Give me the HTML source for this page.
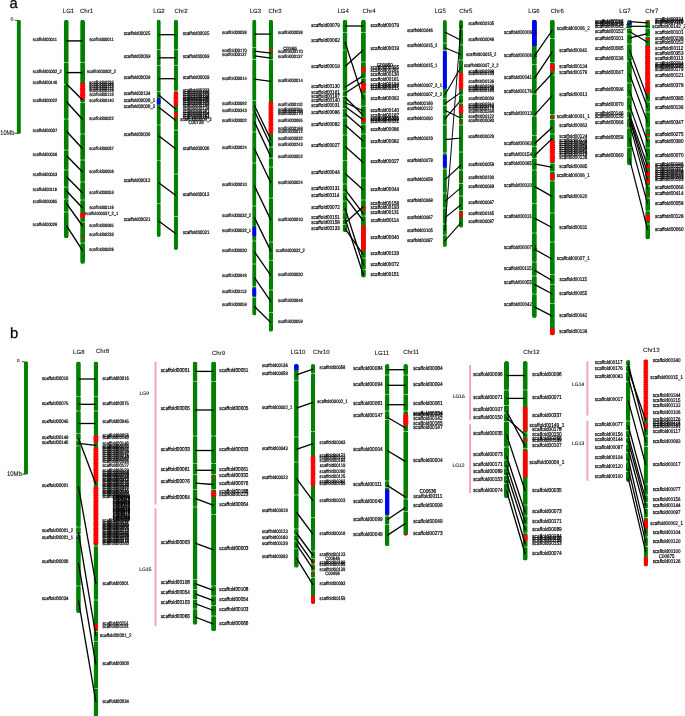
<!DOCTYPE html>
<html lang="en">
<head>
<meta charset="utf-8">
<title>Linkage groups vs chromosomes</title>
<style>
html,body{margin:0;padding:0;background:#fff;}
body{width:685px;height:716px;overflow:hidden;}
svg text{white-space:pre;text-rendering:geometricPrecision;stroke:#000;stroke-width:0.2px;}
svg text.t{stroke-width:0.08px;}
svg line{stroke:#000;stroke-width:1.3px;}
</style>
</head>
<body>
<svg width="685" height="716" viewBox="0 0 685 716" font-family="'Liberation Sans', sans-serif" style="display:block">
<defs><clipPath id="c3"><rect x="63.88" y="19.8" width="4.85" height="218.5" rx="2.42" ry="2.42"/></clipPath><clipPath id="c4"><rect x="80.17" y="19.8" width="4.85" height="244.1" rx="2.42" ry="2.42"/></clipPath><clipPath id="c5"><rect x="156.62" y="19.8" width="4.15" height="217.2" rx="2.08" ry="2.08"/></clipPath><clipPath id="c6"><rect x="173.83" y="19.8" width="4.15" height="230.2" rx="2.08" ry="2.08"/></clipPath><clipPath id="c7"><rect x="252.2" y="19.8" width="4.2" height="295.7" rx="2.1" ry="2.1"/></clipPath><clipPath id="c8"><rect x="268.7" y="19.8" width="4.4" height="312" rx="2.2" ry="2.2"/></clipPath><clipPath id="c9"><rect x="342.57" y="19.8" width="4.85" height="212.4" rx="2.42" ry="2.42"/></clipPath><clipPath id="c10"><rect x="361.02" y="19.8" width="4.85" height="257.9" rx="2.42" ry="2.42"/></clipPath><clipPath id="c11"><rect x="442.73" y="19.9" width="4.15" height="227.1" rx="2.08" ry="2.08"/></clipPath><clipPath id="c12"><rect x="458.93" y="19.9" width="4.15" height="207.9" rx="2.08" ry="2.08"/></clipPath><clipPath id="c13"><rect x="531.98" y="19.8" width="4.85" height="298.3" rx="2.42" ry="2.42"/></clipPath><clipPath id="c14"><rect x="549.98" y="19.8" width="4.85" height="315.7" rx="2.42" ry="2.42"/></clipPath><clipPath id="c15"><rect x="627.03" y="19.7" width="4.85" height="145.8" rx="2.42" ry="2.42"/></clipPath><clipPath id="c16"><rect x="645.27" y="19.7" width="4.75" height="219.7" rx="2.38" ry="2.38"/></clipPath><clipPath id="c17"><rect x="76.08" y="361.4" width="4.75" height="251.8" rx="2.38" ry="2.38"/></clipPath><clipPath id="c18"><rect x="93.6" y="361.4" width="4.6" height="358.6" rx="2.3" ry="2.3"/></clipPath><clipPath id="c19"><rect x="192.75" y="361.6" width="4.7" height="263.2" rx="2.35" ry="2.35"/></clipPath><clipPath id="c20"><rect x="211.1" y="361.6" width="5" height="269.7" rx="2.5" ry="2.5"/></clipPath><clipPath id="c21"><rect x="294.05" y="364" width="4.7" height="203.8" rx="2.35" ry="2.35"/></clipPath><clipPath id="c22"><rect x="310.85" y="364" width="4.3" height="240" rx="2.15" ry="2.15"/></clipPath><clipPath id="c23"><rect x="384.93" y="364" width="4.55" height="182.3" rx="2.27" ry="2.27"/></clipPath><clipPath id="c24"><rect x="403.27" y="364" width="4.85" height="171.7" rx="2.42" ry="2.42"/></clipPath><clipPath id="c25"><rect x="504" y="361" width="5" height="137.2" rx="2.5" ry="2.5"/></clipPath><clipPath id="c26"><rect x="522.7" y="361" width="5" height="199.6" rx="2.5" ry="2.5"/></clipPath><clipPath id="c27"><rect x="626" y="360" width="4.4" height="122" rx="2.2" ry="2.2"/></clipPath><clipPath id="c28"><rect x="643.67" y="359.5" width="4.25" height="206.9" rx="2.12" ry="2.12"/></clipPath></defs>
<g stroke-linecap="butt">
<text x="9.6" y="8.3" font-size="14.8" fill="#000" class="t" style="stroke:#000;stroke-width:0.25px">a</text>
<text x="9.9" y="337.8" font-size="14.8" fill="#000" class="t" style="stroke:#000;stroke-width:0.25px">b</text>
<rect x="16.9" y="20" width="3.9" height="113.8" rx="1" fill="#008000"/>
<line x1="14.65" y1="20.3" x2="17.35" y2="20.3" style="stroke-width:0.7px"/>
<line x1="14.55" y1="133.4" x2="17.85" y2="133.4" style="stroke-width:0.7px"/>
<text x="10.5" y="21.01" font-size="5.3" fill="#111" class="t">0</text>
<text x="0.3" y="134.7" font-size="6.8" fill="#111" class="t" textLength="14" lengthAdjust="spacingAndGlyphs">10Mb</text>
<rect x="24.05" y="361.4" width="3.9" height="113.2" rx="1" fill="#008000"/>
<line x1="21.8" y1="361.7" x2="24.5" y2="361.7" style="stroke-width:0.7px"/>
<line x1="21.7" y1="474.2" x2="25" y2="474.2" style="stroke-width:0.7px"/>
<text x="16.9" y="362.16" font-size="4.6" fill="#111" class="t">0</text>
<text x="7" y="475.5" font-size="6.8" fill="#111" class="t" textLength="14.9" lengthAdjust="spacingAndGlyphs">10Mb</text>
<g clip-path="url(#c3)"><rect x="63.88" y="19.8" width="4.85" height="218.5" fill="#008000"/><rect x="63.88" y="62" width="4.85" height="0.6" fill="#fff" opacity="0.6"/><ellipse cx="63.88" cy="62.3" rx="1" ry="0.55" fill="#fff"/><ellipse cx="68.72" cy="62.3" rx="1" ry="0.55" fill="#fff"/><rect x="63.88" y="84.2" width="4.85" height="0.6" fill="#fff" opacity="0.6"/><ellipse cx="63.88" cy="84.5" rx="1" ry="0.55" fill="#fff"/><ellipse cx="68.72" cy="84.5" rx="1" ry="0.55" fill="#fff"/><rect x="63.88" y="118.7" width="4.85" height="0.6" fill="#fff" opacity="0.6"/><ellipse cx="63.88" cy="119" rx="1" ry="0.55" fill="#fff"/><ellipse cx="68.72" cy="119" rx="1" ry="0.55" fill="#fff"/><rect x="63.88" y="149.7" width="4.85" height="0.6" fill="#fff" opacity="0.6"/><ellipse cx="63.88" cy="150" rx="1" ry="0.55" fill="#fff"/><ellipse cx="68.72" cy="150" rx="1" ry="0.55" fill="#fff"/><rect x="63.88" y="169.7" width="4.85" height="0.6" fill="#fff" opacity="0.6"/><ellipse cx="63.88" cy="170" rx="1" ry="0.55" fill="#fff"/><ellipse cx="68.72" cy="170" rx="1" ry="0.55" fill="#fff"/><rect x="63.88" y="186.7" width="4.85" height="0.6" fill="#fff" opacity="0.6"/><ellipse cx="63.88" cy="187" rx="1" ry="0.55" fill="#fff"/><ellipse cx="68.72" cy="187" rx="1" ry="0.55" fill="#fff"/><rect x="63.88" y="198.7" width="4.85" height="0.6" fill="#fff" opacity="0.6"/><ellipse cx="63.88" cy="199" rx="1" ry="0.55" fill="#fff"/><ellipse cx="68.72" cy="199" rx="1" ry="0.55" fill="#fff"/><rect x="63.88" y="211.7" width="4.85" height="0.6" fill="#fff" opacity="0.6"/><ellipse cx="63.88" cy="212" rx="1" ry="0.55" fill="#fff"/><ellipse cx="68.72" cy="212" rx="1" ry="0.55" fill="#fff"/></g>
<g clip-path="url(#c4)"><rect x="80.17" y="19.8" width="4.85" height="244.1" fill="#008000"/><rect x="80.17" y="82.8" width="4.85" height="17.2" rx="1.2" fill="red"/><rect x="80.17" y="212.8" width="4.85" height="5.1" rx="1.2" fill="red"/><rect x="80.17" y="235.8" width="4.85" height="1.2" rx="0.6" fill="red"/><rect x="80.17" y="62" width="4.85" height="0.6" fill="#fff" opacity="0.6"/><ellipse cx="80.17" cy="62.3" rx="1" ry="0.55" fill="#fff"/><ellipse cx="85.02" cy="62.3" rx="1" ry="0.55" fill="#fff"/><rect x="80.17" y="102.2" width="4.85" height="0.6" fill="#fff" opacity="0.6"/><ellipse cx="80.17" cy="102.5" rx="1" ry="0.55" fill="#fff"/><ellipse cx="85.02" cy="102.5" rx="1" ry="0.55" fill="#fff"/><rect x="80.17" y="133.7" width="4.85" height="0.6" fill="#fff" opacity="0.6"/><ellipse cx="80.17" cy="134" rx="1" ry="0.55" fill="#fff"/><ellipse cx="85.02" cy="134" rx="1" ry="0.55" fill="#fff"/><rect x="80.17" y="159.7" width="4.85" height="0.6" fill="#fff" opacity="0.6"/><ellipse cx="80.17" cy="160" rx="1" ry="0.55" fill="#fff"/><ellipse cx="85.02" cy="160" rx="1" ry="0.55" fill="#fff"/><rect x="80.17" y="181.7" width="4.85" height="0.6" fill="#fff" opacity="0.6"/><ellipse cx="80.17" cy="182" rx="1" ry="0.55" fill="#fff"/><ellipse cx="85.02" cy="182" rx="1" ry="0.55" fill="#fff"/><rect x="80.17" y="199.7" width="4.85" height="0.6" fill="#fff" opacity="0.6"/><ellipse cx="80.17" cy="200" rx="1" ry="0.55" fill="#fff"/><ellipse cx="85.02" cy="200" rx="1" ry="0.55" fill="#fff"/><rect x="80.17" y="221.7" width="4.85" height="0.6" fill="#fff" opacity="0.6"/><ellipse cx="80.17" cy="222" rx="1" ry="0.55" fill="#fff"/><ellipse cx="85.02" cy="222" rx="1" ry="0.55" fill="#fff"/><rect x="80.17" y="242.7" width="4.85" height="0.6" fill="#fff" opacity="0.6"/><ellipse cx="80.17" cy="243" rx="1" ry="0.55" fill="#fff"/><ellipse cx="85.02" cy="243" rx="1" ry="0.55" fill="#fff"/></g>
<rect x="79.97" y="83" width="5.25" height="16.8" rx="1" fill="red"/>
<ellipse cx="79.92" cy="84.1" rx="0.5" ry="0.42" fill="#fff"/><ellipse cx="85.27" cy="84.1" rx="0.5" ry="0.42" fill="#fff"/>
<ellipse cx="79.92" cy="85.85" rx="0.75" ry="0.42" fill="#fff"/><ellipse cx="85.27" cy="85.85" rx="0.75" ry="0.42" fill="#fff"/>
<ellipse cx="79.92" cy="87.6" rx="0.75" ry="0.42" fill="#fff"/><ellipse cx="85.27" cy="87.6" rx="0.75" ry="0.42" fill="#fff"/>
<ellipse cx="79.92" cy="89.35" rx="0.5" ry="0.42" fill="#fff"/><ellipse cx="85.27" cy="89.35" rx="0.5" ry="0.42" fill="#fff"/>
<ellipse cx="79.92" cy="91.1" rx="0.75" ry="0.42" fill="#fff"/><ellipse cx="85.27" cy="91.1" rx="0.75" ry="0.42" fill="#fff"/>
<ellipse cx="79.92" cy="92.85" rx="0.75" ry="0.42" fill="#fff"/><ellipse cx="85.27" cy="92.85" rx="0.75" ry="0.42" fill="#fff"/>
<ellipse cx="79.92" cy="94.6" rx="0.5" ry="0.42" fill="#fff"/><ellipse cx="85.27" cy="94.6" rx="0.5" ry="0.42" fill="#fff"/>
<ellipse cx="79.92" cy="96.35" rx="0.75" ry="0.42" fill="#fff"/><ellipse cx="85.27" cy="96.35" rx="0.75" ry="0.42" fill="#fff"/>
<ellipse cx="79.92" cy="98.1" rx="0.75" ry="0.42" fill="#fff"/><ellipse cx="85.27" cy="98.1" rx="0.75" ry="0.42" fill="#fff"/>
<line x1="66.3" y1="40.9" x2="82.6" y2="40.9" style="stroke-width:1.4px"/>
<line x1="66.3" y1="72.6" x2="82.6" y2="72.6" style="stroke-width:1.4px"/>
<line x1="66.3" y1="83.8" x2="82.6" y2="100.1" style="stroke-width:1.4px"/>
<line x1="66.3" y1="101.5" x2="82.6" y2="119.5" style="stroke-width:1.4px"/>
<line x1="66.3" y1="131" x2="82.6" y2="148.8" style="stroke-width:1.4px"/>
<line x1="66.3" y1="155.5" x2="82.6" y2="171.9" style="stroke-width:1.4px"/>
<line x1="66.3" y1="176.6" x2="82.6" y2="192.9" style="stroke-width:1.4px"/>
<line x1="66.3" y1="190.7" x2="82.6" y2="208" style="stroke-width:1.4px"/>
<line x1="66.3" y1="203.2" x2="82.6" y2="226" style="stroke-width:1.4px"/>
<line x1="66.3" y1="225.4" x2="82.6" y2="250.6" style="stroke-width:1.4px"/>
<text x="32.7" y="41.26" font-size="4.74" textLength="24.23" lengthAdjust="spacingAndGlyphs">scaffold00011</text>
<text x="32.7" y="72.86" font-size="4.74" textLength="28.92" lengthAdjust="spacingAndGlyphs">scaffold00002_2</text>
<text x="32.7" y="84.26" font-size="4.74" textLength="24.53" lengthAdjust="spacingAndGlyphs">scaffold00140</text>
<text x="32.7" y="102.06" font-size="4.74" textLength="24.53" lengthAdjust="spacingAndGlyphs">scaffold00022</text>
<text x="32.7" y="131.86" font-size="4.74" textLength="24.53" lengthAdjust="spacingAndGlyphs">scaffold00037</text>
<text x="32.7" y="155.76" font-size="4.74" textLength="24.53" lengthAdjust="spacingAndGlyphs">scaffold00056</text>
<text x="32.7" y="175.76" font-size="4.74" textLength="24.53" lengthAdjust="spacingAndGlyphs">scaffold00053</text>
<text x="32.7" y="190.76" font-size="4.74" textLength="24.23" lengthAdjust="spacingAndGlyphs">scaffold00116</text>
<text x="32.7" y="203.36" font-size="4.74" textLength="24.53" lengthAdjust="spacingAndGlyphs">scaffold00065</text>
<text x="32.7" y="225.86" font-size="4.74" textLength="24.53" lengthAdjust="spacingAndGlyphs">scaffold00026</text>
<text x="101.5" y="41.26" font-size="4.74" text-anchor="middle" textLength="24.23" lengthAdjust="spacingAndGlyphs">scaffold00011</text>
<text x="101.5" y="72.86" font-size="4.74" text-anchor="middle" textLength="28.92" lengthAdjust="spacingAndGlyphs">scaffold00002_2</text>
<text x="101.5" y="83.66" font-size="4.74" text-anchor="middle" textLength="24.53" lengthAdjust="spacingAndGlyphs">scaffold00232</text>
<text x="101.5" y="85.66" font-size="4.74" text-anchor="middle" textLength="24.53" lengthAdjust="spacingAndGlyphs">scaffold00198</text>
<text x="101.5" y="87.76" font-size="4.74" text-anchor="middle" textLength="24.53" lengthAdjust="spacingAndGlyphs">scaffold00213</text>
<text x="101.5" y="89.76" font-size="4.74" text-anchor="middle" textLength="24.53" lengthAdjust="spacingAndGlyphs">scaffold00175</text>
<text x="101.5" y="91.86" font-size="4.74" text-anchor="middle" textLength="24.53" lengthAdjust="spacingAndGlyphs">scaffold00226</text>
<text x="101.5" y="95.86" font-size="4.74" text-anchor="middle" textLength="24.23" lengthAdjust="spacingAndGlyphs">scaffold00118</text>
<text x="101.5" y="102.06" font-size="4.74" text-anchor="middle" textLength="24.53" lengthAdjust="spacingAndGlyphs">scaffold00140</text>
<text x="101.5" y="120.36" font-size="4.74" text-anchor="middle" textLength="24.53" lengthAdjust="spacingAndGlyphs">scaffold00022</text>
<text x="101.5" y="149.86" font-size="4.74" text-anchor="middle" textLength="24.53" lengthAdjust="spacingAndGlyphs">scaffold00037</text>
<text x="101.5" y="173.16" font-size="4.74" text-anchor="middle" textLength="24.53" lengthAdjust="spacingAndGlyphs">scaffold00056</text>
<text x="101.5" y="193.56" font-size="4.74" text-anchor="middle" textLength="24.53" lengthAdjust="spacingAndGlyphs">scaffold00053</text>
<text x="101.5" y="208.66" font-size="4.74" text-anchor="middle" textLength="24.23" lengthAdjust="spacingAndGlyphs">scaffold00116</text>
<text x="101.5" y="215.26" font-size="4.74" text-anchor="middle" textLength="33.31" lengthAdjust="spacingAndGlyphs">scaffold00037_2_1</text>
<text x="101.5" y="226.86" font-size="4.74" text-anchor="middle" textLength="24.53" lengthAdjust="spacingAndGlyphs">scaffold00065</text>
<text x="101.5" y="236.46" font-size="4.74" text-anchor="middle" textLength="24.53" lengthAdjust="spacingAndGlyphs">scaffold00233</text>
<text x="101.5" y="250.86" font-size="4.74" text-anchor="middle" textLength="24.53" lengthAdjust="spacingAndGlyphs">scaffold00026</text>
<text x="68.5" y="13.38" font-size="6.05" text-anchor="middle" fill="#111" class="t">LG1</text>
<text x="86.5" y="13.38" font-size="6.05" text-anchor="middle" fill="#111" class="t">Chr1</text>
<g clip-path="url(#c5)"><rect x="156.62" y="19.8" width="4.15" height="217.2" fill="#008000"/><rect x="156.62" y="98.5" width="4.15" height="5.7" rx="1.2" fill="blue"/><rect x="156.62" y="49.4" width="4.15" height="0.6" fill="#fff" opacity="0.6"/><ellipse cx="156.62" cy="49.7" rx="1" ry="0.55" fill="#fff"/><ellipse cx="160.77" cy="49.7" rx="1" ry="0.55" fill="#fff"/><rect x="156.62" y="65.1" width="4.15" height="0.6" fill="#fff" opacity="0.6"/><ellipse cx="156.62" cy="65.4" rx="1" ry="0.55" fill="#fff"/><ellipse cx="160.77" cy="65.4" rx="1" ry="0.55" fill="#fff"/><rect x="156.62" y="91.2" width="4.15" height="0.6" fill="#fff" opacity="0.6"/><ellipse cx="156.62" cy="91.5" rx="1" ry="0.55" fill="#fff"/><ellipse cx="160.77" cy="91.5" rx="1" ry="0.55" fill="#fff"/><rect x="156.62" y="159.9" width="4.15" height="0.6" fill="#fff" opacity="0.6"/><ellipse cx="156.62" cy="160.2" rx="1" ry="0.55" fill="#fff"/><ellipse cx="160.77" cy="160.2" rx="1" ry="0.55" fill="#fff"/><rect x="156.62" y="203" width="4.15" height="0.6" fill="#fff" opacity="0.6"/><ellipse cx="156.62" cy="203.3" rx="1" ry="0.55" fill="#fff"/><ellipse cx="160.77" cy="203.3" rx="1" ry="0.55" fill="#fff"/><rect x="156.62" y="124.7" width="4.15" height="0.6" fill="#fff" opacity="0.6"/><ellipse cx="156.62" cy="125" rx="1" ry="0.55" fill="#fff"/><ellipse cx="160.77" cy="125" rx="1" ry="0.55" fill="#fff"/></g>
<g clip-path="url(#c6)"><rect x="173.83" y="19.8" width="4.15" height="230.2" fill="#008000"/><rect x="173.83" y="92" width="4.15" height="14.3" rx="1.2" fill="red"/><rect x="173.83" y="112" width="4.15" height="5" rx="1.2" fill="red"/><rect x="173.83" y="122.7" width="4.15" height="1" rx="0.5" fill="red"/><rect x="173.83" y="49.4" width="4.15" height="0.6" fill="#fff" opacity="0.6"/><ellipse cx="173.83" cy="49.7" rx="1" ry="0.55" fill="#fff"/><ellipse cx="177.97" cy="49.7" rx="1" ry="0.55" fill="#fff"/><rect x="173.83" y="65.1" width="4.15" height="0.6" fill="#fff" opacity="0.6"/><ellipse cx="173.83" cy="65.4" rx="1" ry="0.55" fill="#fff"/><ellipse cx="177.97" cy="65.4" rx="1" ry="0.55" fill="#fff"/><rect x="173.83" y="90.7" width="4.15" height="0.6" fill="#fff" opacity="0.6"/><ellipse cx="173.83" cy="91" rx="1" ry="0.55" fill="#fff"/><ellipse cx="177.97" cy="91" rx="1" ry="0.55" fill="#fff"/><rect x="173.83" y="173.7" width="4.15" height="0.6" fill="#fff" opacity="0.6"/><ellipse cx="173.83" cy="174" rx="1" ry="0.55" fill="#fff"/><ellipse cx="177.97" cy="174" rx="1" ry="0.55" fill="#fff"/><rect x="173.83" y="216.1" width="4.15" height="0.6" fill="#fff" opacity="0.6"/><ellipse cx="173.83" cy="216.4" rx="1" ry="0.55" fill="#fff"/><ellipse cx="177.97" cy="216.4" rx="1" ry="0.55" fill="#fff"/><rect x="173.83" y="129.7" width="4.15" height="0.6" fill="#fff" opacity="0.6"/><ellipse cx="173.83" cy="130" rx="1" ry="0.55" fill="#fff"/><ellipse cx="177.97" cy="130" rx="1" ry="0.55" fill="#fff"/></g>
<rect x="173.63" y="92.2" width="4.55" height="13.9" rx="1" fill="red"/>
<ellipse cx="173.58" cy="93.3" rx="0.5" ry="0.42" fill="#fff"/><ellipse cx="178.22" cy="93.3" rx="0.5" ry="0.42" fill="#fff"/>
<ellipse cx="173.58" cy="95.05" rx="0.75" ry="0.42" fill="#fff"/><ellipse cx="178.22" cy="95.05" rx="0.75" ry="0.42" fill="#fff"/>
<ellipse cx="173.58" cy="96.8" rx="0.75" ry="0.42" fill="#fff"/><ellipse cx="178.22" cy="96.8" rx="0.75" ry="0.42" fill="#fff"/>
<ellipse cx="173.58" cy="98.55" rx="0.5" ry="0.42" fill="#fff"/><ellipse cx="178.22" cy="98.55" rx="0.5" ry="0.42" fill="#fff"/>
<ellipse cx="173.58" cy="100.3" rx="0.75" ry="0.42" fill="#fff"/><ellipse cx="178.22" cy="100.3" rx="0.75" ry="0.42" fill="#fff"/>
<ellipse cx="173.58" cy="102.05" rx="0.75" ry="0.42" fill="#fff"/><ellipse cx="178.22" cy="102.05" rx="0.75" ry="0.42" fill="#fff"/>
<ellipse cx="173.58" cy="103.8" rx="0.5" ry="0.42" fill="#fff"/><ellipse cx="178.22" cy="103.8" rx="0.5" ry="0.42" fill="#fff"/>
<line x1="158.7" y1="34.7" x2="175.9" y2="34.7"/>
<line x1="158.7" y1="57.8" x2="175.9" y2="57.8"/>
<line x1="158.7" y1="78.7" x2="175.9" y2="78.7"/>
<line x1="158.7" y1="95" x2="175.9" y2="109.3"/>
<line x1="158.7" y1="107.3" x2="175.9" y2="120.6"/>
<line x1="158.7" y1="135.8" x2="175.9" y2="149.1"/>
<line x1="158.7" y1="182.8" x2="175.9" y2="195.5"/>
<line x1="158.7" y1="221" x2="175.9" y2="233.7"/>
<text x="123.7" y="34.91" font-size="5.16" textLength="26.7" lengthAdjust="spacingAndGlyphs">scaffold00025</text>
<text x="123.7" y="58.21" font-size="5.16" textLength="26.7" lengthAdjust="spacingAndGlyphs">scaffold00069</text>
<text x="123.7" y="79.01" font-size="5.16" textLength="26.7" lengthAdjust="spacingAndGlyphs">scaffold00009</text>
<text x="123.7" y="95.21" font-size="5.16" textLength="26.7" lengthAdjust="spacingAndGlyphs">scaffold00134</text>
<text x="123.7" y="102.11" font-size="5.16" textLength="31.48" lengthAdjust="spacingAndGlyphs">scaffold00008_1</text>
<text x="123.7" y="108.01" font-size="5.16" textLength="31.48" lengthAdjust="spacingAndGlyphs">scaffold00008_2</text>
<text x="123.7" y="136.31" font-size="5.16" textLength="26.7" lengthAdjust="spacingAndGlyphs">scaffold00006</text>
<text x="123.7" y="182.41" font-size="5.16" textLength="26.7" lengthAdjust="spacingAndGlyphs">scaffold00012</text>
<text x="123.7" y="220.81" font-size="5.16" textLength="26.7" lengthAdjust="spacingAndGlyphs">scaffold00021</text>
<text x="196" y="34.91" font-size="5.16" text-anchor="middle" textLength="26.7" lengthAdjust="spacingAndGlyphs">scaffold00025</text>
<text x="196" y="58.21" font-size="5.16" text-anchor="middle" textLength="26.7" lengthAdjust="spacingAndGlyphs">scaffold00069</text>
<text x="196" y="79.01" font-size="5.16" text-anchor="middle" textLength="26.7" lengthAdjust="spacingAndGlyphs">scaffold00009</text>
<text x="196" y="92.31" font-size="5.16" text-anchor="middle" textLength="26.7" lengthAdjust="spacingAndGlyphs">scaffold00203</text>
<text x="196" y="94.11" font-size="5.16" text-anchor="middle" textLength="26.7" lengthAdjust="spacingAndGlyphs">scaffold00186</text>
<text x="196" y="95.91" font-size="5.16" text-anchor="middle" textLength="26.7" lengthAdjust="spacingAndGlyphs">scaffold00259</text>
<text x="196" y="97.71" font-size="5.16" text-anchor="middle" textLength="26.7" lengthAdjust="spacingAndGlyphs">scaffold00134</text>
<text x="196" y="99.51" font-size="5.16" text-anchor="middle" textLength="26.7" lengthAdjust="spacingAndGlyphs">scaffold00388</text>
<text x="196" y="101.31" font-size="5.16" text-anchor="middle" textLength="26.7" lengthAdjust="spacingAndGlyphs">scaffold00225</text>
<text x="196" y="103.11" font-size="5.16" text-anchor="middle" textLength="26.7" lengthAdjust="spacingAndGlyphs">scaffold00196</text>
<text x="196" y="104.91" font-size="5.16" text-anchor="middle" textLength="26.7" lengthAdjust="spacingAndGlyphs">scaffold00283</text>
<text x="196" y="106.71" font-size="5.16" text-anchor="middle" textLength="26.7" lengthAdjust="spacingAndGlyphs">scaffold00148</text>
<text x="196" y="109.81" font-size="5.16" text-anchor="middle" textLength="26.7" lengthAdjust="spacingAndGlyphs">scaffold00134</text>
<text x="196" y="113.31" font-size="5.16" text-anchor="middle" textLength="26.7" lengthAdjust="spacingAndGlyphs">scaffold00241</text>
<text x="196" y="115.11" font-size="5.16" text-anchor="middle" textLength="26.7" lengthAdjust="spacingAndGlyphs">scaffold00164</text>
<text x="196" y="116.91" font-size="5.16" text-anchor="middle" textLength="26.7" lengthAdjust="spacingAndGlyphs">scaffold00291</text>
<text x="196" y="118.71" font-size="5.16" text-anchor="middle" textLength="26.7" lengthAdjust="spacingAndGlyphs">scaffold00184</text>
<text x="196" y="120.51" font-size="5.16" text-anchor="middle" textLength="31.48" lengthAdjust="spacingAndGlyphs">scaffold00008_2</text>
<text x="196" y="124.21" font-size="5.16" text-anchor="middle" textLength="15.06" lengthAdjust="spacingAndGlyphs">C00728</text>
<text x="196" y="149.51" font-size="5.16" text-anchor="middle" textLength="26.7" lengthAdjust="spacingAndGlyphs">scaffold00006</text>
<text x="196" y="196.11" font-size="5.16" text-anchor="middle" textLength="26.7" lengthAdjust="spacingAndGlyphs">scaffold00012</text>
<text x="196" y="234.31" font-size="5.16" text-anchor="middle" textLength="26.7" lengthAdjust="spacingAndGlyphs">scaffold00021</text>
<text x="159" y="13.38" font-size="6.05" text-anchor="middle" fill="#111" class="t">LG2</text>
<text x="181" y="13.38" font-size="6.05" text-anchor="middle" fill="#111" class="t">Chr2</text>
<g clip-path="url(#c7)"><rect x="252.2" y="19.8" width="4.2" height="295.7" fill="#008000"/><rect x="252.2" y="226.7" width="4.2" height="9.6" rx="1.2" fill="blue"/><rect x="252.2" y="288.3" width="4.2" height="7.7" rx="1.2" fill="blue"/><rect x="252.2" y="47.2" width="4.2" height="0.6" fill="#fff" opacity="0.6"/><ellipse cx="252.2" cy="47.5" rx="1" ry="0.55" fill="#fff"/><ellipse cx="256.4" cy="47.5" rx="1" ry="0.55" fill="#fff"/><rect x="252.2" y="59.2" width="4.2" height="0.6" fill="#fff" opacity="0.6"/><ellipse cx="252.2" cy="59.5" rx="1" ry="0.55" fill="#fff"/><ellipse cx="256.4" cy="59.5" rx="1" ry="0.55" fill="#fff"/><rect x="252.2" y="100.2" width="4.2" height="0.6" fill="#fff" opacity="0.6"/><ellipse cx="252.2" cy="100.5" rx="1" ry="0.55" fill="#fff"/><ellipse cx="256.4" cy="100.5" rx="1" ry="0.55" fill="#fff"/><rect x="252.2" y="111.7" width="4.2" height="0.6" fill="#fff" opacity="0.6"/><ellipse cx="252.2" cy="112" rx="1" ry="0.55" fill="#fff"/><ellipse cx="256.4" cy="112" rx="1" ry="0.55" fill="#fff"/><rect x="252.2" y="131.7" width="4.2" height="0.6" fill="#fff" opacity="0.6"/><ellipse cx="252.2" cy="132" rx="1" ry="0.55" fill="#fff"/><ellipse cx="256.4" cy="132" rx="1" ry="0.55" fill="#fff"/><rect x="252.2" y="162.7" width="4.2" height="0.6" fill="#fff" opacity="0.6"/><ellipse cx="252.2" cy="163" rx="1" ry="0.55" fill="#fff"/><ellipse cx="256.4" cy="163" rx="1" ry="0.55" fill="#fff"/><rect x="252.2" y="205.7" width="4.2" height="0.6" fill="#fff" opacity="0.6"/><ellipse cx="252.2" cy="206" rx="1" ry="0.55" fill="#fff"/><ellipse cx="256.4" cy="206" rx="1" ry="0.55" fill="#fff"/><rect x="252.2" y="263.7" width="4.2" height="0.6" fill="#fff" opacity="0.6"/><ellipse cx="252.2" cy="264" rx="1" ry="0.55" fill="#fff"/><ellipse cx="256.4" cy="264" rx="1" ry="0.55" fill="#fff"/><rect x="252.2" y="286.2" width="4.2" height="0.6" fill="#fff" opacity="0.6"/><ellipse cx="252.2" cy="286.5" rx="1" ry="0.55" fill="#fff"/><ellipse cx="256.4" cy="286.5" rx="1" ry="0.55" fill="#fff"/><rect x="252.2" y="297.2" width="4.2" height="0.6" fill="#fff" opacity="0.6"/><ellipse cx="252.2" cy="297.5" rx="1" ry="0.55" fill="#fff"/><ellipse cx="256.4" cy="297.5" rx="1" ry="0.55" fill="#fff"/><rect x="252.2" y="240.7" width="4.2" height="0.6" fill="#fff" opacity="0.6"/><ellipse cx="252.2" cy="241" rx="1" ry="0.55" fill="#fff"/><ellipse cx="256.4" cy="241" rx="1" ry="0.55" fill="#fff"/></g>
<g clip-path="url(#c8)"><rect x="268.7" y="19.8" width="4.4" height="312" fill="#008000"/><rect x="268.7" y="49" width="4.4" height="2" rx="1" fill="red"/><rect x="268.7" y="101.8" width="4.4" height="32" rx="1.2" fill="red"/><rect x="268.7" y="59.2" width="4.4" height="0.6" fill="#fff" opacity="0.6"/><ellipse cx="268.7" cy="59.5" rx="1" ry="0.55" fill="#fff"/><ellipse cx="273.1" cy="59.5" rx="1" ry="0.55" fill="#fff"/><rect x="268.7" y="146.7" width="4.4" height="0.6" fill="#fff" opacity="0.6"/><ellipse cx="268.7" cy="147" rx="1" ry="0.55" fill="#fff"/><ellipse cx="273.1" cy="147" rx="1" ry="0.55" fill="#fff"/><rect x="268.7" y="157.7" width="4.4" height="0.6" fill="#fff" opacity="0.6"/><ellipse cx="268.7" cy="158" rx="1" ry="0.55" fill="#fff"/><ellipse cx="273.1" cy="158" rx="1" ry="0.55" fill="#fff"/><rect x="268.7" y="166.7" width="4.4" height="0.6" fill="#fff" opacity="0.6"/><ellipse cx="268.7" cy="167" rx="1" ry="0.55" fill="#fff"/><ellipse cx="273.1" cy="167" rx="1" ry="0.55" fill="#fff"/><rect x="268.7" y="197.7" width="4.4" height="0.6" fill="#fff" opacity="0.6"/><ellipse cx="268.7" cy="198" rx="1" ry="0.55" fill="#fff"/><ellipse cx="273.1" cy="198" rx="1" ry="0.55" fill="#fff"/><rect x="268.7" y="241.7" width="4.4" height="0.6" fill="#fff" opacity="0.6"/><ellipse cx="268.7" cy="242" rx="1" ry="0.55" fill="#fff"/><ellipse cx="273.1" cy="242" rx="1" ry="0.55" fill="#fff"/><rect x="268.7" y="260.2" width="4.4" height="0.6" fill="#fff" opacity="0.6"/><ellipse cx="268.7" cy="260.5" rx="1" ry="0.55" fill="#fff"/><ellipse cx="273.1" cy="260.5" rx="1" ry="0.55" fill="#fff"/><rect x="268.7" y="289.7" width="4.4" height="0.6" fill="#fff" opacity="0.6"/><ellipse cx="268.7" cy="290" rx="1" ry="0.55" fill="#fff"/><ellipse cx="273.1" cy="290" rx="1" ry="0.55" fill="#fff"/><rect x="268.7" y="312.2" width="4.4" height="0.6" fill="#fff" opacity="0.6"/><ellipse cx="268.7" cy="312.5" rx="1" ry="0.55" fill="#fff"/><ellipse cx="273.1" cy="312.5" rx="1" ry="0.55" fill="#fff"/></g>
<rect x="268.5" y="102" width="4.8" height="31.6" rx="1" fill="red"/>
<ellipse cx="268.45" cy="103.1" rx="0.5" ry="0.42" fill="#fff"/><ellipse cx="273.35" cy="103.1" rx="0.5" ry="0.42" fill="#fff"/>
<ellipse cx="268.45" cy="104.85" rx="0.75" ry="0.42" fill="#fff"/><ellipse cx="273.35" cy="104.85" rx="0.75" ry="0.42" fill="#fff"/>
<ellipse cx="268.45" cy="106.6" rx="0.75" ry="0.42" fill="#fff"/><ellipse cx="273.35" cy="106.6" rx="0.75" ry="0.42" fill="#fff"/>
<ellipse cx="268.45" cy="108.35" rx="0.5" ry="0.42" fill="#fff"/><ellipse cx="273.35" cy="108.35" rx="0.5" ry="0.42" fill="#fff"/>
<ellipse cx="268.45" cy="110.1" rx="0.75" ry="0.42" fill="#fff"/><ellipse cx="273.35" cy="110.1" rx="0.75" ry="0.42" fill="#fff"/>
<ellipse cx="268.45" cy="111.85" rx="0.75" ry="0.42" fill="#fff"/><ellipse cx="273.35" cy="111.85" rx="0.75" ry="0.42" fill="#fff"/>
<ellipse cx="268.45" cy="113.6" rx="0.5" ry="0.42" fill="#fff"/><ellipse cx="273.35" cy="113.6" rx="0.5" ry="0.42" fill="#fff"/>
<ellipse cx="268.45" cy="115.35" rx="0.75" ry="0.42" fill="#fff"/><ellipse cx="273.35" cy="115.35" rx="0.75" ry="0.42" fill="#fff"/>
<ellipse cx="268.45" cy="117.1" rx="0.75" ry="0.42" fill="#fff"/><ellipse cx="273.35" cy="117.1" rx="0.75" ry="0.42" fill="#fff"/>
<ellipse cx="268.45" cy="118.85" rx="0.5" ry="0.42" fill="#fff"/><ellipse cx="273.35" cy="118.85" rx="0.5" ry="0.42" fill="#fff"/>
<ellipse cx="268.45" cy="120.6" rx="0.75" ry="0.42" fill="#fff"/><ellipse cx="273.35" cy="120.6" rx="0.75" ry="0.42" fill="#fff"/>
<ellipse cx="268.45" cy="122.35" rx="0.75" ry="0.42" fill="#fff"/><ellipse cx="273.35" cy="122.35" rx="0.75" ry="0.42" fill="#fff"/>
<ellipse cx="268.45" cy="124.1" rx="0.5" ry="0.42" fill="#fff"/><ellipse cx="273.35" cy="124.1" rx="0.5" ry="0.42" fill="#fff"/>
<ellipse cx="268.45" cy="125.85" rx="0.75" ry="0.42" fill="#fff"/><ellipse cx="273.35" cy="125.85" rx="0.75" ry="0.42" fill="#fff"/>
<ellipse cx="268.45" cy="127.6" rx="0.75" ry="0.42" fill="#fff"/><ellipse cx="273.35" cy="127.6" rx="0.75" ry="0.42" fill="#fff"/>
<ellipse cx="268.45" cy="129.35" rx="0.5" ry="0.42" fill="#fff"/><ellipse cx="273.35" cy="129.35" rx="0.5" ry="0.42" fill="#fff"/>
<ellipse cx="268.45" cy="131.1" rx="0.75" ry="0.42" fill="#fff"/><ellipse cx="273.35" cy="131.1" rx="0.75" ry="0.42" fill="#fff"/>
<ellipse cx="268.45" cy="132.85" rx="0.75" ry="0.42" fill="#fff"/><ellipse cx="273.35" cy="132.85" rx="0.75" ry="0.42" fill="#fff"/>
<line x1="254.3" y1="34.1" x2="270.9" y2="34.1"/>
<line x1="254.3" y1="51.1" x2="270.9" y2="53.1"/>
<line x1="254.3" y1="55.8" x2="270.9" y2="58.2"/>
<line x1="254.3" y1="79.1" x2="270.9" y2="81.3"/>
<line x1="254.3" y1="105.2" x2="270.9" y2="139.6"/>
<line x1="254.3" y1="110.9" x2="270.9" y2="145.7"/>
<line x1="254.3" y1="121.6" x2="270.9" y2="156.9"/>
<line x1="254.3" y1="148.5" x2="270.9" y2="182.9"/>
<line x1="254.3" y1="185.5" x2="270.9" y2="220.1"/>
<line x1="254.3" y1="217.4" x2="270.9" y2="251.1"/>
<line x1="254.3" y1="251.5" x2="270.9" y2="275.6"/>
<line x1="254.3" y1="277.3" x2="270.9" y2="301.6"/>
<line x1="254.3" y1="306.3" x2="270.9" y2="322.6"/>
<text x="222" y="34.37" font-size="4.76" textLength="24.65" lengthAdjust="spacingAndGlyphs">scaffold00038</text>
<text x="222" y="51.57" font-size="4.76" textLength="24.65" lengthAdjust="spacingAndGlyphs">scaffold00170</text>
<text x="222" y="56.47" font-size="4.76" textLength="24.65" lengthAdjust="spacingAndGlyphs">scaffold00137</text>
<text x="222" y="79.77" font-size="4.76" textLength="24.65" lengthAdjust="spacingAndGlyphs">scaffold00014</text>
<text x="222" y="105.27" font-size="4.76" textLength="24.65" lengthAdjust="spacingAndGlyphs">scaffold00092</text>
<text x="222" y="111.57" font-size="4.76" textLength="24.65" lengthAdjust="spacingAndGlyphs">scaffold00343</text>
<text x="222" y="122.47" font-size="4.76" textLength="24.65" lengthAdjust="spacingAndGlyphs">scaffold00002</text>
<text x="222" y="148.97" font-size="4.76" textLength="24.65" lengthAdjust="spacingAndGlyphs">scaffold00024</text>
<text x="222" y="185.97" font-size="4.76" textLength="24.65" lengthAdjust="spacingAndGlyphs">scaffold00010</text>
<text x="222" y="217.17" font-size="4.76" textLength="29.07" lengthAdjust="spacingAndGlyphs">scaffold00032_2</text>
<text x="222" y="231.87" font-size="4.76" textLength="29.07" lengthAdjust="spacingAndGlyphs">scaffold00032_1</text>
<text x="222" y="251.57" font-size="4.76" textLength="24.65" lengthAdjust="spacingAndGlyphs">scaffold00030</text>
<text x="222" y="276.87" font-size="4.76" textLength="24.65" lengthAdjust="spacingAndGlyphs">scaffold00048</text>
<text x="222" y="292.57" font-size="4.76" textLength="24.36" lengthAdjust="spacingAndGlyphs">scaffold00113</text>
<text x="222" y="306.47" font-size="4.76" textLength="24.65" lengthAdjust="spacingAndGlyphs">scaffold00059</text>
<text x="290.3" y="34.37" font-size="4.76" text-anchor="middle" textLength="24.65" lengthAdjust="spacingAndGlyphs">scaffold00038</text>
<text x="290.3" y="50.27" font-size="4.76" text-anchor="middle" textLength="13.91" lengthAdjust="spacingAndGlyphs">C00465</text>
<text x="290.3" y="53.37" font-size="4.76" text-anchor="middle" textLength="24.65" lengthAdjust="spacingAndGlyphs">scaffold00170</text>
<text x="290.3" y="58.47" font-size="4.76" text-anchor="middle" textLength="24.65" lengthAdjust="spacingAndGlyphs">scaffold00137</text>
<text x="290.3" y="81.87" font-size="4.76" text-anchor="middle" textLength="24.65" lengthAdjust="spacingAndGlyphs">scaffold00014</text>
<text x="290.3" y="106.27" font-size="4.76" text-anchor="middle" textLength="24.36" lengthAdjust="spacingAndGlyphs">scaffold00110</text>
<text x="290.3" y="111.17" font-size="4.76" text-anchor="middle" textLength="24.65" lengthAdjust="spacingAndGlyphs">scaffold00265</text>
<text x="290.3" y="113.27" font-size="4.76" text-anchor="middle" textLength="24.65" lengthAdjust="spacingAndGlyphs">scaffold00199</text>
<text x="290.3" y="115.27" font-size="4.76" text-anchor="middle" textLength="24.65" lengthAdjust="spacingAndGlyphs">scaffold00170</text>
<text x="290.3" y="122.37" font-size="4.76" text-anchor="middle" textLength="24.65" lengthAdjust="spacingAndGlyphs">scaffold00095</text>
<text x="290.3" y="129.57" font-size="4.76" text-anchor="middle" textLength="24.65" lengthAdjust="spacingAndGlyphs">scaffold00168</text>
<text x="290.3" y="133.07" font-size="4.76" text-anchor="middle" textLength="24.65" lengthAdjust="spacingAndGlyphs">scaffold00012</text>
<text x="290.3" y="139.97" font-size="4.76" text-anchor="middle" textLength="24.65" lengthAdjust="spacingAndGlyphs">scaffold00032</text>
<text x="290.3" y="146.17" font-size="4.76" text-anchor="middle" textLength="24.65" lengthAdjust="spacingAndGlyphs">scaffold00243</text>
<text x="290.3" y="157.57" font-size="4.76" text-anchor="middle" textLength="24.65" lengthAdjust="spacingAndGlyphs">scaffold00052</text>
<text x="290.3" y="183.77" font-size="4.76" text-anchor="middle" textLength="24.65" lengthAdjust="spacingAndGlyphs">scaffold00024</text>
<text x="290.3" y="220.77" font-size="4.76" text-anchor="middle" textLength="24.65" lengthAdjust="spacingAndGlyphs">scaffold00010</text>
<text x="290.3" y="252.37" font-size="4.76" text-anchor="middle" textLength="29.07" lengthAdjust="spacingAndGlyphs">scaffold00032_2</text>
<text x="290.3" y="276.47" font-size="4.76" text-anchor="middle" textLength="24.65" lengthAdjust="spacingAndGlyphs">scaffold00030</text>
<text x="290.3" y="301.97" font-size="4.76" text-anchor="middle" textLength="24.65" lengthAdjust="spacingAndGlyphs">scaffold00048</text>
<text x="290.3" y="323.07" font-size="4.76" text-anchor="middle" textLength="24.65" lengthAdjust="spacingAndGlyphs">scaffold00059</text>
<text x="255.4" y="13.38" font-size="6.05" text-anchor="middle" fill="#111" class="t">LG3</text>
<text x="275" y="13.38" font-size="6.05" text-anchor="middle" fill="#111" class="t">Chr3</text>
<g clip-path="url(#c9)"><rect x="342.57" y="19.8" width="4.85" height="212.4" fill="#008000"/><rect x="342.57" y="32.2" width="4.85" height="0.6" fill="#fff" opacity="0.6"/><ellipse cx="342.57" cy="32.5" rx="1" ry="0.55" fill="#fff"/><ellipse cx="347.43" cy="32.5" rx="1" ry="0.55" fill="#fff"/><rect x="342.57" y="49.7" width="4.85" height="0.6" fill="#fff" opacity="0.6"/><ellipse cx="342.57" cy="50" rx="1" ry="0.55" fill="#fff"/><ellipse cx="347.43" cy="50" rx="1" ry="0.55" fill="#fff"/><rect x="342.57" y="90.7" width="4.85" height="0.6" fill="#fff" opacity="0.6"/><ellipse cx="342.57" cy="91" rx="1" ry="0.55" fill="#fff"/><ellipse cx="347.43" cy="91" rx="1" ry="0.55" fill="#fff"/><rect x="342.57" y="96.2" width="4.85" height="0.6" fill="#fff" opacity="0.6"/><ellipse cx="342.57" cy="96.5" rx="1" ry="0.55" fill="#fff"/><ellipse cx="347.43" cy="96.5" rx="1" ry="0.55" fill="#fff"/><rect x="342.57" y="108.2" width="4.85" height="0.6" fill="#fff" opacity="0.6"/><ellipse cx="342.57" cy="108.5" rx="1" ry="0.55" fill="#fff"/><ellipse cx="347.43" cy="108.5" rx="1" ry="0.55" fill="#fff"/><rect x="342.57" y="117.7" width="4.85" height="0.6" fill="#fff" opacity="0.6"/><ellipse cx="342.57" cy="118" rx="1" ry="0.55" fill="#fff"/><ellipse cx="347.43" cy="118" rx="1" ry="0.55" fill="#fff"/><rect x="342.57" y="134.7" width="4.85" height="0.6" fill="#fff" opacity="0.6"/><ellipse cx="342.57" cy="135" rx="1" ry="0.55" fill="#fff"/><ellipse cx="347.43" cy="135" rx="1" ry="0.55" fill="#fff"/><rect x="342.57" y="160.2" width="4.85" height="0.6" fill="#fff" opacity="0.6"/><ellipse cx="342.57" cy="160.5" rx="1" ry="0.55" fill="#fff"/><ellipse cx="347.43" cy="160.5" rx="1" ry="0.55" fill="#fff"/><rect x="342.57" y="183.7" width="4.85" height="0.6" fill="#fff" opacity="0.6"/><ellipse cx="342.57" cy="184" rx="1" ry="0.55" fill="#fff"/><ellipse cx="347.43" cy="184" rx="1" ry="0.55" fill="#fff"/><rect x="342.57" y="191.7" width="4.85" height="0.6" fill="#fff" opacity="0.6"/><ellipse cx="342.57" cy="192" rx="1" ry="0.55" fill="#fff"/><ellipse cx="347.43" cy="192" rx="1" ry="0.55" fill="#fff"/><rect x="342.57" y="200.7" width="4.85" height="0.6" fill="#fff" opacity="0.6"/><ellipse cx="342.57" cy="201" rx="1" ry="0.55" fill="#fff"/><ellipse cx="347.43" cy="201" rx="1" ry="0.55" fill="#fff"/><rect x="342.57" y="211.7" width="4.85" height="0.6" fill="#fff" opacity="0.6"/><ellipse cx="342.57" cy="212" rx="1" ry="0.55" fill="#fff"/><ellipse cx="347.43" cy="212" rx="1" ry="0.55" fill="#fff"/><rect x="342.57" y="219.2" width="4.85" height="0.6" fill="#fff" opacity="0.6"/><ellipse cx="342.57" cy="219.5" rx="1" ry="0.55" fill="#fff"/><ellipse cx="347.43" cy="219.5" rx="1" ry="0.55" fill="#fff"/><rect x="342.57" y="224.2" width="4.85" height="0.6" fill="#fff" opacity="0.6"/><ellipse cx="342.57" cy="224.5" rx="1" ry="0.55" fill="#fff"/><ellipse cx="347.43" cy="224.5" rx="1" ry="0.55" fill="#fff"/></g>
<g clip-path="url(#c10)"><rect x="361.02" y="19.8" width="4.85" height="257.9" fill="#008000"/><rect x="361.02" y="67" width="4.85" height="5" rx="1.2" fill="red"/><rect x="361.02" y="83" width="4.85" height="7.8" rx="1.2" fill="red"/><rect x="361.02" y="117.6" width="4.85" height="4.3" rx="1.2" fill="red"/><rect x="361.02" y="206.6" width="4.85" height="2.9" rx="1.2" fill="red"/><rect x="361.02" y="225.3" width="4.85" height="25.4" rx="1.2" fill="red"/><rect x="361.02" y="32.2" width="4.85" height="0.6" fill="#fff" opacity="0.6"/><ellipse cx="361.02" cy="32.5" rx="1" ry="0.55" fill="#fff"/><ellipse cx="365.88" cy="32.5" rx="1" ry="0.55" fill="#fff"/><rect x="361.02" y="61.7" width="4.85" height="0.6" fill="#fff" opacity="0.6"/><ellipse cx="361.02" cy="62" rx="1" ry="0.55" fill="#fff"/><ellipse cx="365.88" cy="62" rx="1" ry="0.55" fill="#fff"/><rect x="361.02" y="77.7" width="4.85" height="0.6" fill="#fff" opacity="0.6"/><ellipse cx="361.02" cy="78" rx="1" ry="0.55" fill="#fff"/><ellipse cx="365.88" cy="78" rx="1" ry="0.55" fill="#fff"/><rect x="361.02" y="93.7" width="4.85" height="0.6" fill="#fff" opacity="0.6"/><ellipse cx="361.02" cy="94" rx="1" ry="0.55" fill="#fff"/><ellipse cx="365.88" cy="94" rx="1" ry="0.55" fill="#fff"/><rect x="361.02" y="105.7" width="4.85" height="0.6" fill="#fff" opacity="0.6"/><ellipse cx="361.02" cy="106" rx="1" ry="0.55" fill="#fff"/><ellipse cx="365.88" cy="106" rx="1" ry="0.55" fill="#fff"/><rect x="361.02" y="124.2" width="4.85" height="0.6" fill="#fff" opacity="0.6"/><ellipse cx="361.02" cy="124.5" rx="1" ry="0.55" fill="#fff"/><ellipse cx="365.88" cy="124.5" rx="1" ry="0.55" fill="#fff"/><rect x="361.02" y="133.7" width="4.85" height="0.6" fill="#fff" opacity="0.6"/><ellipse cx="361.02" cy="134" rx="1" ry="0.55" fill="#fff"/><ellipse cx="365.88" cy="134" rx="1" ry="0.55" fill="#fff"/><rect x="361.02" y="147.7" width="4.85" height="0.6" fill="#fff" opacity="0.6"/><ellipse cx="361.02" cy="148" rx="1" ry="0.55" fill="#fff"/><ellipse cx="365.88" cy="148" rx="1" ry="0.55" fill="#fff"/><rect x="361.02" y="177.7" width="4.85" height="0.6" fill="#fff" opacity="0.6"/><ellipse cx="361.02" cy="178" rx="1" ry="0.55" fill="#fff"/><ellipse cx="365.88" cy="178" rx="1" ry="0.55" fill="#fff"/><rect x="361.02" y="199.7" width="4.85" height="0.6" fill="#fff" opacity="0.6"/><ellipse cx="361.02" cy="200" rx="1" ry="0.55" fill="#fff"/><ellipse cx="365.88" cy="200" rx="1" ry="0.55" fill="#fff"/><rect x="361.02" y="215.7" width="4.85" height="0.6" fill="#fff" opacity="0.6"/><ellipse cx="361.02" cy="216" rx="1" ry="0.55" fill="#fff"/><ellipse cx="365.88" cy="216" rx="1" ry="0.55" fill="#fff"/><rect x="361.02" y="257.7" width="4.85" height="0.6" fill="#fff" opacity="0.6"/><ellipse cx="361.02" cy="258" rx="1" ry="0.55" fill="#fff"/><ellipse cx="365.88" cy="258" rx="1" ry="0.55" fill="#fff"/><rect x="361.02" y="269.2" width="4.85" height="0.6" fill="#fff" opacity="0.6"/><ellipse cx="361.02" cy="269.5" rx="1" ry="0.55" fill="#fff"/><ellipse cx="365.88" cy="269.5" rx="1" ry="0.55" fill="#fff"/></g>
<rect x="360.82" y="83.2" width="5.25" height="7.4" rx="1" fill="red"/>
<ellipse cx="360.77" cy="84.3" rx="0.5" ry="0.42" fill="#fff"/><ellipse cx="366.12" cy="84.3" rx="0.5" ry="0.42" fill="#fff"/>
<ellipse cx="360.77" cy="86.05" rx="0.75" ry="0.42" fill="#fff"/><ellipse cx="366.12" cy="86.05" rx="0.75" ry="0.42" fill="#fff"/>
<ellipse cx="360.77" cy="87.8" rx="0.75" ry="0.42" fill="#fff"/><ellipse cx="366.12" cy="87.8" rx="0.75" ry="0.42" fill="#fff"/>
<ellipse cx="360.77" cy="89.55" rx="0.5" ry="0.42" fill="#fff"/><ellipse cx="366.12" cy="89.55" rx="0.5" ry="0.42" fill="#fff"/>
<line x1="345" y1="26" x2="363.45" y2="26"/>
<line x1="345" y1="41.9" x2="363.45" y2="99.1"/>
<line x1="345" y1="66.4" x2="363.45" y2="49.7"/>
<line x1="345" y1="87.3" x2="363.45" y2="75.6"/>
<line x1="345" y1="93.2" x2="363.45" y2="81.3"/>
<line x1="345" y1="97.3" x2="363.45" y2="115.5"/>
<line x1="345" y1="102.5" x2="363.45" y2="111"/>
<line x1="345" y1="106.5" x2="363.45" y2="120"/>
<line x1="345" y1="113.5" x2="363.45" y2="129.5"/>
<line x1="345" y1="125" x2="363.45" y2="141.3"/>
<line x1="345" y1="146.3" x2="363.45" y2="162.7"/>
<line x1="345" y1="173.5" x2="363.45" y2="189.9"/>
<line x1="345" y1="189.3" x2="363.45" y2="213.8"/>
<line x1="345" y1="196.4" x2="363.45" y2="221"/>
<line x1="345" y1="208.2" x2="363.45" y2="265.4"/>
<line x1="345" y1="218.4" x2="363.45" y2="275.2"/>
<line x1="345" y1="223" x2="363.45" y2="206.6"/>
<line x1="345" y1="228.6" x2="363.45" y2="254.8"/>
<text x="311.2" y="26.84" font-size="5.52" textLength="28.56" lengthAdjust="spacingAndGlyphs">scaffold00079</text>
<text x="311.2" y="41.54" font-size="5.52" textLength="28.56" lengthAdjust="spacingAndGlyphs">scaffold00062</text>
<text x="311.2" y="67.54" font-size="5.52" textLength="28.56" lengthAdjust="spacingAndGlyphs">scaffold00019</text>
<text x="311.2" y="87.94" font-size="5.52" textLength="28.56" lengthAdjust="spacingAndGlyphs">scaffold00130</text>
<text x="311.2" y="94.14" font-size="5.52" textLength="28.56" lengthAdjust="spacingAndGlyphs">scaffold00161</text>
<text x="311.2" y="97.94" font-size="5.52" textLength="28.56" lengthAdjust="spacingAndGlyphs">scaffold00187</text>
<text x="311.2" y="102.14" font-size="5.52" textLength="28.56" lengthAdjust="spacingAndGlyphs">scaffold00140</text>
<text x="311.2" y="107.14" font-size="5.52" textLength="28.56" lengthAdjust="spacingAndGlyphs">scaffold00031</text>
<text x="311.2" y="114.44" font-size="5.52" textLength="28.56" lengthAdjust="spacingAndGlyphs">scaffold00086</text>
<text x="311.2" y="125.74" font-size="5.52" textLength="28.56" lengthAdjust="spacingAndGlyphs">scaffold00082</text>
<text x="311.2" y="146.84" font-size="5.52" textLength="28.56" lengthAdjust="spacingAndGlyphs">scaffold00027</text>
<text x="311.2" y="174.04" font-size="5.52" textLength="28.56" lengthAdjust="spacingAndGlyphs">scaffold00044</text>
<text x="311.2" y="189.54" font-size="5.52" textLength="28.56" lengthAdjust="spacingAndGlyphs">scaffold00131</text>
<text x="311.2" y="197.14" font-size="5.52" textLength="28.22" lengthAdjust="spacingAndGlyphs">scaffold00114</text>
<text x="311.2" y="208.94" font-size="5.52" textLength="28.56" lengthAdjust="spacingAndGlyphs">scaffold00072</text>
<text x="311.2" y="219.04" font-size="5.52" textLength="28.56" lengthAdjust="spacingAndGlyphs">scaffold00151</text>
<text x="311.2" y="223.74" font-size="5.52" textLength="28.56" lengthAdjust="spacingAndGlyphs">scaffold00158</text>
<text x="311.2" y="229.84" font-size="5.52" textLength="28.56" lengthAdjust="spacingAndGlyphs">scaffold00133</text>
<text x="384.8" y="26.84" font-size="5.52" text-anchor="middle" textLength="28.56" lengthAdjust="spacingAndGlyphs">scaffold00079</text>
<text x="384.8" y="50.14" font-size="5.52" text-anchor="middle" textLength="28.56" lengthAdjust="spacingAndGlyphs">scaffold00019</text>
<text x="384.8" y="66.94" font-size="5.52" text-anchor="middle" textLength="16.11" lengthAdjust="spacingAndGlyphs">C00850</text>
<text x="384.8" y="69.14" font-size="5.52" text-anchor="middle" textLength="28.56" lengthAdjust="spacingAndGlyphs">scaffold00395</text>
<text x="384.8" y="71.64" font-size="5.52" text-anchor="middle" textLength="28.56" lengthAdjust="spacingAndGlyphs">scaffold00281</text>
<text x="384.8" y="75.74" font-size="5.52" text-anchor="middle" textLength="28.56" lengthAdjust="spacingAndGlyphs">scaffold00130</text>
<text x="384.8" y="81.24" font-size="5.52" text-anchor="middle" textLength="28.56" lengthAdjust="spacingAndGlyphs">scaffold00161</text>
<text x="384.8" y="85.54" font-size="5.52" text-anchor="middle" textLength="28.56" lengthAdjust="spacingAndGlyphs">scaffold00184</text>
<text x="384.8" y="87.94" font-size="5.52" text-anchor="middle" textLength="28.56" lengthAdjust="spacingAndGlyphs">scaffold00247</text>
<text x="384.8" y="90.44" font-size="5.52" text-anchor="middle" textLength="28.56" lengthAdjust="spacingAndGlyphs">scaffold00215</text>
<text x="384.8" y="100.24" font-size="5.52" text-anchor="middle" textLength="28.56" lengthAdjust="spacingAndGlyphs">scaffold00062</text>
<text x="384.8" y="111.94" font-size="5.52" text-anchor="middle" textLength="28.56" lengthAdjust="spacingAndGlyphs">scaffold00140</text>
<text x="384.8" y="116.64" font-size="5.52" text-anchor="middle" textLength="28.56" lengthAdjust="spacingAndGlyphs">scaffold00187</text>
<text x="384.8" y="119.64" font-size="5.52" text-anchor="middle" textLength="28.56" lengthAdjust="spacingAndGlyphs">scaffold00336</text>
<text x="384.8" y="121.34" font-size="5.52" text-anchor="middle" textLength="28.56" lengthAdjust="spacingAndGlyphs">scaffold00089</text>
<text x="384.8" y="123.14" font-size="5.52" text-anchor="middle" textLength="28.56" lengthAdjust="spacingAndGlyphs">scaffold00031</text>
<text x="384.8" y="130.54" font-size="5.52" text-anchor="middle" textLength="28.56" lengthAdjust="spacingAndGlyphs">scaffold00086</text>
<text x="384.8" y="142.54" font-size="5.52" text-anchor="middle" textLength="28.56" lengthAdjust="spacingAndGlyphs">scaffold00082</text>
<text x="384.8" y="163.14" font-size="5.52" text-anchor="middle" textLength="28.56" lengthAdjust="spacingAndGlyphs">scaffold00027</text>
<text x="384.8" y="190.64" font-size="5.52" text-anchor="middle" textLength="28.56" lengthAdjust="spacingAndGlyphs">scaffold00044</text>
<text x="384.8" y="204.64" font-size="5.52" text-anchor="middle" textLength="28.56" lengthAdjust="spacingAndGlyphs">scaffold00158</text>
<text x="384.8" y="208.74" font-size="5.52" text-anchor="middle" textLength="28.56" lengthAdjust="spacingAndGlyphs">scaffold00193</text>
<text x="384.8" y="214.34" font-size="5.52" text-anchor="middle" textLength="28.56" lengthAdjust="spacingAndGlyphs">scaffold00131</text>
<text x="384.8" y="221.64" font-size="5.52" text-anchor="middle" textLength="28.22" lengthAdjust="spacingAndGlyphs">scaffold00114</text>
<text x="384.8" y="238.84" font-size="5.52" text-anchor="middle" textLength="28.56" lengthAdjust="spacingAndGlyphs">scaffold00040</text>
<text x="384.8" y="254.84" font-size="5.52" text-anchor="middle" textLength="28.56" lengthAdjust="spacingAndGlyphs">scaffold00133</text>
<text x="384.8" y="265.94" font-size="5.52" text-anchor="middle" textLength="28.56" lengthAdjust="spacingAndGlyphs">scaffold00072</text>
<text x="384.8" y="275.74" font-size="5.52" text-anchor="middle" textLength="28.56" lengthAdjust="spacingAndGlyphs">scaffold00151</text>
<text x="343.2" y="13.38" font-size="6.05" text-anchor="middle" fill="#111" class="t">LG4</text>
<text x="369" y="13.38" font-size="6.05" text-anchor="middle" fill="#111" class="t">Chr4</text>
<g clip-path="url(#c11)"><rect x="442.73" y="19.9" width="4.15" height="227.1" fill="#008000"/><rect x="442.73" y="51.3" width="4.15" height="37.5" rx="1.2" fill="blue"/><rect x="442.73" y="155.1" width="4.15" height="12.4" rx="1.2" fill="blue"/><rect x="442.73" y="42.7" width="4.15" height="0.6" fill="#fff" opacity="0.6"/><ellipse cx="442.73" cy="43" rx="1" ry="0.55" fill="#fff"/><ellipse cx="446.88" cy="43" rx="1" ry="0.55" fill="#fff"/><rect x="442.73" y="50.2" width="4.15" height="0.6" fill="#fff" opacity="0.6"/><ellipse cx="442.73" cy="50.5" rx="1" ry="0.55" fill="#fff"/><ellipse cx="446.88" cy="50.5" rx="1" ry="0.55" fill="#fff"/><rect x="442.73" y="98.2" width="4.15" height="0.6" fill="#fff" opacity="0.6"/><ellipse cx="442.73" cy="98.5" rx="1" ry="0.55" fill="#fff"/><ellipse cx="446.88" cy="98.5" rx="1" ry="0.55" fill="#fff"/><rect x="442.73" y="105.2" width="4.15" height="0.6" fill="#fff" opacity="0.6"/><ellipse cx="442.73" cy="105.5" rx="1" ry="0.55" fill="#fff"/><ellipse cx="446.88" cy="105.5" rx="1" ry="0.55" fill="#fff"/><rect x="442.73" y="113.7" width="4.15" height="0.6" fill="#fff" opacity="0.6"/><ellipse cx="442.73" cy="114" rx="1" ry="0.55" fill="#fff"/><ellipse cx="446.88" cy="114" rx="1" ry="0.55" fill="#fff"/><rect x="442.73" y="124.7" width="4.15" height="0.6" fill="#fff" opacity="0.6"/><ellipse cx="442.73" cy="125" rx="1" ry="0.55" fill="#fff"/><ellipse cx="446.88" cy="125" rx="1" ry="0.55" fill="#fff"/><rect x="442.73" y="152.7" width="4.15" height="0.6" fill="#fff" opacity="0.6"/><ellipse cx="442.73" cy="153" rx="1" ry="0.55" fill="#fff"/><ellipse cx="446.88" cy="153" rx="1" ry="0.55" fill="#fff"/><rect x="442.73" y="168.7" width="4.15" height="0.6" fill="#fff" opacity="0.6"/><ellipse cx="442.73" cy="169" rx="1" ry="0.55" fill="#fff"/><ellipse cx="446.88" cy="169" rx="1" ry="0.55" fill="#fff"/><rect x="442.73" y="192.7" width="4.15" height="0.6" fill="#fff" opacity="0.6"/><ellipse cx="442.73" cy="193" rx="1" ry="0.55" fill="#fff"/><ellipse cx="446.88" cy="193" rx="1" ry="0.55" fill="#fff"/><rect x="442.73" y="207.7" width="4.15" height="0.6" fill="#fff" opacity="0.6"/><ellipse cx="442.73" cy="208" rx="1" ry="0.55" fill="#fff"/><ellipse cx="446.88" cy="208" rx="1" ry="0.55" fill="#fff"/><rect x="442.73" y="223.7" width="4.15" height="0.6" fill="#fff" opacity="0.6"/><ellipse cx="442.73" cy="224" rx="1" ry="0.55" fill="#fff"/><ellipse cx="446.88" cy="224" rx="1" ry="0.55" fill="#fff"/><rect x="442.73" y="234.7" width="4.15" height="0.6" fill="#fff" opacity="0.6"/><ellipse cx="442.73" cy="235" rx="1" ry="0.55" fill="#fff"/><ellipse cx="446.88" cy="235" rx="1" ry="0.55" fill="#fff"/></g>
<g clip-path="url(#c12)"><rect x="458.93" y="19.9" width="4.15" height="207.9" fill="#008000"/><rect x="458.93" y="72.8" width="4.15" height="17" rx="1.2" fill="red"/><rect x="458.93" y="105.5" width="4.15" height="8.1" rx="1.2" fill="red"/><rect x="458.93" y="121.8" width="4.15" height="1" rx="0.5" fill="red"/><rect x="458.93" y="178.3" width="4.15" height="1" rx="0.5" fill="#a02000"/><rect x="458.93" y="212.3" width="4.15" height="4.9" rx="1.2" fill="red"/><rect x="458.93" y="28.7" width="4.15" height="0.6" fill="#fff" opacity="0.6"/><ellipse cx="458.93" cy="29" rx="1" ry="0.55" fill="#fff"/><ellipse cx="463.07" cy="29" rx="1" ry="0.55" fill="#fff"/><rect x="458.93" y="44.7" width="4.15" height="0.6" fill="#fff" opacity="0.6"/><ellipse cx="458.93" cy="45" rx="1" ry="0.55" fill="#fff"/><ellipse cx="463.07" cy="45" rx="1" ry="0.55" fill="#fff"/><rect x="458.93" y="59.7" width="4.15" height="0.6" fill="#fff" opacity="0.6"/><ellipse cx="458.93" cy="60" rx="1" ry="0.55" fill="#fff"/><ellipse cx="463.07" cy="60" rx="1" ry="0.55" fill="#fff"/><rect x="458.93" y="94.7" width="4.15" height="0.6" fill="#fff" opacity="0.6"/><ellipse cx="458.93" cy="95" rx="1" ry="0.55" fill="#fff"/><ellipse cx="463.07" cy="95" rx="1" ry="0.55" fill="#fff"/><rect x="458.93" y="102.7" width="4.15" height="0.6" fill="#fff" opacity="0.6"/><ellipse cx="458.93" cy="103" rx="1" ry="0.55" fill="#fff"/><ellipse cx="463.07" cy="103" rx="1" ry="0.55" fill="#fff"/><rect x="458.93" y="118.2" width="4.15" height="0.6" fill="#fff" opacity="0.6"/><ellipse cx="458.93" cy="118.5" rx="1" ry="0.55" fill="#fff"/><ellipse cx="463.07" cy="118.5" rx="1" ry="0.55" fill="#fff"/><rect x="458.93" y="124.7" width="4.15" height="0.6" fill="#fff" opacity="0.6"/><ellipse cx="458.93" cy="125" rx="1" ry="0.55" fill="#fff"/><ellipse cx="463.07" cy="125" rx="1" ry="0.55" fill="#fff"/><rect x="458.93" y="151.7" width="4.15" height="0.6" fill="#fff" opacity="0.6"/><ellipse cx="458.93" cy="152" rx="1" ry="0.55" fill="#fff"/><ellipse cx="463.07" cy="152" rx="1" ry="0.55" fill="#fff"/><rect x="458.93" y="169.7" width="4.15" height="0.6" fill="#fff" opacity="0.6"/><ellipse cx="458.93" cy="170" rx="1" ry="0.55" fill="#fff"/><ellipse cx="463.07" cy="170" rx="1" ry="0.55" fill="#fff"/><rect x="458.93" y="183.2" width="4.15" height="0.6" fill="#fff" opacity="0.6"/><ellipse cx="458.93" cy="183.5" rx="1" ry="0.55" fill="#fff"/><ellipse cx="463.07" cy="183.5" rx="1" ry="0.55" fill="#fff"/><rect x="458.93" y="195.7" width="4.15" height="0.6" fill="#fff" opacity="0.6"/><ellipse cx="458.93" cy="196" rx="1" ry="0.55" fill="#fff"/><ellipse cx="463.07" cy="196" rx="1" ry="0.55" fill="#fff"/><rect x="458.93" y="210.2" width="4.15" height="0.6" fill="#fff" opacity="0.6"/><ellipse cx="458.93" cy="210.5" rx="1" ry="0.55" fill="#fff"/><ellipse cx="463.07" cy="210.5" rx="1" ry="0.55" fill="#fff"/></g>
<rect x="458.73" y="73" width="4.55" height="16.6" rx="1" fill="red"/>
<ellipse cx="458.68" cy="74.1" rx="0.5" ry="0.42" fill="#fff"/><ellipse cx="463.32" cy="74.1" rx="0.5" ry="0.42" fill="#fff"/>
<ellipse cx="458.68" cy="75.85" rx="0.75" ry="0.42" fill="#fff"/><ellipse cx="463.32" cy="75.85" rx="0.75" ry="0.42" fill="#fff"/>
<ellipse cx="458.68" cy="77.6" rx="0.75" ry="0.42" fill="#fff"/><ellipse cx="463.32" cy="77.6" rx="0.75" ry="0.42" fill="#fff"/>
<ellipse cx="458.68" cy="79.35" rx="0.5" ry="0.42" fill="#fff"/><ellipse cx="463.32" cy="79.35" rx="0.5" ry="0.42" fill="#fff"/>
<ellipse cx="458.68" cy="81.1" rx="0.75" ry="0.42" fill="#fff"/><ellipse cx="463.32" cy="81.1" rx="0.75" ry="0.42" fill="#fff"/>
<ellipse cx="458.68" cy="82.85" rx="0.75" ry="0.42" fill="#fff"/><ellipse cx="463.32" cy="82.85" rx="0.75" ry="0.42" fill="#fff"/>
<ellipse cx="458.68" cy="84.6" rx="0.5" ry="0.42" fill="#fff"/><ellipse cx="463.32" cy="84.6" rx="0.5" ry="0.42" fill="#fff"/>
<ellipse cx="458.68" cy="86.35" rx="0.75" ry="0.42" fill="#fff"/><ellipse cx="463.32" cy="86.35" rx="0.75" ry="0.42" fill="#fff"/>
<ellipse cx="458.68" cy="88.1" rx="0.75" ry="0.42" fill="#fff"/><ellipse cx="463.32" cy="88.1" rx="0.75" ry="0.42" fill="#fff"/>
<rect x="458.73" y="105.7" width="4.55" height="7.7" rx="1" fill="red"/>
<ellipse cx="458.68" cy="106.8" rx="0.5" ry="0.42" fill="#fff"/><ellipse cx="463.32" cy="106.8" rx="0.5" ry="0.42" fill="#fff"/>
<ellipse cx="458.68" cy="108.55" rx="0.75" ry="0.42" fill="#fff"/><ellipse cx="463.32" cy="108.55" rx="0.75" ry="0.42" fill="#fff"/>
<ellipse cx="458.68" cy="110.3" rx="0.75" ry="0.42" fill="#fff"/><ellipse cx="463.32" cy="110.3" rx="0.75" ry="0.42" fill="#fff"/>
<ellipse cx="458.68" cy="112.05" rx="0.5" ry="0.42" fill="#fff"/><ellipse cx="463.32" cy="112.05" rx="0.5" ry="0.42" fill="#fff"/>
<line x1="444.8" y1="231" x2="461" y2="25.3" style="stroke-width:0.95px"/>
<line x1="444.8" y1="31.9" x2="461" y2="40.2" style="stroke-width:1.1px"/>
<line x1="444.8" y1="47.7" x2="461" y2="54.5" style="stroke-width:1.1px"/>
<line x1="444.8" y1="95.1" x2="461" y2="66.9" style="stroke-width:1.1px"/>
<line x1="444.8" y1="103.7" x2="461" y2="92.4" style="stroke-width:1.1px"/>
<line x1="444.8" y1="110.2" x2="461" y2="118.2" style="stroke-width:1.1px"/>
<line x1="444.8" y1="119.1" x2="461" y2="100.1" style="stroke-width:1.1px"/>
<line x1="444.8" y1="139.6" x2="461" y2="138" style="stroke-width:1.1px"/>
<line x1="444.8" y1="179.9" x2="461" y2="165" style="stroke-width:1.1px"/>
<line x1="444.8" y1="201.4" x2="461" y2="187.7" style="stroke-width:1.1px"/>
<line x1="444.8" y1="217.9" x2="461" y2="204.7" style="stroke-width:1.1px"/>
<line x1="444.8" y1="240.9" x2="461" y2="222.6" style="stroke-width:1.1px"/>
<text x="407.2" y="31.93" font-size="4.94" textLength="25.58" lengthAdjust="spacingAndGlyphs">scaffold00046</text>
<text x="407.2" y="47.23" font-size="4.94" textLength="30.16" lengthAdjust="spacingAndGlyphs">scaffold00015_2</text>
<text x="407.2" y="67.43" font-size="4.94" textLength="30.16" lengthAdjust="spacingAndGlyphs">scaffold00015_1</text>
<text x="407.2" y="87.13" font-size="4.94" textLength="34.75" lengthAdjust="spacingAndGlyphs">scaffold00007_2_1</text>
<text x="407.2" y="96.13" font-size="4.94" textLength="34.75" lengthAdjust="spacingAndGlyphs">scaffold00007_2_2</text>
<text x="407.2" y="104.53" font-size="4.94" textLength="25.58" lengthAdjust="spacingAndGlyphs">scaffold00169</text>
<text x="407.2" y="109.63" font-size="4.94" textLength="25.58" lengthAdjust="spacingAndGlyphs">scaffold00122</text>
<text x="407.2" y="119.93" font-size="4.94" textLength="25.58" lengthAdjust="spacingAndGlyphs">scaffold00090</text>
<text x="407.2" y="140.03" font-size="4.94" textLength="25.58" lengthAdjust="spacingAndGlyphs">scaffold00029</text>
<text x="407.2" y="161.63" font-size="4.94" textLength="25.58" lengthAdjust="spacingAndGlyphs">scaffold00078</text>
<text x="407.2" y="181.13" font-size="4.94" textLength="25.58" lengthAdjust="spacingAndGlyphs">scaffold00058</text>
<text x="407.2" y="202.33" font-size="4.94" textLength="25.58" lengthAdjust="spacingAndGlyphs">scaffold00068</text>
<text x="407.2" y="218.93" font-size="4.94" textLength="25.58" lengthAdjust="spacingAndGlyphs">scaffold00067</text>
<text x="407.2" y="231.53" font-size="4.94" textLength="25.58" lengthAdjust="spacingAndGlyphs">scaffold00105</text>
<text x="407.2" y="241.63" font-size="4.94" textLength="25.58" lengthAdjust="spacingAndGlyphs">scaffold00087</text>
<text x="481.3" y="24.63" font-size="4.94" text-anchor="middle" textLength="25.58" lengthAdjust="spacingAndGlyphs">scaffold00105</text>
<text x="481.3" y="41.13" font-size="4.94" text-anchor="middle" textLength="25.58" lengthAdjust="spacingAndGlyphs">scaffold00046</text>
<text x="481.3" y="56.43" font-size="4.94" text-anchor="middle" textLength="30.16" lengthAdjust="spacingAndGlyphs">scaffold00015_2</text>
<text x="481.3" y="66.93" font-size="4.94" text-anchor="middle" textLength="34.75" lengthAdjust="spacingAndGlyphs">scaffold00007_2_2</text>
<text x="481.3" y="73.23" font-size="4.94" text-anchor="middle" textLength="25.58" lengthAdjust="spacingAndGlyphs">scaffold00298</text>
<text x="481.3" y="75.43" font-size="4.94" text-anchor="middle" textLength="25.58" lengthAdjust="spacingAndGlyphs">scaffold00159</text>
<text x="481.3" y="82.73" font-size="4.94" text-anchor="middle" textLength="25.58" lengthAdjust="spacingAndGlyphs">scaffold00136</text>
<text x="481.3" y="87.83" font-size="4.94" text-anchor="middle" textLength="25.58" lengthAdjust="spacingAndGlyphs">scaffold00249</text>
<text x="481.3" y="90.03" font-size="4.94" text-anchor="middle" textLength="25.58" lengthAdjust="spacingAndGlyphs">scaffold00198</text>
<text x="481.3" y="91.93" font-size="4.94" text-anchor="middle" textLength="25.58" lengthAdjust="spacingAndGlyphs">scaffold00169</text>
<text x="481.3" y="100.13" font-size="4.94" text-anchor="middle" textLength="25.58" lengthAdjust="spacingAndGlyphs">scaffold00090</text>
<text x="481.3" y="106.03" font-size="4.94" text-anchor="middle" textLength="25.58" lengthAdjust="spacingAndGlyphs">scaffold00310</text>
<text x="481.3" y="108.23" font-size="4.94" text-anchor="middle" textLength="25.58" lengthAdjust="spacingAndGlyphs">scaffold00274</text>
<text x="481.3" y="110.43" font-size="4.94" text-anchor="middle" textLength="25.58" lengthAdjust="spacingAndGlyphs">scaffold00178</text>
<text x="481.3" y="112.63" font-size="4.94" text-anchor="middle" textLength="25.58" lengthAdjust="spacingAndGlyphs">scaffold00264</text>
<text x="481.3" y="117.73" font-size="4.94" text-anchor="middle" textLength="25.58" lengthAdjust="spacingAndGlyphs">scaffold00122</text>
<text x="481.3" y="122.33" font-size="4.94" text-anchor="middle" textLength="25.58" lengthAdjust="spacingAndGlyphs">scaffold00080</text>
<text x="481.3" y="137.83" font-size="4.94" text-anchor="middle" textLength="25.58" lengthAdjust="spacingAndGlyphs">scaffold00029</text>
<text x="481.3" y="165.73" font-size="4.94" text-anchor="middle" textLength="25.58" lengthAdjust="spacingAndGlyphs">scaffold00058</text>
<text x="481.3" y="179.23" font-size="4.94" text-anchor="middle" textLength="25.58" lengthAdjust="spacingAndGlyphs">scaffold00190</text>
<text x="481.3" y="188.03" font-size="4.94" text-anchor="middle" textLength="25.58" lengthAdjust="spacingAndGlyphs">scaffold00068</text>
<text x="481.3" y="204.03" font-size="4.94" text-anchor="middle" textLength="25.58" lengthAdjust="spacingAndGlyphs">scaffold00067</text>
<text x="481.3" y="215.03" font-size="4.94" text-anchor="middle" textLength="25.58" lengthAdjust="spacingAndGlyphs">scaffold00165</text>
<text x="481.3" y="223.03" font-size="4.94" text-anchor="middle" textLength="25.58" lengthAdjust="spacingAndGlyphs">scaffold00087</text>
<text x="440.2" y="13.38" font-size="6.05" text-anchor="middle" fill="#111" class="t">LG5</text>
<text x="465.7" y="13.38" font-size="6.05" text-anchor="middle" fill="#111" class="t">Chr5</text>
<g clip-path="url(#c13)"><rect x="531.98" y="19.8" width="4.85" height="298.3" fill="#008000"/><rect x="531.98" y="19.8" width="4.85" height="26.2" rx="1.2" fill="blue"/><rect x="531.98" y="64.2" width="4.85" height="0.6" fill="#fff" opacity="0.6"/><ellipse cx="531.98" cy="64.5" rx="1" ry="0.55" fill="#fff"/><ellipse cx="536.82" cy="64.5" rx="1" ry="0.55" fill="#fff"/><rect x="531.98" y="93.7" width="4.85" height="0.6" fill="#fff" opacity="0.6"/><ellipse cx="531.98" cy="94" rx="1" ry="0.55" fill="#fff"/><ellipse cx="536.82" cy="94" rx="1" ry="0.55" fill="#fff"/><rect x="531.98" y="115.7" width="4.85" height="0.6" fill="#fff" opacity="0.6"/><ellipse cx="531.98" cy="116" rx="1" ry="0.55" fill="#fff"/><ellipse cx="536.82" cy="116" rx="1" ry="0.55" fill="#fff"/><rect x="531.98" y="135.2" width="4.85" height="0.6" fill="#fff" opacity="0.6"/><ellipse cx="531.98" cy="135.5" rx="1" ry="0.55" fill="#fff"/><ellipse cx="536.82" cy="135.5" rx="1" ry="0.55" fill="#fff"/><rect x="531.98" y="146.2" width="4.85" height="0.6" fill="#fff" opacity="0.6"/><ellipse cx="531.98" cy="146.5" rx="1" ry="0.55" fill="#fff"/><ellipse cx="536.82" cy="146.5" rx="1" ry="0.55" fill="#fff"/><rect x="531.98" y="158.2" width="4.85" height="0.6" fill="#fff" opacity="0.6"/><ellipse cx="531.98" cy="158.5" rx="1" ry="0.55" fill="#fff"/><ellipse cx="536.82" cy="158.5" rx="1" ry="0.55" fill="#fff"/><rect x="531.98" y="169.7" width="4.85" height="0.6" fill="#fff" opacity="0.6"/><ellipse cx="531.98" cy="170" rx="1" ry="0.55" fill="#fff"/><ellipse cx="536.82" cy="170" rx="1" ry="0.55" fill="#fff"/><rect x="531.98" y="203.2" width="4.85" height="0.6" fill="#fff" opacity="0.6"/><ellipse cx="531.98" cy="203.5" rx="1" ry="0.55" fill="#fff"/><ellipse cx="536.82" cy="203.5" rx="1" ry="0.55" fill="#fff"/><rect x="531.98" y="232.7" width="4.85" height="0.6" fill="#fff" opacity="0.6"/><ellipse cx="531.98" cy="233" rx="1" ry="0.55" fill="#fff"/><ellipse cx="536.82" cy="233" rx="1" ry="0.55" fill="#fff"/><rect x="531.98" y="261.7" width="4.85" height="0.6" fill="#fff" opacity="0.6"/><ellipse cx="531.98" cy="262" rx="1" ry="0.55" fill="#fff"/><ellipse cx="536.82" cy="262" rx="1" ry="0.55" fill="#fff"/><rect x="531.98" y="275.7" width="4.85" height="0.6" fill="#fff" opacity="0.6"/><ellipse cx="531.98" cy="276" rx="1" ry="0.55" fill="#fff"/><ellipse cx="536.82" cy="276" rx="1" ry="0.55" fill="#fff"/><rect x="531.98" y="293.7" width="4.85" height="0.6" fill="#fff" opacity="0.6"/><ellipse cx="531.98" cy="294" rx="1" ry="0.55" fill="#fff"/><ellipse cx="536.82" cy="294" rx="1" ry="0.55" fill="#fff"/></g>
<g clip-path="url(#c14)"><rect x="549.98" y="19.8" width="4.85" height="315.7" fill="#008000"/><rect x="549.98" y="64" width="4.85" height="7" rx="1.2" fill="red"/><rect x="549.98" y="116.2" width="4.85" height="1.6" rx="0.8" fill="red"/><rect x="549.98" y="140.4" width="4.85" height="21.5" rx="1.2" fill="red"/><rect x="549.98" y="173.5" width="4.85" height="6.2" rx="1.2" fill="red"/><rect x="549.98" y="328.3" width="4.85" height="7.2" rx="1.2" fill="red"/><rect x="549.98" y="38.2" width="4.85" height="0.6" fill="#fff" opacity="0.6"/><ellipse cx="549.98" cy="38.5" rx="1" ry="0.55" fill="#fff"/><ellipse cx="554.82" cy="38.5" rx="1" ry="0.55" fill="#fff"/><rect x="549.98" y="62.2" width="4.85" height="0.6" fill="#fff" opacity="0.6"/><ellipse cx="549.98" cy="62.5" rx="1" ry="0.55" fill="#fff"/><ellipse cx="554.82" cy="62.5" rx="1" ry="0.55" fill="#fff"/><rect x="549.98" y="74.7" width="4.85" height="0.6" fill="#fff" opacity="0.6"/><ellipse cx="549.98" cy="75" rx="1" ry="0.55" fill="#fff"/><ellipse cx="554.82" cy="75" rx="1" ry="0.55" fill="#fff"/><rect x="549.98" y="114.2" width="4.85" height="0.6" fill="#fff" opacity="0.6"/><ellipse cx="549.98" cy="114.5" rx="1" ry="0.55" fill="#fff"/><ellipse cx="554.82" cy="114.5" rx="1" ry="0.55" fill="#fff"/><rect x="549.98" y="119.2" width="4.85" height="0.6" fill="#fff" opacity="0.6"/><ellipse cx="549.98" cy="119.5" rx="1" ry="0.55" fill="#fff"/><ellipse cx="554.82" cy="119.5" rx="1" ry="0.55" fill="#fff"/><rect x="549.98" y="133.7" width="4.85" height="0.6" fill="#fff" opacity="0.6"/><ellipse cx="549.98" cy="134" rx="1" ry="0.55" fill="#fff"/><ellipse cx="554.82" cy="134" rx="1" ry="0.55" fill="#fff"/><rect x="549.98" y="163.2" width="4.85" height="0.6" fill="#fff" opacity="0.6"/><ellipse cx="549.98" cy="163.5" rx="1" ry="0.55" fill="#fff"/><ellipse cx="554.82" cy="163.5" rx="1" ry="0.55" fill="#fff"/><rect x="549.98" y="171.2" width="4.85" height="0.6" fill="#fff" opacity="0.6"/><ellipse cx="549.98" cy="171.5" rx="1" ry="0.55" fill="#fff"/><ellipse cx="554.82" cy="171.5" rx="1" ry="0.55" fill="#fff"/><rect x="549.98" y="180.7" width="4.85" height="0.6" fill="#fff" opacity="0.6"/><ellipse cx="549.98" cy="181" rx="1" ry="0.55" fill="#fff"/><ellipse cx="554.82" cy="181" rx="1" ry="0.55" fill="#fff"/><rect x="549.98" y="212.7" width="4.85" height="0.6" fill="#fff" opacity="0.6"/><ellipse cx="549.98" cy="213" rx="1" ry="0.55" fill="#fff"/><ellipse cx="554.82" cy="213" rx="1" ry="0.55" fill="#fff"/><rect x="549.98" y="241.7" width="4.85" height="0.6" fill="#fff" opacity="0.6"/><ellipse cx="549.98" cy="242" rx="1" ry="0.55" fill="#fff"/><ellipse cx="554.82" cy="242" rx="1" ry="0.55" fill="#fff"/><rect x="549.98" y="274.2" width="4.85" height="0.6" fill="#fff" opacity="0.6"/><ellipse cx="549.98" cy="274.5" rx="1" ry="0.55" fill="#fff"/><ellipse cx="554.82" cy="274.5" rx="1" ry="0.55" fill="#fff"/><rect x="549.98" y="284.2" width="4.85" height="0.6" fill="#fff" opacity="0.6"/><ellipse cx="549.98" cy="284.5" rx="1" ry="0.55" fill="#fff"/><ellipse cx="554.82" cy="284.5" rx="1" ry="0.55" fill="#fff"/><rect x="549.98" y="303.2" width="4.85" height="0.6" fill="#fff" opacity="0.6"/><ellipse cx="549.98" cy="303.5" rx="1" ry="0.55" fill="#fff"/><ellipse cx="554.82" cy="303.5" rx="1" ry="0.55" fill="#fff"/></g>
<rect x="549.77" y="140.6" width="5.25" height="21.1" rx="1" fill="red"/>
<ellipse cx="549.73" cy="141.7" rx="0.5" ry="0.42" fill="#fff"/><ellipse cx="555.07" cy="141.7" rx="0.5" ry="0.42" fill="#fff"/>
<ellipse cx="549.73" cy="143.45" rx="0.75" ry="0.42" fill="#fff"/><ellipse cx="555.07" cy="143.45" rx="0.75" ry="0.42" fill="#fff"/>
<ellipse cx="549.73" cy="145.2" rx="0.75" ry="0.42" fill="#fff"/><ellipse cx="555.07" cy="145.2" rx="0.75" ry="0.42" fill="#fff"/>
<ellipse cx="549.73" cy="146.95" rx="0.5" ry="0.42" fill="#fff"/><ellipse cx="555.07" cy="146.95" rx="0.5" ry="0.42" fill="#fff"/>
<ellipse cx="549.73" cy="148.7" rx="0.75" ry="0.42" fill="#fff"/><ellipse cx="555.07" cy="148.7" rx="0.75" ry="0.42" fill="#fff"/>
<ellipse cx="549.73" cy="150.45" rx="0.75" ry="0.42" fill="#fff"/><ellipse cx="555.07" cy="150.45" rx="0.75" ry="0.42" fill="#fff"/>
<ellipse cx="549.73" cy="152.2" rx="0.5" ry="0.42" fill="#fff"/><ellipse cx="555.07" cy="152.2" rx="0.5" ry="0.42" fill="#fff"/>
<ellipse cx="549.73" cy="153.95" rx="0.75" ry="0.42" fill="#fff"/><ellipse cx="555.07" cy="153.95" rx="0.75" ry="0.42" fill="#fff"/>
<ellipse cx="549.73" cy="155.7" rx="0.75" ry="0.42" fill="#fff"/><ellipse cx="555.07" cy="155.7" rx="0.75" ry="0.42" fill="#fff"/>
<ellipse cx="549.73" cy="157.45" rx="0.5" ry="0.42" fill="#fff"/><ellipse cx="555.07" cy="157.45" rx="0.5" ry="0.42" fill="#fff"/>
<ellipse cx="549.73" cy="159.2" rx="0.75" ry="0.42" fill="#fff"/><ellipse cx="555.07" cy="159.2" rx="0.75" ry="0.42" fill="#fff"/>
<ellipse cx="549.73" cy="160.95" rx="0.75" ry="0.42" fill="#fff"/><ellipse cx="555.07" cy="160.95" rx="0.75" ry="0.42" fill="#fff"/>
<line x1="534.4" y1="56.2" x2="552.4" y2="30"/>
<line x1="534.4" y1="78.3" x2="552.4" y2="51.7"/>
<line x1="534.4" y1="92.6" x2="552.4" y2="73.2"/>
<line x1="534.4" y1="115.1" x2="552.4" y2="95.4"/>
<line x1="534.4" y1="143.8" x2="552.4" y2="127.2"/>
<line x1="534.4" y1="155.8" x2="552.4" y2="138.4"/>
<line x1="534.4" y1="163.9" x2="552.4" y2="167.4"/>
<line x1="534.4" y1="186.4" x2="552.4" y2="196.6"/>
<line x1="534.4" y1="218.1" x2="552.4" y2="227.7"/>
<line x1="534.4" y1="249.2" x2="552.4" y2="259.3"/>
<line x1="534.4" y1="270.1" x2="552.4" y2="280.7"/>
<line x1="534.4" y1="284.4" x2="552.4" y2="294"/>
<line x1="534.4" y1="306.9" x2="552.4" y2="316.1"/>
<text x="504.1" y="34.19" font-size="5.4" textLength="32.95" lengthAdjust="spacingAndGlyphs">scaffold00006_1</text>
<text x="504.1" y="56.89" font-size="5.4" textLength="32.95" lengthAdjust="spacingAndGlyphs">scaffold00006_2</text>
<text x="504.1" y="78.69" font-size="5.4" textLength="27.94" lengthAdjust="spacingAndGlyphs">scaffold00041</text>
<text x="504.1" y="93.09" font-size="5.4" textLength="27.94" lengthAdjust="spacingAndGlyphs">scaffold00176</text>
<text x="504.1" y="115.49" font-size="5.4" textLength="27.94" lengthAdjust="spacingAndGlyphs">scaffold00013</text>
<text x="504.1" y="144.59" font-size="5.4" textLength="27.94" lengthAdjust="spacingAndGlyphs">scaffold00063</text>
<text x="504.1" y="156.39" font-size="5.4" textLength="27.94" lengthAdjust="spacingAndGlyphs">scaffold00154</text>
<text x="504.1" y="164.59" font-size="5.4" textLength="27.94" lengthAdjust="spacingAndGlyphs">scaffold00085</text>
<text x="504.1" y="187.09" font-size="5.4" textLength="27.94" lengthAdjust="spacingAndGlyphs">scaffold00020</text>
<text x="504.1" y="218.19" font-size="5.4" textLength="27.94" lengthAdjust="spacingAndGlyphs">scaffold00031</text>
<text x="504.1" y="249.29" font-size="5.4" textLength="32.95" lengthAdjust="spacingAndGlyphs">scaffold00007_1</text>
<text x="504.1" y="270.49" font-size="5.4" textLength="27.61" lengthAdjust="spacingAndGlyphs">scaffold00115</text>
<text x="504.1" y="284.39" font-size="5.4" textLength="27.94" lengthAdjust="spacingAndGlyphs">scaffold00055</text>
<text x="504.1" y="306.29" font-size="5.4" textLength="27.94" lengthAdjust="spacingAndGlyphs">scaffold00042</text>
<text x="573.2" y="30.09" font-size="5.4" text-anchor="middle" textLength="32.95" lengthAdjust="spacingAndGlyphs">scaffold00006_2</text>
<text x="573.2" y="51.79" font-size="5.4" text-anchor="middle" textLength="27.94" lengthAdjust="spacingAndGlyphs">scaffold00041</text>
<text x="573.2" y="68.09" font-size="5.4" text-anchor="middle" textLength="27.94" lengthAdjust="spacingAndGlyphs">scaffold00134</text>
<text x="573.2" y="73.59" font-size="5.4" text-anchor="middle" textLength="27.94" lengthAdjust="spacingAndGlyphs">scaffold00176</text>
<text x="573.2" y="95.69" font-size="5.4" text-anchor="middle" textLength="27.94" lengthAdjust="spacingAndGlyphs">scaffold00013</text>
<text x="573.2" y="117.59" font-size="5.4" text-anchor="middle" textLength="32.95" lengthAdjust="spacingAndGlyphs">scaffold00001_1</text>
<text x="573.2" y="127.19" font-size="5.4" text-anchor="middle" textLength="27.94" lengthAdjust="spacingAndGlyphs">scaffold00063</text>
<text x="573.2" y="138.09" font-size="5.4" text-anchor="middle" textLength="27.94" lengthAdjust="spacingAndGlyphs">scaffold00124</text>
<text x="573.2" y="142.09" font-size="5.4" text-anchor="middle" textLength="27.94" lengthAdjust="spacingAndGlyphs">scaffold00128</text>
<text x="573.2" y="144.09" font-size="5.4" text-anchor="middle" textLength="27.94" lengthAdjust="spacingAndGlyphs">scaffold00204</text>
<text x="573.2" y="146.09" font-size="5.4" text-anchor="middle" textLength="27.94" lengthAdjust="spacingAndGlyphs">scaffold00181</text>
<text x="573.2" y="148.09" font-size="5.4" text-anchor="middle" textLength="27.94" lengthAdjust="spacingAndGlyphs">scaffold00159</text>
<text x="573.2" y="150.09" font-size="5.4" text-anchor="middle" textLength="27.94" lengthAdjust="spacingAndGlyphs">scaffold00268</text>
<text x="573.2" y="152.09" font-size="5.4" text-anchor="middle" textLength="27.94" lengthAdjust="spacingAndGlyphs">scaffold00245</text>
<text x="573.2" y="154.09" font-size="5.4" text-anchor="middle" textLength="27.94" lengthAdjust="spacingAndGlyphs">scaffold00154</text>
<text x="573.2" y="156.09" font-size="5.4" text-anchor="middle" textLength="27.94" lengthAdjust="spacingAndGlyphs">scaffold00219</text>
<text x="573.2" y="159.29" font-size="5.4" text-anchor="middle" textLength="27.94" lengthAdjust="spacingAndGlyphs">scaffold00139</text>
<text x="573.2" y="168.09" font-size="5.4" text-anchor="middle" textLength="27.94" lengthAdjust="spacingAndGlyphs">scaffold00085</text>
<text x="573.2" y="177.29" font-size="5.4" text-anchor="middle" textLength="32.95" lengthAdjust="spacingAndGlyphs">scaffold00006_1</text>
<text x="573.2" y="197.69" font-size="5.4" text-anchor="middle" textLength="27.94" lengthAdjust="spacingAndGlyphs">scaffold00020</text>
<text x="573.2" y="228.79" font-size="5.4" text-anchor="middle" textLength="27.94" lengthAdjust="spacingAndGlyphs">scaffold00031</text>
<text x="573.2" y="259.59" font-size="5.4" text-anchor="middle" textLength="32.95" lengthAdjust="spacingAndGlyphs">scaffold00007_1</text>
<text x="573.2" y="280.99" font-size="5.4" text-anchor="middle" textLength="27.61" lengthAdjust="spacingAndGlyphs">scaffold00115</text>
<text x="573.2" y="294.89" font-size="5.4" text-anchor="middle" textLength="27.94" lengthAdjust="spacingAndGlyphs">scaffold00055</text>
<text x="573.2" y="317.29" font-size="5.4" text-anchor="middle" textLength="27.94" lengthAdjust="spacingAndGlyphs">scaffold00042</text>
<text x="573.2" y="332.69" font-size="5.4" text-anchor="middle" textLength="27.94" lengthAdjust="spacingAndGlyphs">scaffold00136</text>
<text x="534" y="13.38" font-size="6.05" text-anchor="middle" fill="#111" class="t">LG6</text>
<text x="557.2" y="13.38" font-size="6.05" text-anchor="middle" fill="#111" class="t">Chr6</text>
<g clip-path="url(#c15)"><rect x="627.03" y="19.7" width="4.85" height="145.8" fill="#008000"/><rect x="627.03" y="22.6" width="4.85" height="2.2" rx="1.1" fill="blue"/><rect x="627.03" y="28.2" width="4.85" height="0.6" fill="#fff" opacity="0.6"/><ellipse cx="627.03" cy="28.5" rx="1" ry="0.55" fill="#fff"/><ellipse cx="631.88" cy="28.5" rx="1" ry="0.55" fill="#fff"/><rect x="627.03" y="33.7" width="4.85" height="0.6" fill="#fff" opacity="0.6"/><ellipse cx="627.03" cy="34" rx="1" ry="0.55" fill="#fff"/><ellipse cx="631.88" cy="34" rx="1" ry="0.55" fill="#fff"/><rect x="627.03" y="43.7" width="4.85" height="0.6" fill="#fff" opacity="0.6"/><ellipse cx="627.03" cy="44" rx="1" ry="0.55" fill="#fff"/><ellipse cx="631.88" cy="44" rx="1" ry="0.55" fill="#fff"/><rect x="627.03" y="60.7" width="4.85" height="0.6" fill="#fff" opacity="0.6"/><ellipse cx="627.03" cy="61" rx="1" ry="0.55" fill="#fff"/><ellipse cx="631.88" cy="61" rx="1" ry="0.55" fill="#fff"/><rect x="627.03" y="82.7" width="4.85" height="0.6" fill="#fff" opacity="0.6"/><ellipse cx="627.03" cy="83" rx="1" ry="0.55" fill="#fff"/><ellipse cx="631.88" cy="83" rx="1" ry="0.55" fill="#fff"/><rect x="627.03" y="96.7" width="4.85" height="0.6" fill="#fff" opacity="0.6"/><ellipse cx="627.03" cy="97" rx="1" ry="0.55" fill="#fff"/><ellipse cx="631.88" cy="97" rx="1" ry="0.55" fill="#fff"/><rect x="627.03" y="110.7" width="4.85" height="0.6" fill="#fff" opacity="0.6"/><ellipse cx="627.03" cy="111" rx="1" ry="0.55" fill="#fff"/><ellipse cx="631.88" cy="111" rx="1" ry="0.55" fill="#fff"/><rect x="627.03" y="117.7" width="4.85" height="0.6" fill="#fff" opacity="0.6"/><ellipse cx="627.03" cy="118" rx="1" ry="0.55" fill="#fff"/><ellipse cx="631.88" cy="118" rx="1" ry="0.55" fill="#fff"/><rect x="627.03" y="127.7" width="4.85" height="0.6" fill="#fff" opacity="0.6"/><ellipse cx="627.03" cy="128" rx="1" ry="0.55" fill="#fff"/><ellipse cx="631.88" cy="128" rx="1" ry="0.55" fill="#fff"/><rect x="627.03" y="147.2" width="4.85" height="0.6" fill="#fff" opacity="0.6"/><ellipse cx="627.03" cy="147.5" rx="1" ry="0.55" fill="#fff"/><ellipse cx="631.88" cy="147.5" rx="1" ry="0.55" fill="#fff"/></g>
<g clip-path="url(#c16)"><rect x="645.27" y="19.7" width="4.75" height="219.7" fill="#008000"/><rect x="645.27" y="19.7" width="4.75" height="1.8" rx="0.9" fill="red"/><rect x="645.27" y="38.2" width="4.75" height="1.9" rx="0.95" fill="red"/><rect x="645.27" y="45.5" width="4.75" height="47.9" rx="1.2" fill="red"/><rect x="645.27" y="134" width="4.75" height="2" rx="1" fill="red"/><rect x="645.27" y="164" width="4.75" height="3.7" rx="1.2" fill="red"/><rect x="645.27" y="170.7" width="4.75" height="5.8" rx="1.2" fill="red"/><rect x="645.27" y="178.2" width="4.75" height="4.8" rx="1.2" fill="red"/><rect x="645.27" y="193.8" width="4.75" height="1" rx="0.5" fill="red"/><rect x="645.27" y="214.5" width="4.75" height="6.6" rx="1.2" fill="red"/><rect x="645.27" y="28.2" width="4.75" height="0.6" fill="#fff" opacity="0.6"/><ellipse cx="645.27" cy="28.5" rx="1" ry="0.55" fill="#fff"/><ellipse cx="650.02" cy="28.5" rx="1" ry="0.55" fill="#fff"/><rect x="645.27" y="36.2" width="4.75" height="0.6" fill="#fff" opacity="0.6"/><ellipse cx="645.27" cy="36.5" rx="1" ry="0.55" fill="#fff"/><ellipse cx="650.02" cy="36.5" rx="1" ry="0.55" fill="#fff"/><rect x="645.27" y="101.7" width="4.75" height="0.6" fill="#fff" opacity="0.6"/><ellipse cx="645.27" cy="102" rx="1" ry="0.55" fill="#fff"/><ellipse cx="650.02" cy="102" rx="1" ry="0.55" fill="#fff"/><rect x="645.27" y="111.7" width="4.75" height="0.6" fill="#fff" opacity="0.6"/><ellipse cx="645.27" cy="112" rx="1" ry="0.55" fill="#fff"/><ellipse cx="650.02" cy="112" rx="1" ry="0.55" fill="#fff"/><rect x="645.27" y="127.7" width="4.75" height="0.6" fill="#fff" opacity="0.6"/><ellipse cx="645.27" cy="128" rx="1" ry="0.55" fill="#fff"/><ellipse cx="650.02" cy="128" rx="1" ry="0.55" fill="#fff"/><rect x="645.27" y="137.7" width="4.75" height="0.6" fill="#fff" opacity="0.6"/><ellipse cx="645.27" cy="138" rx="1" ry="0.55" fill="#fff"/><ellipse cx="650.02" cy="138" rx="1" ry="0.55" fill="#fff"/><rect x="645.27" y="147.7" width="4.75" height="0.6" fill="#fff" opacity="0.6"/><ellipse cx="645.27" cy="148" rx="1" ry="0.55" fill="#fff"/><ellipse cx="650.02" cy="148" rx="1" ry="0.55" fill="#fff"/><rect x="645.27" y="160.7" width="4.75" height="0.6" fill="#fff" opacity="0.6"/><ellipse cx="645.27" cy="161" rx="1" ry="0.55" fill="#fff"/><ellipse cx="650.02" cy="161" rx="1" ry="0.55" fill="#fff"/><rect x="645.27" y="185.7" width="4.75" height="0.6" fill="#fff" opacity="0.6"/><ellipse cx="645.27" cy="186" rx="1" ry="0.55" fill="#fff"/><ellipse cx="650.02" cy="186" rx="1" ry="0.55" fill="#fff"/><rect x="645.27" y="197.7" width="4.75" height="0.6" fill="#fff" opacity="0.6"/><ellipse cx="645.27" cy="198" rx="1" ry="0.55" fill="#fff"/><ellipse cx="650.02" cy="198" rx="1" ry="0.55" fill="#fff"/><rect x="645.27" y="210.7" width="4.75" height="0.6" fill="#fff" opacity="0.6"/><ellipse cx="645.27" cy="211" rx="1" ry="0.55" fill="#fff"/><ellipse cx="650.02" cy="211" rx="1" ry="0.55" fill="#fff"/><rect x="645.27" y="223.7" width="4.75" height="0.6" fill="#fff" opacity="0.6"/><ellipse cx="645.27" cy="224" rx="1" ry="0.55" fill="#fff"/><ellipse cx="650.02" cy="224" rx="1" ry="0.55" fill="#fff"/></g>
<rect x="645.07" y="45.7" width="5.15" height="47.5" rx="1" fill="red"/>
<ellipse cx="645.02" cy="46.8" rx="0.5" ry="0.42" fill="#fff"/><ellipse cx="650.27" cy="46.8" rx="0.5" ry="0.42" fill="#fff"/>
<ellipse cx="645.02" cy="48.55" rx="0.75" ry="0.42" fill="#fff"/><ellipse cx="650.27" cy="48.55" rx="0.75" ry="0.42" fill="#fff"/>
<ellipse cx="645.02" cy="50.3" rx="0.75" ry="0.42" fill="#fff"/><ellipse cx="650.27" cy="50.3" rx="0.75" ry="0.42" fill="#fff"/>
<ellipse cx="645.02" cy="52.05" rx="0.5" ry="0.42" fill="#fff"/><ellipse cx="650.27" cy="52.05" rx="0.5" ry="0.42" fill="#fff"/>
<ellipse cx="645.02" cy="53.8" rx="0.75" ry="0.42" fill="#fff"/><ellipse cx="650.27" cy="53.8" rx="0.75" ry="0.42" fill="#fff"/>
<ellipse cx="645.02" cy="55.55" rx="0.75" ry="0.42" fill="#fff"/><ellipse cx="650.27" cy="55.55" rx="0.75" ry="0.42" fill="#fff"/>
<ellipse cx="645.02" cy="57.3" rx="0.5" ry="0.42" fill="#fff"/><ellipse cx="650.27" cy="57.3" rx="0.5" ry="0.42" fill="#fff"/>
<ellipse cx="645.02" cy="59.05" rx="0.75" ry="0.42" fill="#fff"/><ellipse cx="650.27" cy="59.05" rx="0.75" ry="0.42" fill="#fff"/>
<ellipse cx="645.02" cy="60.8" rx="0.75" ry="0.42" fill="#fff"/><ellipse cx="650.27" cy="60.8" rx="0.75" ry="0.42" fill="#fff"/>
<ellipse cx="645.02" cy="62.55" rx="0.5" ry="0.42" fill="#fff"/><ellipse cx="650.27" cy="62.55" rx="0.5" ry="0.42" fill="#fff"/>
<ellipse cx="645.02" cy="64.3" rx="0.75" ry="0.42" fill="#fff"/><ellipse cx="650.27" cy="64.3" rx="0.75" ry="0.42" fill="#fff"/>
<ellipse cx="645.02" cy="66.05" rx="0.75" ry="0.42" fill="#fff"/><ellipse cx="650.27" cy="66.05" rx="0.75" ry="0.42" fill="#fff"/>
<ellipse cx="645.02" cy="67.8" rx="0.5" ry="0.42" fill="#fff"/><ellipse cx="650.27" cy="67.8" rx="0.5" ry="0.42" fill="#fff"/>
<ellipse cx="645.02" cy="69.55" rx="0.75" ry="0.42" fill="#fff"/><ellipse cx="650.27" cy="69.55" rx="0.75" ry="0.42" fill="#fff"/>
<ellipse cx="645.02" cy="71.3" rx="0.75" ry="0.42" fill="#fff"/><ellipse cx="650.27" cy="71.3" rx="0.75" ry="0.42" fill="#fff"/>
<ellipse cx="645.02" cy="73.05" rx="0.5" ry="0.42" fill="#fff"/><ellipse cx="650.27" cy="73.05" rx="0.5" ry="0.42" fill="#fff"/>
<ellipse cx="645.02" cy="74.8" rx="0.75" ry="0.42" fill="#fff"/><ellipse cx="650.27" cy="74.8" rx="0.75" ry="0.42" fill="#fff"/>
<ellipse cx="645.02" cy="76.55" rx="0.75" ry="0.42" fill="#fff"/><ellipse cx="650.27" cy="76.55" rx="0.75" ry="0.42" fill="#fff"/>
<ellipse cx="645.02" cy="78.3" rx="0.5" ry="0.42" fill="#fff"/><ellipse cx="650.27" cy="78.3" rx="0.5" ry="0.42" fill="#fff"/>
<ellipse cx="645.02" cy="80.05" rx="0.75" ry="0.42" fill="#fff"/><ellipse cx="650.27" cy="80.05" rx="0.75" ry="0.42" fill="#fff"/>
<ellipse cx="645.02" cy="81.8" rx="0.75" ry="0.42" fill="#fff"/><ellipse cx="650.27" cy="81.8" rx="0.75" ry="0.42" fill="#fff"/>
<ellipse cx="645.02" cy="83.55" rx="0.5" ry="0.42" fill="#fff"/><ellipse cx="650.27" cy="83.55" rx="0.5" ry="0.42" fill="#fff"/>
<ellipse cx="645.02" cy="85.3" rx="0.75" ry="0.42" fill="#fff"/><ellipse cx="650.27" cy="85.3" rx="0.75" ry="0.42" fill="#fff"/>
<ellipse cx="645.02" cy="87.05" rx="0.75" ry="0.42" fill="#fff"/><ellipse cx="650.27" cy="87.05" rx="0.75" ry="0.42" fill="#fff"/>
<ellipse cx="645.02" cy="88.8" rx="0.5" ry="0.42" fill="#fff"/><ellipse cx="650.27" cy="88.8" rx="0.5" ry="0.42" fill="#fff"/>
<ellipse cx="645.02" cy="90.55" rx="0.75" ry="0.42" fill="#fff"/><ellipse cx="650.27" cy="90.55" rx="0.75" ry="0.42" fill="#fff"/>
<ellipse cx="645.02" cy="92.3" rx="0.75" ry="0.42" fill="#fff"/><ellipse cx="650.27" cy="92.3" rx="0.75" ry="0.42" fill="#fff"/>
<line x1="629.45" y1="21.6" x2="647.65" y2="22.9" style="stroke-width:1.2px"/>
<line x1="629.45" y1="26.3" x2="647.65" y2="26.3" style="stroke-width:1.2px"/>
<line x1="629.45" y1="31.4" x2="647.65" y2="42.3" style="stroke-width:1.2px"/>
<line x1="629.45" y1="38.2" x2="647.65" y2="33.6" style="stroke-width:1.2px"/>
<line x1="629.45" y1="49.6" x2="647.65" y2="98.5" style="stroke-width:1.2px"/>
<line x1="629.45" y1="59.1" x2="647.65" y2="107.7" style="stroke-width:1.2px"/>
<line x1="629.45" y1="73.7" x2="647.65" y2="122.6" style="stroke-width:1.2px"/>
<line x1="629.45" y1="90.4" x2="647.65" y2="142.3" style="stroke-width:1.2px"/>
<line x1="629.45" y1="105.1" x2="647.65" y2="156.2" style="stroke-width:1.2px"/>
<line x1="629.45" y1="113.9" x2="647.65" y2="166.3" style="stroke-width:1.2px"/>
<line x1="629.45" y1="116.4" x2="647.65" y2="173.6" style="stroke-width:1.2px"/>
<line x1="629.45" y1="118.5" x2="647.65" y2="180.1" style="stroke-width:1.2px"/>
<line x1="629.45" y1="123.4" x2="647.65" y2="188.9" style="stroke-width:1.2px"/>
<line x1="629.45" y1="138" x2="647.65" y2="204.2" style="stroke-width:1.2px"/>
<line x1="629.45" y1="158.4" x2="647.65" y2="230" style="stroke-width:1.2px"/>
<text x="594.9" y="22.54" font-size="5.52" textLength="28.56" lengthAdjust="spacingAndGlyphs">scaffold00186</text>
<text x="594.9" y="24.34" font-size="5.52" textLength="28.22" lengthAdjust="spacingAndGlyphs">scaffold00119</text>
<text x="594.9" y="25.94" font-size="5.52" textLength="28.56" lengthAdjust="spacingAndGlyphs">scaffold00238</text>
<text x="594.9" y="27.64" font-size="5.52" textLength="33.68" lengthAdjust="spacingAndGlyphs">scaffold00142_2</text>
<text x="594.9" y="32.84" font-size="5.52" textLength="28.56" lengthAdjust="spacingAndGlyphs">scaffold00152</text>
<text x="594.9" y="39.64" font-size="5.52" textLength="28.56" lengthAdjust="spacingAndGlyphs">scaffold00101</text>
<text x="594.9" y="50.34" font-size="5.52" textLength="28.56" lengthAdjust="spacingAndGlyphs">scaffold00085</text>
<text x="594.9" y="60.14" font-size="5.52" textLength="28.56" lengthAdjust="spacingAndGlyphs">scaffold00136</text>
<text x="594.9" y="74.24" font-size="5.52" textLength="28.56" lengthAdjust="spacingAndGlyphs">scaffold00047</text>
<text x="594.9" y="91.34" font-size="5.52" textLength="28.56" lengthAdjust="spacingAndGlyphs">scaffold00096</text>
<text x="594.9" y="106.14" font-size="5.52" textLength="28.56" lengthAdjust="spacingAndGlyphs">scaffold00070</text>
<text x="594.9" y="115.24" font-size="5.52" textLength="28.56" lengthAdjust="spacingAndGlyphs">scaffold00146</text>
<text x="594.9" y="117.64" font-size="5.52" textLength="28.56" lengthAdjust="spacingAndGlyphs">scaffold00135</text>
<text x="594.9" y="123.94" font-size="5.52" textLength="28.56" lengthAdjust="spacingAndGlyphs">scaffold00066</text>
<text x="594.9" y="139.04" font-size="5.52" textLength="28.56" lengthAdjust="spacingAndGlyphs">scaffold00058</text>
<text x="594.9" y="157.44" font-size="5.52" textLength="28.56" lengthAdjust="spacingAndGlyphs">scaffold00060</text>
<text x="669.2" y="21.14" font-size="5.52" text-anchor="middle" textLength="28.56" lengthAdjust="spacingAndGlyphs">scaffold00334</text>
<text x="669.2" y="22.84" font-size="5.52" text-anchor="middle" textLength="28.56" lengthAdjust="spacingAndGlyphs">scaffold00186</text>
<text x="669.2" y="24.44" font-size="5.52" text-anchor="middle" textLength="28.22" lengthAdjust="spacingAndGlyphs">scaffold00119</text>
<text x="669.2" y="27.64" font-size="5.52" text-anchor="middle" textLength="33.68" lengthAdjust="spacingAndGlyphs">scaffold00142_2</text>
<text x="669.2" y="33.94" font-size="5.52" text-anchor="middle" textLength="28.56" lengthAdjust="spacingAndGlyphs">scaffold00101</text>
<text x="669.2" y="40.34" font-size="5.52" text-anchor="middle" textLength="28.56" lengthAdjust="spacingAndGlyphs">scaffold00238</text>
<text x="669.2" y="43.74" font-size="5.52" text-anchor="middle" textLength="28.56" lengthAdjust="spacingAndGlyphs">scaffold00152</text>
<text x="669.2" y="50.34" font-size="5.52" text-anchor="middle" textLength="28.22" lengthAdjust="spacingAndGlyphs">scaffold00112</text>
<text x="669.2" y="54.94" font-size="5.52" text-anchor="middle" textLength="28.56" lengthAdjust="spacingAndGlyphs">scaffold00353</text>
<text x="669.2" y="60.14" font-size="5.52" text-anchor="middle" textLength="28.22" lengthAdjust="spacingAndGlyphs">scaffold00113</text>
<text x="669.2" y="64.94" font-size="5.52" text-anchor="middle" textLength="28.56" lengthAdjust="spacingAndGlyphs">scaffold00284</text>
<text x="669.2" y="66.64" font-size="5.52" text-anchor="middle" textLength="28.56" lengthAdjust="spacingAndGlyphs">scaffold00196</text>
<text x="669.2" y="68.14" font-size="5.52" text-anchor="middle" textLength="28.56" lengthAdjust="spacingAndGlyphs">scaffold00241</text>
<text x="669.2" y="70.74" font-size="5.52" text-anchor="middle" textLength="28.56" lengthAdjust="spacingAndGlyphs">scaffold00179</text>
<text x="669.2" y="77.14" font-size="5.52" text-anchor="middle" textLength="28.56" lengthAdjust="spacingAndGlyphs">scaffold00121</text>
<text x="669.2" y="87.14" font-size="5.52" text-anchor="middle" textLength="28.56" lengthAdjust="spacingAndGlyphs">scaffold00378</text>
<text x="669.2" y="99.84" font-size="5.52" text-anchor="middle" textLength="28.56" lengthAdjust="spacingAndGlyphs">scaffold00385</text>
<text x="669.2" y="108.94" font-size="5.52" text-anchor="middle" textLength="28.56" lengthAdjust="spacingAndGlyphs">scaffold00136</text>
<text x="669.2" y="123.64" font-size="5.52" text-anchor="middle" textLength="28.56" lengthAdjust="spacingAndGlyphs">scaffold00347</text>
<text x="669.2" y="135.64" font-size="5.52" text-anchor="middle" textLength="28.56" lengthAdjust="spacingAndGlyphs">scaffold00275</text>
<text x="669.2" y="143.14" font-size="5.52" text-anchor="middle" textLength="28.56" lengthAdjust="spacingAndGlyphs">scaffold00380</text>
<text x="669.2" y="157.14" font-size="5.52" text-anchor="middle" textLength="28.56" lengthAdjust="spacingAndGlyphs">scaffold00070</text>
<text x="669.2" y="166.34" font-size="5.52" text-anchor="middle" textLength="28.56" lengthAdjust="spacingAndGlyphs">scaffold00186</text>
<text x="669.2" y="168.44" font-size="5.52" text-anchor="middle" textLength="28.56" lengthAdjust="spacingAndGlyphs">scaffold00259</text>
<text x="669.2" y="170.54" font-size="5.52" text-anchor="middle" textLength="28.56" lengthAdjust="spacingAndGlyphs">scaffold00381</text>
<text x="669.2" y="172.64" font-size="5.52" text-anchor="middle" textLength="28.56" lengthAdjust="spacingAndGlyphs">scaffold00146</text>
<text x="669.2" y="174.74" font-size="5.52" text-anchor="middle" textLength="28.56" lengthAdjust="spacingAndGlyphs">scaffold00225</text>
<text x="669.2" y="176.84" font-size="5.52" text-anchor="middle" textLength="28.56" lengthAdjust="spacingAndGlyphs">scaffold00135</text>
<text x="669.2" y="178.94" font-size="5.52" text-anchor="middle" textLength="28.56" lengthAdjust="spacingAndGlyphs">scaffold00283</text>
<text x="669.2" y="181.04" font-size="5.52" text-anchor="middle" textLength="28.56" lengthAdjust="spacingAndGlyphs">scaffold00193</text>
<text x="669.2" y="189.14" font-size="5.52" text-anchor="middle" textLength="28.56" lengthAdjust="spacingAndGlyphs">scaffold00066</text>
<text x="669.2" y="194.74" font-size="5.52" text-anchor="middle" textLength="28.56" lengthAdjust="spacingAndGlyphs">scaffold00414</text>
<text x="669.2" y="205.14" font-size="5.52" text-anchor="middle" textLength="28.56" lengthAdjust="spacingAndGlyphs">scaffold00058</text>
<text x="669.2" y="217.94" font-size="5.52" text-anchor="middle" textLength="28.56" lengthAdjust="spacingAndGlyphs">scaffold00128</text>
<text x="669.2" y="230.94" font-size="5.52" text-anchor="middle" textLength="28.56" lengthAdjust="spacingAndGlyphs">scaffold00060</text>
<text x="625" y="13.38" font-size="6.05" text-anchor="middle" fill="#111" class="t">LG7</text>
<text x="651.9" y="13.38" font-size="6.05" text-anchor="middle" fill="#111" class="t">Chr7</text>
<g clip-path="url(#c17)"><rect x="76.08" y="361.4" width="4.75" height="251.8" fill="#008000"/><rect x="76.08" y="537.6" width="4.75" height="1" rx="0.5" fill="blue"/><rect x="76.08" y="396.2" width="4.75" height="0.6" fill="#fff" opacity="0.6"/><ellipse cx="76.08" cy="396.5" rx="1" ry="0.55" fill="#fff"/><ellipse cx="80.83" cy="396.5" rx="1" ry="0.55" fill="#fff"/><rect x="76.08" y="410.7" width="4.75" height="0.6" fill="#fff" opacity="0.6"/><ellipse cx="76.08" cy="411" rx="1" ry="0.55" fill="#fff"/><ellipse cx="80.83" cy="411" rx="1" ry="0.55" fill="#fff"/><rect x="76.08" y="433.2" width="4.75" height="0.6" fill="#fff" opacity="0.6"/><ellipse cx="76.08" cy="433.5" rx="1" ry="0.55" fill="#fff"/><ellipse cx="80.83" cy="433.5" rx="1" ry="0.55" fill="#fff"/><rect x="76.08" y="439.7" width="4.75" height="0.6" fill="#fff" opacity="0.6"/><ellipse cx="76.08" cy="440" rx="1" ry="0.55" fill="#fff"/><ellipse cx="80.83" cy="440" rx="1" ry="0.55" fill="#fff"/><rect x="76.08" y="445.7" width="4.75" height="0.6" fill="#fff" opacity="0.6"/><ellipse cx="76.08" cy="446" rx="1" ry="0.55" fill="#fff"/><ellipse cx="80.83" cy="446" rx="1" ry="0.55" fill="#fff"/><rect x="76.08" y="526.7" width="4.75" height="0.6" fill="#fff" opacity="0.6"/><ellipse cx="76.08" cy="527" rx="1" ry="0.55" fill="#fff"/><ellipse cx="80.83" cy="527" rx="1" ry="0.55" fill="#fff"/><rect x="76.08" y="534.2" width="4.75" height="0.6" fill="#fff" opacity="0.6"/><ellipse cx="76.08" cy="534.5" rx="1" ry="0.55" fill="#fff"/><ellipse cx="80.83" cy="534.5" rx="1" ry="0.55" fill="#fff"/><rect x="76.08" y="585.7" width="4.75" height="0.6" fill="#fff" opacity="0.6"/><ellipse cx="76.08" cy="586" rx="1" ry="0.55" fill="#fff"/><ellipse cx="80.83" cy="586" rx="1" ry="0.55" fill="#fff"/></g>
<g clip-path="url(#c18)"><rect x="93.6" y="361.4" width="4.6" height="358.6" fill="#008000"/><rect x="93.6" y="435.3" width="4.6" height="7.5" rx="1.2" fill="red"/><rect x="93.6" y="447.3" width="4.6" height="34.9" rx="1.2" fill="red"/><rect x="93.6" y="486.3" width="4.6" height="58.1" rx="1.2" fill="red"/><rect x="93.6" y="623.8" width="4.6" height="6.2" rx="1.2" fill="red"/><rect x="93.6" y="396.2" width="4.6" height="0.6" fill="#fff" opacity="0.6"/><ellipse cx="93.6" cy="396.5" rx="1" ry="0.55" fill="#fff"/><ellipse cx="98.2" cy="396.5" rx="1" ry="0.55" fill="#fff"/><rect x="93.6" y="410.7" width="4.6" height="0.6" fill="#fff" opacity="0.6"/><ellipse cx="93.6" cy="411" rx="1" ry="0.55" fill="#fff"/><ellipse cx="98.2" cy="411" rx="1" ry="0.55" fill="#fff"/><rect x="93.6" y="631.2" width="4.6" height="0.6" fill="#fff" opacity="0.6"/><ellipse cx="93.6" cy="631.5" rx="1" ry="0.55" fill="#fff"/><ellipse cx="98.2" cy="631.5" rx="1" ry="0.55" fill="#fff"/><rect x="93.6" y="641.2" width="4.6" height="0.6" fill="#fff" opacity="0.6"/><ellipse cx="93.6" cy="641.5" rx="1" ry="0.55" fill="#fff"/><ellipse cx="98.2" cy="641.5" rx="1" ry="0.55" fill="#fff"/><rect x="93.6" y="688.2" width="4.6" height="0.6" fill="#fff" opacity="0.6"/><ellipse cx="93.6" cy="688.5" rx="1" ry="0.55" fill="#fff"/><ellipse cx="98.2" cy="688.5" rx="1" ry="0.55" fill="#fff"/><rect x="93.6" y="545.7" width="4.6" height="0.6" fill="#fff" opacity="0.6"/><ellipse cx="93.6" cy="546" rx="1" ry="0.55" fill="#fff"/><ellipse cx="98.2" cy="546" rx="1" ry="0.55" fill="#fff"/><rect x="93.6" y="599.7" width="4.6" height="0.6" fill="#fff" opacity="0.6"/><ellipse cx="93.6" cy="600" rx="1" ry="0.55" fill="#fff"/><ellipse cx="98.2" cy="600" rx="1" ry="0.55" fill="#fff"/></g>
<rect x="93.4" y="435.5" width="5" height="7.1" rx="1" fill="red"/>
<ellipse cx="93.35" cy="436.6" rx="0.5" ry="0.42" fill="#fff"/><ellipse cx="98.45" cy="436.6" rx="0.5" ry="0.42" fill="#fff"/>
<ellipse cx="93.35" cy="438.35" rx="0.75" ry="0.42" fill="#fff"/><ellipse cx="98.45" cy="438.35" rx="0.75" ry="0.42" fill="#fff"/>
<ellipse cx="93.35" cy="440.1" rx="0.75" ry="0.42" fill="#fff"/><ellipse cx="98.45" cy="440.1" rx="0.75" ry="0.42" fill="#fff"/>
<ellipse cx="93.35" cy="441.85" rx="0.5" ry="0.42" fill="#fff"/><ellipse cx="98.45" cy="441.85" rx="0.5" ry="0.42" fill="#fff"/>
<rect x="93.4" y="447.5" width="5" height="34.5" rx="1" fill="red"/>
<ellipse cx="93.35" cy="448.6" rx="0.5" ry="0.42" fill="#fff"/><ellipse cx="98.45" cy="448.6" rx="0.5" ry="0.42" fill="#fff"/>
<ellipse cx="93.35" cy="450.35" rx="0.75" ry="0.42" fill="#fff"/><ellipse cx="98.45" cy="450.35" rx="0.75" ry="0.42" fill="#fff"/>
<ellipse cx="93.35" cy="452.1" rx="0.75" ry="0.42" fill="#fff"/><ellipse cx="98.45" cy="452.1" rx="0.75" ry="0.42" fill="#fff"/>
<ellipse cx="93.35" cy="453.85" rx="0.5" ry="0.42" fill="#fff"/><ellipse cx="98.45" cy="453.85" rx="0.5" ry="0.42" fill="#fff"/>
<ellipse cx="93.35" cy="455.6" rx="0.75" ry="0.42" fill="#fff"/><ellipse cx="98.45" cy="455.6" rx="0.75" ry="0.42" fill="#fff"/>
<ellipse cx="93.35" cy="457.35" rx="0.75" ry="0.42" fill="#fff"/><ellipse cx="98.45" cy="457.35" rx="0.75" ry="0.42" fill="#fff"/>
<ellipse cx="93.35" cy="459.1" rx="0.5" ry="0.42" fill="#fff"/><ellipse cx="98.45" cy="459.1" rx="0.5" ry="0.42" fill="#fff"/>
<ellipse cx="93.35" cy="460.85" rx="0.75" ry="0.42" fill="#fff"/><ellipse cx="98.45" cy="460.85" rx="0.75" ry="0.42" fill="#fff"/>
<ellipse cx="93.35" cy="462.6" rx="0.75" ry="0.42" fill="#fff"/><ellipse cx="98.45" cy="462.6" rx="0.75" ry="0.42" fill="#fff"/>
<ellipse cx="93.35" cy="464.35" rx="0.5" ry="0.42" fill="#fff"/><ellipse cx="98.45" cy="464.35" rx="0.5" ry="0.42" fill="#fff"/>
<ellipse cx="93.35" cy="466.1" rx="0.75" ry="0.42" fill="#fff"/><ellipse cx="98.45" cy="466.1" rx="0.75" ry="0.42" fill="#fff"/>
<ellipse cx="93.35" cy="467.85" rx="0.75" ry="0.42" fill="#fff"/><ellipse cx="98.45" cy="467.85" rx="0.75" ry="0.42" fill="#fff"/>
<ellipse cx="93.35" cy="469.6" rx="0.5" ry="0.42" fill="#fff"/><ellipse cx="98.45" cy="469.6" rx="0.5" ry="0.42" fill="#fff"/>
<ellipse cx="93.35" cy="471.35" rx="0.75" ry="0.42" fill="#fff"/><ellipse cx="98.45" cy="471.35" rx="0.75" ry="0.42" fill="#fff"/>
<ellipse cx="93.35" cy="473.1" rx="0.75" ry="0.42" fill="#fff"/><ellipse cx="98.45" cy="473.1" rx="0.75" ry="0.42" fill="#fff"/>
<ellipse cx="93.35" cy="474.85" rx="0.5" ry="0.42" fill="#fff"/><ellipse cx="98.45" cy="474.85" rx="0.5" ry="0.42" fill="#fff"/>
<ellipse cx="93.35" cy="476.6" rx="0.75" ry="0.42" fill="#fff"/><ellipse cx="98.45" cy="476.6" rx="0.75" ry="0.42" fill="#fff"/>
<ellipse cx="93.35" cy="478.35" rx="0.75" ry="0.42" fill="#fff"/><ellipse cx="98.45" cy="478.35" rx="0.75" ry="0.42" fill="#fff"/>
<ellipse cx="93.35" cy="480.1" rx="0.5" ry="0.42" fill="#fff"/><ellipse cx="98.45" cy="480.1" rx="0.5" ry="0.42" fill="#fff"/>
<rect x="93.4" y="486.5" width="5" height="57.7" rx="1" fill="red"/>
<ellipse cx="93.35" cy="487.6" rx="0.5" ry="0.42" fill="#fff"/><ellipse cx="98.45" cy="487.6" rx="0.5" ry="0.42" fill="#fff"/>
<ellipse cx="93.35" cy="489.35" rx="0.75" ry="0.42" fill="#fff"/><ellipse cx="98.45" cy="489.35" rx="0.75" ry="0.42" fill="#fff"/>
<ellipse cx="93.35" cy="491.1" rx="0.75" ry="0.42" fill="#fff"/><ellipse cx="98.45" cy="491.1" rx="0.75" ry="0.42" fill="#fff"/>
<ellipse cx="93.35" cy="492.85" rx="0.5" ry="0.42" fill="#fff"/><ellipse cx="98.45" cy="492.85" rx="0.5" ry="0.42" fill="#fff"/>
<ellipse cx="93.35" cy="494.6" rx="0.75" ry="0.42" fill="#fff"/><ellipse cx="98.45" cy="494.6" rx="0.75" ry="0.42" fill="#fff"/>
<ellipse cx="93.35" cy="496.35" rx="0.75" ry="0.42" fill="#fff"/><ellipse cx="98.45" cy="496.35" rx="0.75" ry="0.42" fill="#fff"/>
<ellipse cx="93.35" cy="498.1" rx="0.5" ry="0.42" fill="#fff"/><ellipse cx="98.45" cy="498.1" rx="0.5" ry="0.42" fill="#fff"/>
<ellipse cx="93.35" cy="499.85" rx="0.75" ry="0.42" fill="#fff"/><ellipse cx="98.45" cy="499.85" rx="0.75" ry="0.42" fill="#fff"/>
<ellipse cx="93.35" cy="501.6" rx="0.75" ry="0.42" fill="#fff"/><ellipse cx="98.45" cy="501.6" rx="0.75" ry="0.42" fill="#fff"/>
<ellipse cx="93.35" cy="503.35" rx="0.5" ry="0.42" fill="#fff"/><ellipse cx="98.45" cy="503.35" rx="0.5" ry="0.42" fill="#fff"/>
<ellipse cx="93.35" cy="505.1" rx="0.75" ry="0.42" fill="#fff"/><ellipse cx="98.45" cy="505.1" rx="0.75" ry="0.42" fill="#fff"/>
<ellipse cx="93.35" cy="506.85" rx="0.75" ry="0.42" fill="#fff"/><ellipse cx="98.45" cy="506.85" rx="0.75" ry="0.42" fill="#fff"/>
<ellipse cx="93.35" cy="508.6" rx="0.5" ry="0.42" fill="#fff"/><ellipse cx="98.45" cy="508.6" rx="0.5" ry="0.42" fill="#fff"/>
<ellipse cx="93.35" cy="510.35" rx="0.75" ry="0.42" fill="#fff"/><ellipse cx="98.45" cy="510.35" rx="0.75" ry="0.42" fill="#fff"/>
<ellipse cx="93.35" cy="512.1" rx="0.75" ry="0.42" fill="#fff"/><ellipse cx="98.45" cy="512.1" rx="0.75" ry="0.42" fill="#fff"/>
<ellipse cx="93.35" cy="513.85" rx="0.5" ry="0.42" fill="#fff"/><ellipse cx="98.45" cy="513.85" rx="0.5" ry="0.42" fill="#fff"/>
<ellipse cx="93.35" cy="515.6" rx="0.75" ry="0.42" fill="#fff"/><ellipse cx="98.45" cy="515.6" rx="0.75" ry="0.42" fill="#fff"/>
<ellipse cx="93.35" cy="517.35" rx="0.75" ry="0.42" fill="#fff"/><ellipse cx="98.45" cy="517.35" rx="0.75" ry="0.42" fill="#fff"/>
<ellipse cx="93.35" cy="519.1" rx="0.5" ry="0.42" fill="#fff"/><ellipse cx="98.45" cy="519.1" rx="0.5" ry="0.42" fill="#fff"/>
<ellipse cx="93.35" cy="520.85" rx="0.75" ry="0.42" fill="#fff"/><ellipse cx="98.45" cy="520.85" rx="0.75" ry="0.42" fill="#fff"/>
<ellipse cx="93.35" cy="522.6" rx="0.75" ry="0.42" fill="#fff"/><ellipse cx="98.45" cy="522.6" rx="0.75" ry="0.42" fill="#fff"/>
<ellipse cx="93.35" cy="524.35" rx="0.5" ry="0.42" fill="#fff"/><ellipse cx="98.45" cy="524.35" rx="0.5" ry="0.42" fill="#fff"/>
<ellipse cx="93.35" cy="526.1" rx="0.75" ry="0.42" fill="#fff"/><ellipse cx="98.45" cy="526.1" rx="0.75" ry="0.42" fill="#fff"/>
<ellipse cx="93.35" cy="527.85" rx="0.75" ry="0.42" fill="#fff"/><ellipse cx="98.45" cy="527.85" rx="0.75" ry="0.42" fill="#fff"/>
<ellipse cx="93.35" cy="529.6" rx="0.5" ry="0.42" fill="#fff"/><ellipse cx="98.45" cy="529.6" rx="0.5" ry="0.42" fill="#fff"/>
<ellipse cx="93.35" cy="531.35" rx="0.75" ry="0.42" fill="#fff"/><ellipse cx="98.45" cy="531.35" rx="0.75" ry="0.42" fill="#fff"/>
<ellipse cx="93.35" cy="533.1" rx="0.75" ry="0.42" fill="#fff"/><ellipse cx="98.45" cy="533.1" rx="0.75" ry="0.42" fill="#fff"/>
<ellipse cx="93.35" cy="534.85" rx="0.5" ry="0.42" fill="#fff"/><ellipse cx="98.45" cy="534.85" rx="0.5" ry="0.42" fill="#fff"/>
<ellipse cx="93.35" cy="536.6" rx="0.75" ry="0.42" fill="#fff"/><ellipse cx="98.45" cy="536.6" rx="0.75" ry="0.42" fill="#fff"/>
<ellipse cx="93.35" cy="538.35" rx="0.75" ry="0.42" fill="#fff"/><ellipse cx="98.45" cy="538.35" rx="0.75" ry="0.42" fill="#fff"/>
<ellipse cx="93.35" cy="540.1" rx="0.5" ry="0.42" fill="#fff"/><ellipse cx="98.45" cy="540.1" rx="0.5" ry="0.42" fill="#fff"/>
<ellipse cx="93.35" cy="541.85" rx="0.75" ry="0.42" fill="#fff"/><ellipse cx="98.45" cy="541.85" rx="0.75" ry="0.42" fill="#fff"/>
<line x1="78.45" y1="379" x2="95.9" y2="379"/>
<line x1="78.45" y1="404.3" x2="95.9" y2="404.3"/>
<line x1="78.45" y1="423.5" x2="95.9" y2="423.5"/>
<line x1="78.45" y1="443.4" x2="95.9" y2="445.4"/>
<line x1="78.45" y1="438.3" x2="95.9" y2="484.3"/>
<line x1="78.45" y1="486.3" x2="95.9" y2="584"/>
<line x1="78.45" y1="532.3" x2="95.9" y2="636"/>
<line x1="78.45" y1="562.9" x2="95.9" y2="664.7"/>
<line x1="78.45" y1="600.3" x2="95.9" y2="701.8"/>
<text x="41.9" y="379.69" font-size="5.12" textLength="26.51" lengthAdjust="spacingAndGlyphs">scaffold00016</text>
<text x="41.9" y="405.09" font-size="5.12" textLength="26.51" lengthAdjust="spacingAndGlyphs">scaffold00075</text>
<text x="41.9" y="423.29" font-size="5.12" textLength="26.51" lengthAdjust="spacingAndGlyphs">scaffold00045</text>
<text x="41.9" y="438.69" font-size="5.12" textLength="26.51" lengthAdjust="spacingAndGlyphs">scaffold00149</text>
<text x="41.9" y="443.99" font-size="5.12" textLength="26.51" lengthAdjust="spacingAndGlyphs">scaffold00146</text>
<text x="41.9" y="486.69" font-size="5.12" textLength="26.51" lengthAdjust="spacingAndGlyphs">scaffold00001</text>
<text x="41.9" y="532.49" font-size="5.12" textLength="31.26" lengthAdjust="spacingAndGlyphs">scaffold00001_2</text>
<text x="41.9" y="538.99" font-size="5.12" textLength="31.26" lengthAdjust="spacingAndGlyphs">scaffold00001_1</text>
<text x="41.9" y="562.99" font-size="5.12" textLength="26.51" lengthAdjust="spacingAndGlyphs">scaffold00008</text>
<text x="41.9" y="600.29" font-size="5.12" textLength="26.51" lengthAdjust="spacingAndGlyphs">scaffold00034</text>
<text x="115.7" y="379.69" font-size="5.12" text-anchor="middle" textLength="26.51" lengthAdjust="spacingAndGlyphs">scaffold00016</text>
<text x="115.7" y="405.09" font-size="5.12" text-anchor="middle" textLength="26.51" lengthAdjust="spacingAndGlyphs">scaffold00075</text>
<text x="115.7" y="423.29" font-size="5.12" text-anchor="middle" textLength="26.51" lengthAdjust="spacingAndGlyphs">scaffold00045</text>
<text x="115.7" y="436.99" font-size="5.12" text-anchor="middle" textLength="26.51" lengthAdjust="spacingAndGlyphs">scaffold00056</text>
<text x="115.7" y="439.39" font-size="5.12" text-anchor="middle" textLength="26.51" lengthAdjust="spacingAndGlyphs">scaffold00143</text>
<text x="115.7" y="445.09" font-size="5.12" text-anchor="middle" textLength="26.51" lengthAdjust="spacingAndGlyphs">scaffold00146</text>
<text x="115.7" y="447.59" font-size="5.12" text-anchor="middle" textLength="26.51" lengthAdjust="spacingAndGlyphs">scaffold00265</text>
<text x="115.7" y="449.49" font-size="5.12" text-anchor="middle" textLength="26.51" lengthAdjust="spacingAndGlyphs">scaffold00177</text>
<text x="115.7" y="451.39" font-size="5.12" text-anchor="middle" textLength="26.51" lengthAdjust="spacingAndGlyphs">scaffold00302</text>
<text x="115.7" y="453.29" font-size="5.12" text-anchor="middle" textLength="26.51" lengthAdjust="spacingAndGlyphs">scaffold00124</text>
<text x="115.7" y="455.19" font-size="5.12" text-anchor="middle" textLength="26.51" lengthAdjust="spacingAndGlyphs">scaffold00137</text>
<text x="115.7" y="457.09" font-size="5.12" text-anchor="middle" textLength="26.51" lengthAdjust="spacingAndGlyphs">scaffold00374</text>
<text x="115.7" y="458.99" font-size="5.12" text-anchor="middle" textLength="26.51" lengthAdjust="spacingAndGlyphs">scaffold00148</text>
<text x="115.7" y="460.89" font-size="5.12" text-anchor="middle" textLength="26.51" lengthAdjust="spacingAndGlyphs">scaffold00287</text>
<text x="115.7" y="462.79" font-size="5.12" text-anchor="middle" textLength="26.51" lengthAdjust="spacingAndGlyphs">scaffold00398</text>
<text x="115.7" y="466.99" font-size="5.12" text-anchor="middle" textLength="26.51" lengthAdjust="spacingAndGlyphs">scaffold00127</text>
<text x="115.7" y="472.19" font-size="5.12" text-anchor="middle" textLength="26.51" lengthAdjust="spacingAndGlyphs">scaffold00129</text>
<text x="115.7" y="473.89" font-size="5.12" text-anchor="middle" textLength="26.51" lengthAdjust="spacingAndGlyphs">scaffold00359</text>
<text x="115.7" y="475.59" font-size="5.12" text-anchor="middle" textLength="26.51" lengthAdjust="spacingAndGlyphs">scaffold00209</text>
<text x="115.7" y="477.29" font-size="5.12" text-anchor="middle" textLength="26.2" lengthAdjust="spacingAndGlyphs">scaffold00119</text>
<text x="115.7" y="478.99" font-size="5.12" text-anchor="middle" textLength="26.51" lengthAdjust="spacingAndGlyphs">scaffold00144</text>
<text x="115.7" y="480.69" font-size="5.12" text-anchor="middle" textLength="26.51" lengthAdjust="spacingAndGlyphs">scaffold00322</text>
<text x="115.7" y="482.39" font-size="5.12" text-anchor="middle" textLength="26.51" lengthAdjust="spacingAndGlyphs">scaffold00314</text>
<text x="115.7" y="484.09" font-size="5.12" text-anchor="middle" textLength="26.51" lengthAdjust="spacingAndGlyphs">scaffold00135</text>
<text x="115.7" y="485.79" font-size="5.12" text-anchor="middle" textLength="26.51" lengthAdjust="spacingAndGlyphs">scaffold00223</text>
<text x="115.7" y="487.49" font-size="5.12" text-anchor="middle" textLength="26.51" lengthAdjust="spacingAndGlyphs">scaffold00146</text>
<text x="115.7" y="489.19" font-size="5.12" text-anchor="middle" textLength="26.51" lengthAdjust="spacingAndGlyphs">scaffold00382</text>
<text x="115.7" y="490.89" font-size="5.12" text-anchor="middle" textLength="26.51" lengthAdjust="spacingAndGlyphs">scaffold00317</text>
<text x="115.7" y="492.59" font-size="5.12" text-anchor="middle" textLength="26.51" lengthAdjust="spacingAndGlyphs">scaffold00130</text>
<text x="115.7" y="494.29" font-size="5.12" text-anchor="middle" textLength="26.51" lengthAdjust="spacingAndGlyphs">scaffold00389</text>
<text x="115.7" y="495.99" font-size="5.12" text-anchor="middle" textLength="26.51" lengthAdjust="spacingAndGlyphs">scaffold00163</text>
<text x="115.7" y="497.69" font-size="5.12" text-anchor="middle" textLength="26.51" lengthAdjust="spacingAndGlyphs">scaffold00214</text>
<text x="115.7" y="522.49" font-size="5.12" text-anchor="middle" textLength="26.51" lengthAdjust="spacingAndGlyphs">scaffold00398</text>
<text x="115.7" y="524.09" font-size="5.12" text-anchor="middle" textLength="26.51" lengthAdjust="spacingAndGlyphs">scaffold00131</text>
<text x="115.7" y="525.69" font-size="5.12" text-anchor="middle" textLength="26.51" lengthAdjust="spacingAndGlyphs">scaffold00395</text>
<text x="115.7" y="527.29" font-size="5.12" text-anchor="middle" textLength="26.51" lengthAdjust="spacingAndGlyphs">scaffold00399</text>
<text x="115.7" y="528.89" font-size="5.12" text-anchor="middle" textLength="26.51" lengthAdjust="spacingAndGlyphs">scaffold00303</text>
<text x="115.7" y="530.49" font-size="5.12" text-anchor="middle" textLength="26.51" lengthAdjust="spacingAndGlyphs">scaffold00125</text>
<text x="115.7" y="532.09" font-size="5.12" text-anchor="middle" textLength="26.51" lengthAdjust="spacingAndGlyphs">scaffold00213</text>
<text x="115.7" y="533.69" font-size="5.12" text-anchor="middle" textLength="26.51" lengthAdjust="spacingAndGlyphs">scaffold00123</text>
<text x="115.7" y="535.29" font-size="5.12" text-anchor="middle" textLength="26.51" lengthAdjust="spacingAndGlyphs">scaffold00385</text>
<text x="115.7" y="536.89" font-size="5.12" text-anchor="middle" textLength="26.51" lengthAdjust="spacingAndGlyphs">scaffold00168</text>
<text x="115.7" y="538.49" font-size="5.12" text-anchor="middle" textLength="26.51" lengthAdjust="spacingAndGlyphs">scaffold00248</text>
<text x="115.7" y="540.09" font-size="5.12" text-anchor="middle" textLength="26.51" lengthAdjust="spacingAndGlyphs">scaffold00314</text>
<text x="115.7" y="541.69" font-size="5.12" text-anchor="middle" textLength="26.51" lengthAdjust="spacingAndGlyphs">scaffold00173</text>
<text x="115.7" y="543.29" font-size="5.12" text-anchor="middle" textLength="26.51" lengthAdjust="spacingAndGlyphs">scaffold00376</text>
<text x="115.7" y="544.89" font-size="5.12" text-anchor="middle" textLength="26.51" lengthAdjust="spacingAndGlyphs">scaffold00160</text>
<text x="115.7" y="625.39" font-size="5.12" text-anchor="middle" textLength="26.51" lengthAdjust="spacingAndGlyphs">scaffold00251</text>
<text x="115.7" y="628.19" font-size="5.12" text-anchor="middle" textLength="26.51" lengthAdjust="spacingAndGlyphs">scaffold00181</text>
<text x="115.7" y="584.69" font-size="5.12" text-anchor="middle" textLength="26.51" lengthAdjust="spacingAndGlyphs">scaffold00001</text>
<text x="115.7" y="636.59" font-size="5.12" text-anchor="middle" textLength="31.26" lengthAdjust="spacingAndGlyphs">scaffold00001_2</text>
<text x="115.7" y="665.19" font-size="5.12" text-anchor="middle" textLength="26.51" lengthAdjust="spacingAndGlyphs">scaffold00008</text>
<text x="115.7" y="702.79" font-size="5.12" text-anchor="middle" textLength="26.51" lengthAdjust="spacingAndGlyphs">scaffold00034</text>
<text x="112.8" y="498.19" font-size="5.12" textLength="17.33" lengthAdjust="spacingAndGlyphs">C009453</text>
<text x="112.8" y="499.34" font-size="5.12" textLength="17.33" lengthAdjust="spacingAndGlyphs">C005154</text>
<text x="112.8" y="500.49" font-size="5.12" textLength="17.33" lengthAdjust="spacingAndGlyphs">C009279</text>
<text x="112.8" y="501.64" font-size="5.12" textLength="17.33" lengthAdjust="spacingAndGlyphs">C003061</text>
<text x="112.8" y="502.79" font-size="5.12" textLength="17.33" lengthAdjust="spacingAndGlyphs">C001788</text>
<text x="112.8" y="503.94" font-size="5.12" textLength="17.33" lengthAdjust="spacingAndGlyphs">C009628</text>
<text x="112.8" y="505.09" font-size="5.12" textLength="17.33" lengthAdjust="spacingAndGlyphs">C009458</text>
<text x="112.8" y="506.24" font-size="5.12" textLength="17.33" lengthAdjust="spacingAndGlyphs">C003178</text>
<text x="112.8" y="507.39" font-size="5.12" textLength="17.33" lengthAdjust="spacingAndGlyphs">C006201</text>
<text x="112.8" y="508.54" font-size="5.12" textLength="17.33" lengthAdjust="spacingAndGlyphs">C001696</text>
<text x="112.8" y="509.69" font-size="5.12" textLength="17.33" lengthAdjust="spacingAndGlyphs">C009074</text>
<text x="112.8" y="510.84" font-size="5.12" textLength="17.02" lengthAdjust="spacingAndGlyphs">C001128</text>
<text x="112.8" y="511.99" font-size="5.12" textLength="17.33" lengthAdjust="spacingAndGlyphs">C009346</text>
<text x="112.8" y="513.14" font-size="5.12" textLength="17.33" lengthAdjust="spacingAndGlyphs">C001076</text>
<text x="112.8" y="514.29" font-size="5.12" textLength="17.33" lengthAdjust="spacingAndGlyphs">C003474</text>
<text x="112.8" y="515.44" font-size="5.12" textLength="17.33" lengthAdjust="spacingAndGlyphs">C008233</text>
<text x="112.8" y="516.59" font-size="5.12" textLength="17.02" lengthAdjust="spacingAndGlyphs">C008811</text>
<text x="112.8" y="517.74" font-size="5.12" textLength="17.33" lengthAdjust="spacingAndGlyphs">C007105</text>
<text x="112.8" y="518.89" font-size="5.12" textLength="17.33" lengthAdjust="spacingAndGlyphs">C005246</text>
<text x="112.8" y="520.04" font-size="5.12" textLength="17.33" lengthAdjust="spacingAndGlyphs">C007728</text>
<text x="112.8" y="521.19" font-size="5.12" textLength="17.33" lengthAdjust="spacingAndGlyphs">C009693</text>
<text x="78.8" y="354.38" font-size="6.05" text-anchor="middle" fill="#111" class="t">LG8</text>
<text x="102.5" y="352.98" font-size="6.05" text-anchor="middle" fill="#111" class="t">Chr8</text>
<g clip-path="url(#c19)"><rect x="192.75" y="361.6" width="4.7" height="263.2" fill="#008000"/><rect x="192.75" y="381.2" width="4.7" height="0.6" fill="#fff" opacity="0.6"/><ellipse cx="192.75" cy="381.5" rx="1" ry="0.55" fill="#fff"/><ellipse cx="197.45" cy="381.5" rx="1" ry="0.55" fill="#fff"/><rect x="192.75" y="435.7" width="4.7" height="0.6" fill="#fff" opacity="0.6"/><ellipse cx="192.75" cy="436" rx="1" ry="0.55" fill="#fff"/><ellipse cx="197.45" cy="436" rx="1" ry="0.55" fill="#fff"/><rect x="192.75" y="463.2" width="4.7" height="0.6" fill="#fff" opacity="0.6"/><ellipse cx="192.75" cy="463.5" rx="1" ry="0.55" fill="#fff"/><ellipse cx="197.45" cy="463.5" rx="1" ry="0.55" fill="#fff"/><rect x="192.75" y="474.2" width="4.7" height="0.6" fill="#fff" opacity="0.6"/><ellipse cx="192.75" cy="474.5" rx="1" ry="0.55" fill="#fff"/><ellipse cx="197.45" cy="474.5" rx="1" ry="0.55" fill="#fff"/><rect x="192.75" y="489.2" width="4.7" height="0.6" fill="#fff" opacity="0.6"/><ellipse cx="192.75" cy="489.5" rx="1" ry="0.55" fill="#fff"/><ellipse cx="197.45" cy="489.5" rx="1" ry="0.55" fill="#fff"/><rect x="192.75" y="506.7" width="4.7" height="0.6" fill="#fff" opacity="0.6"/><ellipse cx="192.75" cy="507" rx="1" ry="0.55" fill="#fff"/><ellipse cx="197.45" cy="507" rx="1" ry="0.55" fill="#fff"/><rect x="192.75" y="579.2" width="4.7" height="0.6" fill="#fff" opacity="0.6"/><ellipse cx="192.75" cy="579.5" rx="1" ry="0.55" fill="#fff"/><ellipse cx="197.45" cy="579.5" rx="1" ry="0.55" fill="#fff"/><rect x="192.75" y="589.2" width="4.7" height="0.6" fill="#fff" opacity="0.6"/><ellipse cx="192.75" cy="589.5" rx="1" ry="0.55" fill="#fff"/><ellipse cx="197.45" cy="589.5" rx="1" ry="0.55" fill="#fff"/><rect x="192.75" y="599.2" width="4.7" height="0.6" fill="#fff" opacity="0.6"/><ellipse cx="192.75" cy="599.5" rx="1" ry="0.55" fill="#fff"/><ellipse cx="197.45" cy="599.5" rx="1" ry="0.55" fill="#fff"/><rect x="192.75" y="608.7" width="4.7" height="0.6" fill="#fff" opacity="0.6"/><ellipse cx="192.75" cy="609" rx="1" ry="0.55" fill="#fff"/><ellipse cx="197.45" cy="609" rx="1" ry="0.55" fill="#fff"/></g>
<g clip-path="url(#c20)"><rect x="211.1" y="361.6" width="5" height="269.7" fill="#008000"/><rect x="211.1" y="476.3" width="5" height="1" rx="0.5" fill="red"/><rect x="211.1" y="491.3" width="5" height="5.5" rx="1.2" fill="red"/><rect x="211.1" y="381.2" width="5" height="0.6" fill="#fff" opacity="0.6"/><ellipse cx="211.1" cy="381.5" rx="1" ry="0.55" fill="#fff"/><ellipse cx="216.1" cy="381.5" rx="1" ry="0.55" fill="#fff"/><rect x="211.1" y="435.7" width="5" height="0.6" fill="#fff" opacity="0.6"/><ellipse cx="211.1" cy="436" rx="1" ry="0.55" fill="#fff"/><ellipse cx="216.1" cy="436" rx="1" ry="0.55" fill="#fff"/><rect x="211.1" y="463.2" width="5" height="0.6" fill="#fff" opacity="0.6"/><ellipse cx="211.1" cy="463.5" rx="1" ry="0.55" fill="#fff"/><ellipse cx="216.1" cy="463.5" rx="1" ry="0.55" fill="#fff"/><rect x="211.1" y="474.2" width="5" height="0.6" fill="#fff" opacity="0.6"/><ellipse cx="211.1" cy="474.5" rx="1" ry="0.55" fill="#fff"/><ellipse cx="216.1" cy="474.5" rx="1" ry="0.55" fill="#fff"/><rect x="211.1" y="489.2" width="5" height="0.6" fill="#fff" opacity="0.6"/><ellipse cx="211.1" cy="489.5" rx="1" ry="0.55" fill="#fff"/><ellipse cx="216.1" cy="489.5" rx="1" ry="0.55" fill="#fff"/><rect x="211.1" y="514.2" width="5" height="0.6" fill="#fff" opacity="0.6"/><ellipse cx="211.1" cy="514.5" rx="1" ry="0.55" fill="#fff"/><ellipse cx="216.1" cy="514.5" rx="1" ry="0.55" fill="#fff"/><rect x="211.1" y="585.7" width="5" height="0.6" fill="#fff" opacity="0.6"/><ellipse cx="211.1" cy="586" rx="1" ry="0.55" fill="#fff"/><ellipse cx="216.1" cy="586" rx="1" ry="0.55" fill="#fff"/><rect x="211.1" y="595.7" width="5" height="0.6" fill="#fff" opacity="0.6"/><ellipse cx="211.1" cy="596" rx="1" ry="0.55" fill="#fff"/><ellipse cx="216.1" cy="596" rx="1" ry="0.55" fill="#fff"/><rect x="211.1" y="605.2" width="5" height="0.6" fill="#fff" opacity="0.6"/><ellipse cx="211.1" cy="605.5" rx="1" ry="0.55" fill="#fff"/><ellipse cx="216.1" cy="605.5" rx="1" ry="0.55" fill="#fff"/><rect x="211.1" y="615.7" width="5" height="0.6" fill="#fff" opacity="0.6"/><ellipse cx="211.1" cy="616" rx="1" ry="0.55" fill="#fff"/><ellipse cx="216.1" cy="616" rx="1" ry="0.55" fill="#fff"/></g>
<rect x="210.9" y="491.5" width="5.4" height="5.1" rx="1" fill="red"/>
<ellipse cx="210.85" cy="492.6" rx="0.5" ry="0.42" fill="#fff"/><ellipse cx="216.35" cy="492.6" rx="0.5" ry="0.42" fill="#fff"/>
<ellipse cx="210.85" cy="494.35" rx="0.75" ry="0.42" fill="#fff"/><ellipse cx="216.35" cy="494.35" rx="0.75" ry="0.42" fill="#fff"/>
<line x1="195.1" y1="371.4" x2="213.6" y2="371.4"/>
<line x1="195.1" y1="410" x2="213.6" y2="410"/>
<line x1="195.1" y1="450.5" x2="213.6" y2="450.5"/>
<line x1="195.1" y1="470.3" x2="213.6" y2="470.3"/>
<line x1="195.1" y1="483.1" x2="213.6" y2="484.5"/>
<line x1="195.1" y1="498.4" x2="213.6" y2="505.4"/>
<line x1="195.1" y1="543.2" x2="213.6" y2="549.9"/>
<line x1="195.1" y1="583.7" x2="213.6" y2="590.4"/>
<line x1="195.1" y1="593.9" x2="213.6" y2="600.7"/>
<line x1="195.1" y1="603.7" x2="213.6" y2="610.5"/>
<line x1="195.1" y1="617" x2="213.6" y2="624.2"/>
<text x="160.7" y="372.38" font-size="5.64" textLength="29.18" lengthAdjust="spacingAndGlyphs">scaffold00051</text>
<text x="160.7" y="410.18" font-size="5.64" textLength="29.18" lengthAdjust="spacingAndGlyphs">scaffold00005</text>
<text x="160.7" y="451.18" font-size="5.64" textLength="29.18" lengthAdjust="spacingAndGlyphs">scaffold00033</text>
<text x="160.7" y="470.98" font-size="5.64" textLength="29.18" lengthAdjust="spacingAndGlyphs">scaffold00061</text>
<text x="160.7" y="483.18" font-size="5.64" textLength="29.18" lengthAdjust="spacingAndGlyphs">scaffold00076</text>
<text x="160.7" y="499.18" font-size="5.64" textLength="29.18" lengthAdjust="spacingAndGlyphs">scaffold00064</text>
<text x="160.7" y="543.68" font-size="5.64" textLength="29.18" lengthAdjust="spacingAndGlyphs">scaffold00003</text>
<text x="160.7" y="584.48" font-size="5.64" textLength="29.18" lengthAdjust="spacingAndGlyphs">scaffold00108</text>
<text x="160.7" y="594.18" font-size="5.64" textLength="29.18" lengthAdjust="spacingAndGlyphs">scaffold00054</text>
<text x="160.7" y="604.38" font-size="5.64" textLength="29.18" lengthAdjust="spacingAndGlyphs">scaffold00103</text>
<text x="160.7" y="617.58" font-size="5.64" textLength="29.18" lengthAdjust="spacingAndGlyphs">scaffold00066</text>
<text x="233.9" y="372.38" font-size="5.64" text-anchor="middle" textLength="29.18" lengthAdjust="spacingAndGlyphs">scaffold00051</text>
<text x="233.9" y="410.18" font-size="5.64" text-anchor="middle" textLength="29.18" lengthAdjust="spacingAndGlyphs">scaffold00005</text>
<text x="233.9" y="451.18" font-size="5.64" text-anchor="middle" textLength="29.18" lengthAdjust="spacingAndGlyphs">scaffold00033</text>
<text x="233.9" y="470.98" font-size="5.64" text-anchor="middle" textLength="29.18" lengthAdjust="spacingAndGlyphs">scaffold00061</text>
<text x="233.9" y="477.38" font-size="5.64" text-anchor="middle" textLength="29.18" lengthAdjust="spacingAndGlyphs">scaffold00332</text>
<text x="233.9" y="485.28" font-size="5.64" text-anchor="middle" textLength="29.18" lengthAdjust="spacingAndGlyphs">scaffold00076</text>
<text x="233.9" y="493.18" font-size="5.64" text-anchor="middle" textLength="29.18" lengthAdjust="spacingAndGlyphs">scaffold00188</text>
<text x="233.9" y="495.68" font-size="5.64" text-anchor="middle" textLength="29.18" lengthAdjust="spacingAndGlyphs">scaffold00223</text>
<text x="233.9" y="505.68" font-size="5.64" text-anchor="middle" textLength="29.18" lengthAdjust="spacingAndGlyphs">scaffold00064</text>
<text x="233.9" y="550.48" font-size="5.64" text-anchor="middle" textLength="29.18" lengthAdjust="spacingAndGlyphs">scaffold00003</text>
<text x="233.9" y="591.38" font-size="5.64" text-anchor="middle" textLength="29.18" lengthAdjust="spacingAndGlyphs">scaffold00108</text>
<text x="233.9" y="601.18" font-size="5.64" text-anchor="middle" textLength="29.18" lengthAdjust="spacingAndGlyphs">scaffold00054</text>
<text x="233.9" y="610.98" font-size="5.64" text-anchor="middle" textLength="29.18" lengthAdjust="spacingAndGlyphs">scaffold00103</text>
<text x="233.9" y="624.68" font-size="5.64" text-anchor="middle" textLength="29.18" lengthAdjust="spacingAndGlyphs">scaffold00066</text>
<text x="218.5" y="354.98" font-size="6.05" text-anchor="middle" fill="#111" class="t">Chr9</text>
<line x1="155.5" y1="361.6" x2="155.5" y2="504.6" style="stroke:#f4a2c5;stroke-width:2px"/>
<text x="144.3" y="394.8" font-size="5" text-anchor="middle" fill="#111" class="t">LG9</text>
<line x1="155.5" y1="508" x2="155.5" y2="626.2" style="stroke:#f4a2c5;stroke-width:2px"/>
<text x="145.3" y="571.1" font-size="5" text-anchor="middle" fill="#111" class="t">LG15</text>
<g clip-path="url(#c21)"><rect x="294.05" y="364" width="4.7" height="203.8" fill="#008000"/><rect x="294.05" y="364" width="4.7" height="6.2" rx="1.2" fill="blue"/><rect x="294.05" y="380.2" width="4.7" height="0.6" fill="#fff" opacity="0.6"/><ellipse cx="294.05" cy="380.5" rx="1" ry="0.55" fill="#fff"/><ellipse cx="298.75" cy="380.5" rx="1" ry="0.55" fill="#fff"/><rect x="294.05" y="436.7" width="4.7" height="0.6" fill="#fff" opacity="0.6"/><ellipse cx="294.05" cy="437" rx="1" ry="0.55" fill="#fff"/><ellipse cx="298.75" cy="437" rx="1" ry="0.55" fill="#fff"/><rect x="294.05" y="461.7" width="4.7" height="0.6" fill="#fff" opacity="0.6"/><ellipse cx="294.05" cy="462" rx="1" ry="0.55" fill="#fff"/><ellipse cx="298.75" cy="462" rx="1" ry="0.55" fill="#fff"/><rect x="294.05" y="494.7" width="4.7" height="0.6" fill="#fff" opacity="0.6"/><ellipse cx="294.05" cy="495" rx="1" ry="0.55" fill="#fff"/><ellipse cx="298.75" cy="495" rx="1" ry="0.55" fill="#fff"/><rect x="294.05" y="528.7" width="4.7" height="0.6" fill="#fff" opacity="0.6"/><ellipse cx="294.05" cy="529" rx="1" ry="0.55" fill="#fff"/><ellipse cx="298.75" cy="529" rx="1" ry="0.55" fill="#fff"/><rect x="294.05" y="534.7" width="4.7" height="0.6" fill="#fff" opacity="0.6"/><ellipse cx="294.05" cy="535" rx="1" ry="0.55" fill="#fff"/><ellipse cx="298.75" cy="535" rx="1" ry="0.55" fill="#fff"/><rect x="294.05" y="540.7" width="4.7" height="0.6" fill="#fff" opacity="0.6"/><ellipse cx="294.05" cy="541" rx="1" ry="0.55" fill="#fff"/><ellipse cx="298.75" cy="541" rx="1" ry="0.55" fill="#fff"/><rect x="294.05" y="548.2" width="4.7" height="0.6" fill="#fff" opacity="0.6"/><ellipse cx="294.05" cy="548.5" rx="1" ry="0.55" fill="#fff"/><ellipse cx="298.75" cy="548.5" rx="1" ry="0.55" fill="#fff"/></g>
<g clip-path="url(#c22)"><rect x="310.85" y="364" width="4.3" height="240" fill="#008000"/><rect x="310.85" y="455.8" width="4.3" height="30.2" rx="1.2" fill="red"/><rect x="310.85" y="560.1" width="4.3" height="1" rx="0.5" fill="red"/><rect x="310.85" y="565.8" width="4.3" height="1" rx="0.5" fill="red"/><rect x="310.85" y="573.8" width="4.3" height="1" rx="0.5" fill="red"/><rect x="310.85" y="595.4" width="4.3" height="8.6" rx="1.2" fill="red"/><rect x="310.85" y="373.2" width="4.3" height="0.6" fill="#fff" opacity="0.6"/><ellipse cx="310.85" cy="373.5" rx="1" ry="0.55" fill="#fff"/><ellipse cx="315.15" cy="373.5" rx="1" ry="0.55" fill="#fff"/><rect x="310.85" y="431.2" width="4.3" height="0.6" fill="#fff" opacity="0.6"/><ellipse cx="310.85" cy="431.5" rx="1" ry="0.55" fill="#fff"/><ellipse cx="315.15" cy="431.5" rx="1" ry="0.55" fill="#fff"/><rect x="310.85" y="517.2" width="4.3" height="0.6" fill="#fff" opacity="0.6"/><ellipse cx="310.85" cy="517.5" rx="1" ry="0.55" fill="#fff"/><ellipse cx="315.15" cy="517.5" rx="1" ry="0.55" fill="#fff"/><rect x="310.85" y="550.7" width="4.3" height="0.6" fill="#fff" opacity="0.6"/><ellipse cx="310.85" cy="551" rx="1" ry="0.55" fill="#fff"/><ellipse cx="315.15" cy="551" rx="1" ry="0.55" fill="#fff"/><rect x="310.85" y="558.2" width="4.3" height="0.6" fill="#fff" opacity="0.6"/><ellipse cx="310.85" cy="558.5" rx="1" ry="0.55" fill="#fff"/><ellipse cx="315.15" cy="558.5" rx="1" ry="0.55" fill="#fff"/><rect x="310.85" y="563.7" width="4.3" height="0.6" fill="#fff" opacity="0.6"/><ellipse cx="310.85" cy="564" rx="1" ry="0.55" fill="#fff"/><ellipse cx="315.15" cy="564" rx="1" ry="0.55" fill="#fff"/><rect x="310.85" y="570.7" width="4.3" height="0.6" fill="#fff" opacity="0.6"/><ellipse cx="310.85" cy="571" rx="1" ry="0.55" fill="#fff"/><ellipse cx="315.15" cy="571" rx="1" ry="0.55" fill="#fff"/><rect x="310.85" y="577.2" width="4.3" height="0.6" fill="#fff" opacity="0.6"/><ellipse cx="310.85" cy="577.5" rx="1" ry="0.55" fill="#fff"/><ellipse cx="315.15" cy="577.5" rx="1" ry="0.55" fill="#fff"/></g>
<rect x="310.65" y="456" width="4.7" height="29.8" rx="1" fill="red"/>
<ellipse cx="310.6" cy="457.1" rx="0.5" ry="0.42" fill="#fff"/><ellipse cx="315.4" cy="457.1" rx="0.5" ry="0.42" fill="#fff"/>
<ellipse cx="310.6" cy="458.85" rx="0.75" ry="0.42" fill="#fff"/><ellipse cx="315.4" cy="458.85" rx="0.75" ry="0.42" fill="#fff"/>
<ellipse cx="310.6" cy="460.6" rx="0.75" ry="0.42" fill="#fff"/><ellipse cx="315.4" cy="460.6" rx="0.75" ry="0.42" fill="#fff"/>
<ellipse cx="310.6" cy="462.35" rx="0.5" ry="0.42" fill="#fff"/><ellipse cx="315.4" cy="462.35" rx="0.5" ry="0.42" fill="#fff"/>
<ellipse cx="310.6" cy="464.1" rx="0.75" ry="0.42" fill="#fff"/><ellipse cx="315.4" cy="464.1" rx="0.75" ry="0.42" fill="#fff"/>
<ellipse cx="310.6" cy="465.85" rx="0.75" ry="0.42" fill="#fff"/><ellipse cx="315.4" cy="465.85" rx="0.75" ry="0.42" fill="#fff"/>
<ellipse cx="310.6" cy="467.6" rx="0.5" ry="0.42" fill="#fff"/><ellipse cx="315.4" cy="467.6" rx="0.5" ry="0.42" fill="#fff"/>
<ellipse cx="310.6" cy="469.35" rx="0.75" ry="0.42" fill="#fff"/><ellipse cx="315.4" cy="469.35" rx="0.75" ry="0.42" fill="#fff"/>
<ellipse cx="310.6" cy="471.1" rx="0.75" ry="0.42" fill="#fff"/><ellipse cx="315.4" cy="471.1" rx="0.75" ry="0.42" fill="#fff"/>
<ellipse cx="310.6" cy="472.85" rx="0.5" ry="0.42" fill="#fff"/><ellipse cx="315.4" cy="472.85" rx="0.5" ry="0.42" fill="#fff"/>
<ellipse cx="310.6" cy="474.6" rx="0.75" ry="0.42" fill="#fff"/><ellipse cx="315.4" cy="474.6" rx="0.75" ry="0.42" fill="#fff"/>
<ellipse cx="310.6" cy="476.35" rx="0.75" ry="0.42" fill="#fff"/><ellipse cx="315.4" cy="476.35" rx="0.75" ry="0.42" fill="#fff"/>
<ellipse cx="310.6" cy="478.1" rx="0.5" ry="0.42" fill="#fff"/><ellipse cx="315.4" cy="478.1" rx="0.5" ry="0.42" fill="#fff"/>
<ellipse cx="310.6" cy="479.85" rx="0.75" ry="0.42" fill="#fff"/><ellipse cx="315.4" cy="479.85" rx="0.75" ry="0.42" fill="#fff"/>
<ellipse cx="310.6" cy="481.6" rx="0.75" ry="0.42" fill="#fff"/><ellipse cx="315.4" cy="481.6" rx="0.75" ry="0.42" fill="#fff"/>
<ellipse cx="310.6" cy="483.35" rx="0.5" ry="0.42" fill="#fff"/><ellipse cx="315.4" cy="483.35" rx="0.5" ry="0.42" fill="#fff"/>
<ellipse cx="310.6" cy="485.1" rx="0.75" ry="0.42" fill="#fff"/><ellipse cx="315.4" cy="485.1" rx="0.75" ry="0.42" fill="#fff"/>
<line x1="296.4" y1="374.9" x2="313" y2="369.1"/>
<line x1="296.4" y1="408.2" x2="313" y2="402.4"/>
<line x1="296.4" y1="449.4" x2="313" y2="443.7"/>
<line x1="296.4" y1="478.4" x2="313" y2="500.9"/>
<line x1="296.4" y1="512" x2="313" y2="534.4"/>
<line x1="296.4" y1="533" x2="313" y2="555.5"/>
<line x1="296.4" y1="539.1" x2="313" y2="562.6"/>
<line x1="296.4" y1="544.2" x2="313" y2="568.8"/>
<line x1="296.4" y1="557.9" x2="313" y2="584.8"/>
<text x="261.9" y="367.45" font-size="4.99" textLength="25.83" lengthAdjust="spacingAndGlyphs">scaffold00136</text>
<text x="261.9" y="375.35" font-size="4.99" textLength="25.83" lengthAdjust="spacingAndGlyphs">scaffold00058</text>
<text x="261.9" y="408.95" font-size="4.99" textLength="30.46" lengthAdjust="spacingAndGlyphs">scaffold00002_1</text>
<text x="261.9" y="450.45" font-size="4.99" textLength="25.83" lengthAdjust="spacingAndGlyphs">scaffold00043</text>
<text x="261.9" y="478.65" font-size="4.99" textLength="25.83" lengthAdjust="spacingAndGlyphs">scaffold00023</text>
<text x="261.9" y="512.05" font-size="4.99" textLength="25.83" lengthAdjust="spacingAndGlyphs">scaffold00018</text>
<text x="261.9" y="532.95" font-size="4.99" textLength="25.83" lengthAdjust="spacingAndGlyphs">scaffold00123</text>
<text x="261.9" y="539.45" font-size="4.99" textLength="25.83" lengthAdjust="spacingAndGlyphs">scaffold00160</text>
<text x="261.9" y="544.75" font-size="4.99" textLength="25.83" lengthAdjust="spacingAndGlyphs">scaffold00139</text>
<text x="261.9" y="558.25" font-size="4.99" textLength="25.83" lengthAdjust="spacingAndGlyphs">scaffold00093</text>
<text x="332.5" y="369.25" font-size="4.99" text-anchor="middle" textLength="25.83" lengthAdjust="spacingAndGlyphs">scaffold00058</text>
<text x="332.5" y="402.95" font-size="4.99" text-anchor="middle" textLength="30.46" lengthAdjust="spacingAndGlyphs">scaffold00002_1</text>
<text x="332.5" y="443.85" font-size="4.99" text-anchor="middle" textLength="25.83" lengthAdjust="spacingAndGlyphs">scaffold00043</text>
<text x="332.5" y="456.65" font-size="4.99" text-anchor="middle" textLength="25.83" lengthAdjust="spacingAndGlyphs">scaffold00172</text>
<text x="332.5" y="459.25" font-size="4.99" text-anchor="middle" textLength="25.83" lengthAdjust="spacingAndGlyphs">scaffold00233</text>
<text x="332.5" y="461.65" font-size="4.99" text-anchor="middle" textLength="25.83" lengthAdjust="spacingAndGlyphs">scaffold00164</text>
<text x="332.5" y="467.35" font-size="4.99" text-anchor="middle" textLength="25.52" lengthAdjust="spacingAndGlyphs">scaffold00119</text>
<text x="332.5" y="472.75" font-size="4.99" text-anchor="middle" textLength="25.83" lengthAdjust="spacingAndGlyphs">scaffold00280</text>
<text x="332.5" y="478.15" font-size="4.99" text-anchor="middle" textLength="25.83" lengthAdjust="spacingAndGlyphs">scaffold00125</text>
<text x="332.5" y="482.55" font-size="4.99" text-anchor="middle" textLength="25.83" lengthAdjust="spacingAndGlyphs">scaffold00262</text>
<text x="332.5" y="485.15" font-size="4.99" text-anchor="middle" textLength="25.83" lengthAdjust="spacingAndGlyphs">scaffold00255</text>
<text x="332.5" y="501.85" font-size="4.99" text-anchor="middle" textLength="25.83" lengthAdjust="spacingAndGlyphs">scaffold00023</text>
<text x="332.5" y="535.35" font-size="4.99" text-anchor="middle" textLength="25.83" lengthAdjust="spacingAndGlyphs">scaffold00018</text>
<text x="332.5" y="555.95" font-size="4.99" text-anchor="middle" textLength="25.83" lengthAdjust="spacingAndGlyphs">scaffold00123</text>
<text x="332.5" y="560.45" font-size="4.99" text-anchor="middle" textLength="14.57" lengthAdjust="spacingAndGlyphs">C00646</text>
<text x="332.5" y="563.55" font-size="4.99" text-anchor="middle" textLength="25.83" lengthAdjust="spacingAndGlyphs">scaffold00160</text>
<text x="332.5" y="565.55" font-size="4.99" text-anchor="middle" textLength="25.83" lengthAdjust="spacingAndGlyphs">scaffold00295</text>
<text x="332.5" y="570.75" font-size="4.99" text-anchor="middle" textLength="25.83" lengthAdjust="spacingAndGlyphs">scaffold00139</text>
<text x="332.5" y="575.15" font-size="4.99" text-anchor="middle" textLength="14.57" lengthAdjust="spacingAndGlyphs">C00496</text>
<text x="332.5" y="585.45" font-size="4.99" text-anchor="middle" textLength="25.83" lengthAdjust="spacingAndGlyphs">scaffold00093</text>
<text x="332.5" y="599.95" font-size="4.99" text-anchor="middle" textLength="25.83" lengthAdjust="spacingAndGlyphs">scaffold00159</text>
<text x="298" y="354.18" font-size="6.05" text-anchor="middle" fill="#111" class="t">LG10</text>
<text x="321.3" y="354.18" font-size="6.05" text-anchor="middle" fill="#111" class="t">Chr10</text>
<g clip-path="url(#c23)"><rect x="384.93" y="364" width="4.55" height="182.3" fill="#008000"/><rect x="384.93" y="489.5" width="4.55" height="25.1" rx="1.2" fill="blue"/><rect x="384.93" y="374.7" width="4.55" height="0.6" fill="#fff" opacity="0.6"/><ellipse cx="384.93" cy="375" rx="1" ry="0.55" fill="#fff"/><ellipse cx="389.47" cy="375" rx="1" ry="0.55" fill="#fff"/><rect x="384.93" y="394.2" width="4.55" height="0.6" fill="#fff" opacity="0.6"/><ellipse cx="384.93" cy="394.5" rx="1" ry="0.55" fill="#fff"/><ellipse cx="389.47" cy="394.5" rx="1" ry="0.55" fill="#fff"/><rect x="384.93" y="410.7" width="4.55" height="0.6" fill="#fff" opacity="0.6"/><ellipse cx="384.93" cy="411" rx="1" ry="0.55" fill="#fff"/><ellipse cx="389.47" cy="411" rx="1" ry="0.55" fill="#fff"/><rect x="384.93" y="419.2" width="4.55" height="0.6" fill="#fff" opacity="0.6"/><ellipse cx="384.93" cy="419.5" rx="1" ry="0.55" fill="#fff"/><ellipse cx="389.47" cy="419.5" rx="1" ry="0.55" fill="#fff"/><rect x="384.93" y="480.7" width="4.55" height="0.6" fill="#fff" opacity="0.6"/><ellipse cx="384.93" cy="481" rx="1" ry="0.55" fill="#fff"/><ellipse cx="389.47" cy="481" rx="1" ry="0.55" fill="#fff"/><rect x="384.93" y="487.2" width="4.55" height="0.6" fill="#fff" opacity="0.6"/><ellipse cx="384.93" cy="487.5" rx="1" ry="0.55" fill="#fff"/><ellipse cx="389.47" cy="487.5" rx="1" ry="0.55" fill="#fff"/><rect x="384.93" y="515.7" width="4.55" height="0.6" fill="#fff" opacity="0.6"/><ellipse cx="384.93" cy="516" rx="1" ry="0.55" fill="#fff"/><ellipse cx="389.47" cy="516" rx="1" ry="0.55" fill="#fff"/><rect x="384.93" y="524.2" width="4.55" height="0.6" fill="#fff" opacity="0.6"/><ellipse cx="384.93" cy="524.5" rx="1" ry="0.55" fill="#fff"/><ellipse cx="389.47" cy="524.5" rx="1" ry="0.55" fill="#fff"/></g>
<g clip-path="url(#c24)"><rect x="403.27" y="364" width="4.85" height="171.7" fill="#008000"/><rect x="403.27" y="414.3" width="4.85" height="11.2" rx="1.2" fill="red"/><rect x="403.27" y="492.6" width="4.85" height="1" rx="0.5" fill="#a03010"/><rect x="403.27" y="533.6" width="4.85" height="2.1" rx="1.05" fill="red"/><rect x="403.27" y="374.7" width="4.85" height="0.6" fill="#fff" opacity="0.6"/><ellipse cx="403.27" cy="375" rx="1" ry="0.55" fill="#fff"/><ellipse cx="408.12" cy="375" rx="1" ry="0.55" fill="#fff"/><rect x="403.27" y="394.2" width="4.85" height="0.6" fill="#fff" opacity="0.6"/><ellipse cx="403.27" cy="394.5" rx="1" ry="0.55" fill="#fff"/><ellipse cx="408.12" cy="394.5" rx="1" ry="0.55" fill="#fff"/><rect x="403.27" y="410.7" width="4.85" height="0.6" fill="#fff" opacity="0.6"/><ellipse cx="403.27" cy="411" rx="1" ry="0.55" fill="#fff"/><ellipse cx="408.12" cy="411" rx="1" ry="0.55" fill="#fff"/><rect x="403.27" y="431.2" width="4.85" height="0.6" fill="#fff" opacity="0.6"/><ellipse cx="403.27" cy="431.5" rx="1" ry="0.55" fill="#fff"/><ellipse cx="408.12" cy="431.5" rx="1" ry="0.55" fill="#fff"/><rect x="403.27" y="498.7" width="4.85" height="0.6" fill="#fff" opacity="0.6"/><ellipse cx="403.27" cy="499" rx="1" ry="0.55" fill="#fff"/><ellipse cx="408.12" cy="499" rx="1" ry="0.55" fill="#fff"/><rect x="403.27" y="511.2" width="4.85" height="0.6" fill="#fff" opacity="0.6"/><ellipse cx="403.27" cy="511.5" rx="1" ry="0.55" fill="#fff"/><ellipse cx="408.12" cy="511.5" rx="1" ry="0.55" fill="#fff"/></g>
<rect x="403.07" y="414.5" width="5.25" height="10.8" rx="1" fill="red"/>
<ellipse cx="403.02" cy="415.6" rx="0.5" ry="0.42" fill="#fff"/><ellipse cx="408.38" cy="415.6" rx="0.5" ry="0.42" fill="#fff"/>
<ellipse cx="403.02" cy="417.35" rx="0.75" ry="0.42" fill="#fff"/><ellipse cx="408.38" cy="417.35" rx="0.75" ry="0.42" fill="#fff"/>
<ellipse cx="403.02" cy="419.1" rx="0.75" ry="0.42" fill="#fff"/><ellipse cx="408.38" cy="419.1" rx="0.75" ry="0.42" fill="#fff"/>
<ellipse cx="403.02" cy="420.85" rx="0.5" ry="0.42" fill="#fff"/><ellipse cx="408.38" cy="420.85" rx="0.5" ry="0.42" fill="#fff"/>
<ellipse cx="403.02" cy="422.6" rx="0.75" ry="0.42" fill="#fff"/><ellipse cx="408.38" cy="422.6" rx="0.75" ry="0.42" fill="#fff"/>
<ellipse cx="403.02" cy="424.35" rx="0.75" ry="0.42" fill="#fff"/><ellipse cx="408.38" cy="424.35" rx="0.75" ry="0.42" fill="#fff"/>
<line x1="387.2" y1="369.7" x2="405.7" y2="369.7"/>
<line x1="387.2" y1="385.3" x2="405.7" y2="385.3"/>
<line x1="387.2" y1="404.7" x2="405.7" y2="404.7"/>
<line x1="387.2" y1="417.2" x2="405.7" y2="428"/>
<line x1="387.2" y1="450.5" x2="405.7" y2="461.6"/>
<line x1="387.2" y1="485.4" x2="405.7" y2="497.2"/>
<line x1="387.2" y1="519.7" x2="405.7" y2="507.4"/>
<line x1="387.2" y1="535.4" x2="405.7" y2="523.2"/>
<text x="353.2" y="370.1" font-size="5.7" textLength="29.49" lengthAdjust="spacingAndGlyphs">scaffold00084</text>
<text x="353.2" y="385.8" font-size="5.7" textLength="29.49" lengthAdjust="spacingAndGlyphs">scaffold00094</text>
<text x="353.2" y="405.1" font-size="5.7" textLength="29.49" lengthAdjust="spacingAndGlyphs">scaffold00061</text>
<text x="353.2" y="417.3" font-size="5.7" textLength="29.49" lengthAdjust="spacingAndGlyphs">scaffold00147</text>
<text x="353.2" y="450.8" font-size="5.7" textLength="29.49" lengthAdjust="spacingAndGlyphs">scaffold00004</text>
<text x="353.2" y="485.5" font-size="5.7" textLength="28.79" lengthAdjust="spacingAndGlyphs">scaffold00111</text>
<text x="353.2" y="503.1" font-size="5.7" textLength="29.49" lengthAdjust="spacingAndGlyphs">scaffold00040</text>
<text x="353.2" y="520.6" font-size="5.7" textLength="29.49" lengthAdjust="spacingAndGlyphs">scaffold00099</text>
<text x="353.2" y="536.4" font-size="5.7" textLength="29.49" lengthAdjust="spacingAndGlyphs">scaffold00049</text>
<text x="427.9" y="370.1" font-size="5.7" text-anchor="middle" textLength="29.49" lengthAdjust="spacingAndGlyphs">scaffold00084</text>
<text x="427.9" y="385.8" font-size="5.7" text-anchor="middle" textLength="29.49" lengthAdjust="spacingAndGlyphs">scaffold00094</text>
<text x="427.9" y="405.1" font-size="5.7" text-anchor="middle" textLength="29.49" lengthAdjust="spacingAndGlyphs">scaffold00061</text>
<text x="427.9" y="415.2" font-size="5.7" text-anchor="middle" textLength="29.49" lengthAdjust="spacingAndGlyphs">scaffold00234</text>
<text x="427.9" y="415.9" font-size="5.7" text-anchor="middle" textLength="29.49" lengthAdjust="spacingAndGlyphs">scaffold00199</text>
<text x="427.9" y="420.4" font-size="5.7" text-anchor="middle" textLength="29.49" lengthAdjust="spacingAndGlyphs">scaffold00142</text>
<text x="427.9" y="424.7" font-size="5.7" text-anchor="middle" textLength="29.49" lengthAdjust="spacingAndGlyphs">scaffold00165</text>
<text x="427.9" y="428.8" font-size="5.7" text-anchor="middle" textLength="29.49" lengthAdjust="spacingAndGlyphs">scaffold00147</text>
<text x="427.9" y="462.4" font-size="5.7" text-anchor="middle" textLength="29.49" lengthAdjust="spacingAndGlyphs">scaffold00004</text>
<text x="427.9" y="492.9" font-size="5.7" text-anchor="middle" textLength="16.64" lengthAdjust="spacingAndGlyphs">C00636</text>
<text x="427.9" y="498" font-size="5.7" text-anchor="middle" textLength="28.79" lengthAdjust="spacingAndGlyphs">scaffold00111</text>
<text x="427.9" y="507.4" font-size="5.7" text-anchor="middle" textLength="29.49" lengthAdjust="spacingAndGlyphs">scaffold00099</text>
<text x="427.9" y="523.3" font-size="5.7" text-anchor="middle" textLength="29.49" lengthAdjust="spacingAndGlyphs">scaffold00049</text>
<text x="427.9" y="535.2" font-size="5.7" text-anchor="middle" textLength="29.49" lengthAdjust="spacingAndGlyphs">scaffold00273</text>
<text x="381.9" y="354.98" font-size="6.05" text-anchor="middle" fill="#111" class="t">LG11</text>
<text x="411.2" y="353.98" font-size="6.05" text-anchor="middle" fill="#111" class="t">Chr11</text>
<g clip-path="url(#c25)"><rect x="504" y="361" width="5" height="137.2" fill="#008000"/><rect x="504" y="389.7" width="5" height="0.6" fill="#fff" opacity="0.6"/><ellipse cx="504" cy="390" rx="1" ry="0.55" fill="#fff"/><ellipse cx="509" cy="390" rx="1" ry="0.55" fill="#fff"/><rect x="504" y="405.2" width="5" height="0.6" fill="#fff" opacity="0.6"/><ellipse cx="504" cy="405.5" rx="1" ry="0.55" fill="#fff"/><ellipse cx="509" cy="405.5" rx="1" ry="0.55" fill="#fff"/><rect x="504" y="412.7" width="5" height="0.6" fill="#fff" opacity="0.6"/><ellipse cx="504" cy="413" rx="1" ry="0.55" fill="#fff"/><ellipse cx="509" cy="413" rx="1" ry="0.55" fill="#fff"/><rect x="504" y="421.2" width="5" height="0.6" fill="#fff" opacity="0.6"/><ellipse cx="504" cy="421.5" rx="1" ry="0.55" fill="#fff"/><ellipse cx="509" cy="421.5" rx="1" ry="0.55" fill="#fff"/><rect x="504" y="446.7" width="5" height="0.6" fill="#fff" opacity="0.6"/><ellipse cx="504" cy="447" rx="1" ry="0.55" fill="#fff"/><ellipse cx="509" cy="447" rx="1" ry="0.55" fill="#fff"/><rect x="504" y="459.7" width="5" height="0.6" fill="#fff" opacity="0.6"/><ellipse cx="504" cy="460" rx="1" ry="0.55" fill="#fff"/><ellipse cx="509" cy="460" rx="1" ry="0.55" fill="#fff"/><rect x="504" y="467.7" width="5" height="0.6" fill="#fff" opacity="0.6"/><ellipse cx="504" cy="468" rx="1" ry="0.55" fill="#fff"/><ellipse cx="509" cy="468" rx="1" ry="0.55" fill="#fff"/><rect x="504" y="475.2" width="5" height="0.6" fill="#fff" opacity="0.6"/><ellipse cx="504" cy="475.5" rx="1" ry="0.55" fill="#fff"/><ellipse cx="509" cy="475.5" rx="1" ry="0.55" fill="#fff"/><rect x="504" y="483.2" width="5" height="0.6" fill="#fff" opacity="0.6"/><ellipse cx="504" cy="483.5" rx="1" ry="0.55" fill="#fff"/><ellipse cx="509" cy="483.5" rx="1" ry="0.55" fill="#fff"/></g>
<g clip-path="url(#c26)"><rect x="522.7" y="361" width="5" height="199.6" fill="#008000"/><rect x="522.7" y="406.5" width="5" height="24.5" rx="1.2" fill="red"/><rect x="522.7" y="438.8" width="5" height="2.5" rx="1.2" fill="red"/><rect x="522.7" y="450.3" width="5" height="27.3" rx="1.2" fill="red"/><rect x="522.7" y="535" width="5" height="6.2" rx="1.2" fill="red"/><rect x="522.7" y="389.7" width="5" height="0.6" fill="#fff" opacity="0.6"/><ellipse cx="522.7" cy="390" rx="1" ry="0.55" fill="#fff"/><ellipse cx="527.7" cy="390" rx="1" ry="0.55" fill="#fff"/><rect x="522.7" y="432.7" width="5" height="0.6" fill="#fff" opacity="0.6"/><ellipse cx="522.7" cy="433" rx="1" ry="0.55" fill="#fff"/><ellipse cx="527.7" cy="433" rx="1" ry="0.55" fill="#fff"/><rect x="522.7" y="448.2" width="5" height="0.6" fill="#fff" opacity="0.6"/><ellipse cx="522.7" cy="448.5" rx="1" ry="0.55" fill="#fff"/><ellipse cx="527.7" cy="448.5" rx="1" ry="0.55" fill="#fff"/><rect x="522.7" y="504.7" width="5" height="0.6" fill="#fff" opacity="0.6"/><ellipse cx="522.7" cy="505" rx="1" ry="0.55" fill="#fff"/><ellipse cx="527.7" cy="505" rx="1" ry="0.55" fill="#fff"/><rect x="522.7" y="515.7" width="5" height="0.6" fill="#fff" opacity="0.6"/><ellipse cx="522.7" cy="516" rx="1" ry="0.55" fill="#fff"/><ellipse cx="527.7" cy="516" rx="1" ry="0.55" fill="#fff"/><rect x="522.7" y="524.7" width="5" height="0.6" fill="#fff" opacity="0.6"/><ellipse cx="522.7" cy="525" rx="1" ry="0.55" fill="#fff"/><ellipse cx="527.7" cy="525" rx="1" ry="0.55" fill="#fff"/><rect x="522.7" y="532.7" width="5" height="0.6" fill="#fff" opacity="0.6"/><ellipse cx="522.7" cy="533" rx="1" ry="0.55" fill="#fff"/><ellipse cx="527.7" cy="533" rx="1" ry="0.55" fill="#fff"/><rect x="522.7" y="546.7" width="5" height="0.6" fill="#fff" opacity="0.6"/><ellipse cx="522.7" cy="547" rx="1" ry="0.55" fill="#fff"/><ellipse cx="527.7" cy="547" rx="1" ry="0.55" fill="#fff"/></g>
<line x1="506.5" y1="375.5" x2="525.2" y2="375.5"/>
<line x1="506.5" y1="398.4" x2="525.2" y2="398.4"/>
<line x1="506.5" y1="411" x2="525.2" y2="446.4"/>
<line x1="506.5" y1="417.8" x2="525.2" y2="435.1"/>
<line x1="506.5" y1="434.5" x2="525.2" y2="491.1"/>
<line x1="506.5" y1="455.9" x2="525.2" y2="512.6"/>
<line x1="506.5" y1="465.1" x2="525.2" y2="522.4"/>
<line x1="506.5" y1="472.7" x2="525.2" y2="529.9"/>
<line x1="506.5" y1="480.5" x2="525.2" y2="544.2"/>
<line x1="506.5" y1="490.7" x2="525.2" y2="554"/>
<text x="473.2" y="376.2" font-size="5.7" textLength="29.49" lengthAdjust="spacingAndGlyphs">scaffold00096</text>
<text x="473.2" y="398.9" font-size="5.7" textLength="29.49" lengthAdjust="spacingAndGlyphs">scaffold00071</text>
<text x="473.2" y="411.2" font-size="5.7" textLength="29.49" lengthAdjust="spacingAndGlyphs">scaffold00107</text>
<text x="473.2" y="418.5" font-size="5.7" textLength="29.49" lengthAdjust="spacingAndGlyphs">scaffold00150</text>
<text x="473.2" y="435.1" font-size="5.7" textLength="29.49" lengthAdjust="spacingAndGlyphs">scaffold00035</text>
<text x="473.2" y="456.4" font-size="5.7" textLength="29.49" lengthAdjust="spacingAndGlyphs">scaffold00073</text>
<text x="473.2" y="465.9" font-size="5.7" textLength="29.49" lengthAdjust="spacingAndGlyphs">scaffold00171</text>
<text x="473.2" y="473.4" font-size="5.7" textLength="29.49" lengthAdjust="spacingAndGlyphs">scaffold00089</text>
<text x="473.2" y="481.2" font-size="5.7" textLength="29.49" lengthAdjust="spacingAndGlyphs">scaffold00153</text>
<text x="473.2" y="491.5" font-size="5.7" textLength="29.49" lengthAdjust="spacingAndGlyphs">scaffold00074</text>
<text x="547" y="376.2" font-size="5.7" text-anchor="middle" textLength="29.49" lengthAdjust="spacingAndGlyphs">scaffold00096</text>
<text x="547" y="398.9" font-size="5.7" text-anchor="middle" textLength="29.49" lengthAdjust="spacingAndGlyphs">scaffold00071</text>
<text x="547" y="416.5" font-size="5.7" text-anchor="middle" textLength="29.49" lengthAdjust="spacingAndGlyphs">scaffold00337</text>
<text x="547" y="427.2" font-size="5.7" text-anchor="middle" textLength="34.78" lengthAdjust="spacingAndGlyphs">scaffold00149_1</text>
<text x="547" y="430.6" font-size="5.7" text-anchor="middle" textLength="29.49" lengthAdjust="spacingAndGlyphs">scaffold00178</text>
<text x="547" y="436.3" font-size="5.7" text-anchor="middle" textLength="29.49" lengthAdjust="spacingAndGlyphs">scaffold00150</text>
<text x="547" y="440.4" font-size="5.7" text-anchor="middle" textLength="29.49" lengthAdjust="spacingAndGlyphs">scaffold00266</text>
<text x="547" y="442" font-size="5.7" text-anchor="middle" textLength="29.49" lengthAdjust="spacingAndGlyphs">scaffold00189</text>
<text x="547" y="446.6" font-size="5.7" text-anchor="middle" textLength="29.49" lengthAdjust="spacingAndGlyphs">scaffold00107</text>
<text x="547" y="464.3" font-size="5.7" text-anchor="middle" textLength="34.78" lengthAdjust="spacingAndGlyphs">scaffold00009_1</text>
<text x="547" y="492.3" font-size="5.7" text-anchor="middle" textLength="29.49" lengthAdjust="spacingAndGlyphs">scaffold00035</text>
<text x="547" y="513.3" font-size="5.7" text-anchor="middle" textLength="29.49" lengthAdjust="spacingAndGlyphs">scaffold00073</text>
<text x="547" y="523.1" font-size="5.7" text-anchor="middle" textLength="29.49" lengthAdjust="spacingAndGlyphs">scaffold00171</text>
<text x="547" y="530.5" font-size="5.7" text-anchor="middle" textLength="29.49" lengthAdjust="spacingAndGlyphs">scaffold00089</text>
<text x="547" y="537.8" font-size="5.7" text-anchor="middle" textLength="29.49" lengthAdjust="spacingAndGlyphs">scaffold00184</text>
<text x="547" y="540.3" font-size="5.7" text-anchor="middle" textLength="29.49" lengthAdjust="spacingAndGlyphs">scaffold00226</text>
<text x="547" y="542.3" font-size="5.7" text-anchor="middle" textLength="29.49" lengthAdjust="spacingAndGlyphs">scaffold00199</text>
<text x="547" y="545" font-size="5.7" text-anchor="middle" textLength="29.49" lengthAdjust="spacingAndGlyphs">scaffold00153</text>
<text x="547" y="554.6" font-size="5.7" text-anchor="middle" textLength="29.49" lengthAdjust="spacingAndGlyphs">scaffold00074</text>
<text x="531.4" y="353.58" font-size="6.05" text-anchor="middle" fill="#111" class="t">Chr12</text>
<line x1="470.1" y1="365.2" x2="470.1" y2="420" style="stroke:#f4a2c5;stroke-width:2px"/>
<text x="458.8" y="397.9" font-size="5" text-anchor="middle" fill="#111" class="t">LG16</text>
<line x1="470.1" y1="424.3" x2="470.1" y2="492.9" style="stroke:#f4a2c5;stroke-width:2px"/>
<text x="458.5" y="466.8" font-size="5" text-anchor="middle" fill="#111" class="t">LG12</text>
<g clip-path="url(#c27)"><rect x="626" y="360" width="4.4" height="122" fill="#008000"/><rect x="626" y="365.2" width="4.4" height="0.6" fill="#fff" opacity="0.6"/><ellipse cx="626" cy="365.5" rx="1" ry="0.55" fill="#fff"/><ellipse cx="630.4" cy="365.5" rx="1" ry="0.55" fill="#fff"/><rect x="626" y="371.2" width="4.4" height="0.6" fill="#fff" opacity="0.6"/><ellipse cx="626" cy="371.5" rx="1" ry="0.55" fill="#fff"/><ellipse cx="630.4" cy="371.5" rx="1" ry="0.55" fill="#fff"/><rect x="626" y="381.2" width="4.4" height="0.6" fill="#fff" opacity="0.6"/><ellipse cx="626" cy="381.5" rx="1" ry="0.55" fill="#fff"/><ellipse cx="630.4" cy="381.5" rx="1" ry="0.55" fill="#fff"/><rect x="626" y="420.7" width="4.4" height="0.6" fill="#fff" opacity="0.6"/><ellipse cx="626" cy="421" rx="1" ry="0.55" fill="#fff"/><ellipse cx="630.4" cy="421" rx="1" ry="0.55" fill="#fff"/><rect x="626" y="430.2" width="4.4" height="0.6" fill="#fff" opacity="0.6"/><ellipse cx="626" cy="430.5" rx="1" ry="0.55" fill="#fff"/><ellipse cx="630.4" cy="430.5" rx="1" ry="0.55" fill="#fff"/><rect x="626" y="437.2" width="4.4" height="0.6" fill="#fff" opacity="0.6"/><ellipse cx="626" cy="437.5" rx="1" ry="0.55" fill="#fff"/><ellipse cx="630.4" cy="437.5" rx="1" ry="0.55" fill="#fff"/><rect x="626" y="443.7" width="4.4" height="0.6" fill="#fff" opacity="0.6"/><ellipse cx="626" cy="444" rx="1" ry="0.55" fill="#fff"/><ellipse cx="630.4" cy="444" rx="1" ry="0.55" fill="#fff"/><rect x="626" y="452.2" width="4.4" height="0.6" fill="#fff" opacity="0.6"/><ellipse cx="626" cy="452.5" rx="1" ry="0.55" fill="#fff"/><ellipse cx="630.4" cy="452.5" rx="1" ry="0.55" fill="#fff"/><rect x="626" y="461.7" width="4.4" height="0.6" fill="#fff" opacity="0.6"/><ellipse cx="626" cy="462" rx="1" ry="0.55" fill="#fff"/><ellipse cx="630.4" cy="462" rx="1" ry="0.55" fill="#fff"/><rect x="626" y="471.2" width="4.4" height="0.6" fill="#fff" opacity="0.6"/><ellipse cx="626" cy="471.5" rx="1" ry="0.55" fill="#fff"/><ellipse cx="630.4" cy="471.5" rx="1" ry="0.55" fill="#fff"/></g>
<g clip-path="url(#c28)"><rect x="643.67" y="359.5" width="4.25" height="206.9" fill="#008000"/><rect x="643.67" y="359.5" width="4.25" height="59.6" rx="1.2" fill="red"/><rect x="643.67" y="422.6" width="4.25" height="6.1" rx="1.2" fill="red"/><rect x="643.67" y="519.3" width="4.25" height="9.7" rx="1.2" fill="red"/><rect x="643.67" y="557.1" width="4.25" height="9.3" rx="1.2" fill="red"/><rect x="643.67" y="435.7" width="4.25" height="0.6" fill="#fff" opacity="0.6"/><ellipse cx="643.67" cy="436" rx="1" ry="0.55" fill="#fff"/><ellipse cx="647.92" cy="436" rx="1" ry="0.55" fill="#fff"/><rect x="643.67" y="446.2" width="4.25" height="0.6" fill="#fff" opacity="0.6"/><ellipse cx="643.67" cy="446.5" rx="1" ry="0.55" fill="#fff"/><ellipse cx="647.92" cy="446.5" rx="1" ry="0.55" fill="#fff"/><rect x="643.67" y="483.7" width="4.25" height="0.6" fill="#fff" opacity="0.6"/><ellipse cx="643.67" cy="484" rx="1" ry="0.55" fill="#fff"/><ellipse cx="647.92" cy="484" rx="1" ry="0.55" fill="#fff"/><rect x="643.67" y="494.7" width="4.25" height="0.6" fill="#fff" opacity="0.6"/><ellipse cx="643.67" cy="495" rx="1" ry="0.55" fill="#fff"/><ellipse cx="647.92" cy="495" rx="1" ry="0.55" fill="#fff"/><rect x="643.67" y="502.2" width="4.25" height="0.6" fill="#fff" opacity="0.6"/><ellipse cx="643.67" cy="502.5" rx="1" ry="0.55" fill="#fff"/><ellipse cx="647.92" cy="502.5" rx="1" ry="0.55" fill="#fff"/><rect x="643.67" y="508.2" width="4.25" height="0.6" fill="#fff" opacity="0.6"/><ellipse cx="643.67" cy="508.5" rx="1" ry="0.55" fill="#fff"/><ellipse cx="647.92" cy="508.5" rx="1" ry="0.55" fill="#fff"/><rect x="643.67" y="517.2" width="4.25" height="0.6" fill="#fff" opacity="0.6"/><ellipse cx="643.67" cy="517.5" rx="1" ry="0.55" fill="#fff"/><ellipse cx="647.92" cy="517.5" rx="1" ry="0.55" fill="#fff"/><rect x="643.67" y="536.7" width="4.25" height="0.6" fill="#fff" opacity="0.6"/><ellipse cx="643.67" cy="537" rx="1" ry="0.55" fill="#fff"/><ellipse cx="647.92" cy="537" rx="1" ry="0.55" fill="#fff"/><rect x="643.67" y="546.2" width="4.25" height="0.6" fill="#fff" opacity="0.6"/><ellipse cx="643.67" cy="546.5" rx="1" ry="0.55" fill="#fff"/><ellipse cx="647.92" cy="546.5" rx="1" ry="0.55" fill="#fff"/></g>
<rect x="643.47" y="359.7" width="4.65" height="59.2" rx="1" fill="red"/>
<ellipse cx="643.42" cy="360.8" rx="0.5" ry="0.42" fill="#fff"/><ellipse cx="648.17" cy="360.8" rx="0.5" ry="0.42" fill="#fff"/>
<ellipse cx="643.42" cy="362.55" rx="0.75" ry="0.42" fill="#fff"/><ellipse cx="648.17" cy="362.55" rx="0.75" ry="0.42" fill="#fff"/>
<ellipse cx="643.42" cy="364.3" rx="0.75" ry="0.42" fill="#fff"/><ellipse cx="648.17" cy="364.3" rx="0.75" ry="0.42" fill="#fff"/>
<ellipse cx="643.42" cy="366.05" rx="0.5" ry="0.42" fill="#fff"/><ellipse cx="648.17" cy="366.05" rx="0.5" ry="0.42" fill="#fff"/>
<ellipse cx="643.42" cy="367.8" rx="0.75" ry="0.42" fill="#fff"/><ellipse cx="648.17" cy="367.8" rx="0.75" ry="0.42" fill="#fff"/>
<ellipse cx="643.42" cy="369.55" rx="0.75" ry="0.42" fill="#fff"/><ellipse cx="648.17" cy="369.55" rx="0.75" ry="0.42" fill="#fff"/>
<ellipse cx="643.42" cy="371.3" rx="0.5" ry="0.42" fill="#fff"/><ellipse cx="648.17" cy="371.3" rx="0.5" ry="0.42" fill="#fff"/>
<ellipse cx="643.42" cy="373.05" rx="0.75" ry="0.42" fill="#fff"/><ellipse cx="648.17" cy="373.05" rx="0.75" ry="0.42" fill="#fff"/>
<ellipse cx="643.42" cy="374.8" rx="0.75" ry="0.42" fill="#fff"/><ellipse cx="648.17" cy="374.8" rx="0.75" ry="0.42" fill="#fff"/>
<ellipse cx="643.42" cy="376.55" rx="0.5" ry="0.42" fill="#fff"/><ellipse cx="648.17" cy="376.55" rx="0.5" ry="0.42" fill="#fff"/>
<ellipse cx="643.42" cy="378.3" rx="0.75" ry="0.42" fill="#fff"/><ellipse cx="648.17" cy="378.3" rx="0.75" ry="0.42" fill="#fff"/>
<ellipse cx="643.42" cy="380.05" rx="0.75" ry="0.42" fill="#fff"/><ellipse cx="648.17" cy="380.05" rx="0.75" ry="0.42" fill="#fff"/>
<ellipse cx="643.42" cy="381.8" rx="0.5" ry="0.42" fill="#fff"/><ellipse cx="648.17" cy="381.8" rx="0.5" ry="0.42" fill="#fff"/>
<ellipse cx="643.42" cy="383.55" rx="0.75" ry="0.42" fill="#fff"/><ellipse cx="648.17" cy="383.55" rx="0.75" ry="0.42" fill="#fff"/>
<ellipse cx="643.42" cy="385.3" rx="0.75" ry="0.42" fill="#fff"/><ellipse cx="648.17" cy="385.3" rx="0.75" ry="0.42" fill="#fff"/>
<ellipse cx="643.42" cy="387.05" rx="0.5" ry="0.42" fill="#fff"/><ellipse cx="648.17" cy="387.05" rx="0.5" ry="0.42" fill="#fff"/>
<ellipse cx="643.42" cy="388.8" rx="0.75" ry="0.42" fill="#fff"/><ellipse cx="648.17" cy="388.8" rx="0.75" ry="0.42" fill="#fff"/>
<ellipse cx="643.42" cy="390.55" rx="0.75" ry="0.42" fill="#fff"/><ellipse cx="648.17" cy="390.55" rx="0.75" ry="0.42" fill="#fff"/>
<ellipse cx="643.42" cy="392.3" rx="0.5" ry="0.42" fill="#fff"/><ellipse cx="648.17" cy="392.3" rx="0.5" ry="0.42" fill="#fff"/>
<ellipse cx="643.42" cy="394.05" rx="0.75" ry="0.42" fill="#fff"/><ellipse cx="648.17" cy="394.05" rx="0.75" ry="0.42" fill="#fff"/>
<ellipse cx="643.42" cy="395.8" rx="0.75" ry="0.42" fill="#fff"/><ellipse cx="648.17" cy="395.8" rx="0.75" ry="0.42" fill="#fff"/>
<ellipse cx="643.42" cy="397.55" rx="0.5" ry="0.42" fill="#fff"/><ellipse cx="648.17" cy="397.55" rx="0.5" ry="0.42" fill="#fff"/>
<ellipse cx="643.42" cy="399.3" rx="0.75" ry="0.42" fill="#fff"/><ellipse cx="648.17" cy="399.3" rx="0.75" ry="0.42" fill="#fff"/>
<ellipse cx="643.42" cy="401.05" rx="0.75" ry="0.42" fill="#fff"/><ellipse cx="648.17" cy="401.05" rx="0.75" ry="0.42" fill="#fff"/>
<ellipse cx="643.42" cy="402.8" rx="0.5" ry="0.42" fill="#fff"/><ellipse cx="648.17" cy="402.8" rx="0.5" ry="0.42" fill="#fff"/>
<ellipse cx="643.42" cy="404.55" rx="0.75" ry="0.42" fill="#fff"/><ellipse cx="648.17" cy="404.55" rx="0.75" ry="0.42" fill="#fff"/>
<ellipse cx="643.42" cy="406.3" rx="0.75" ry="0.42" fill="#fff"/><ellipse cx="648.17" cy="406.3" rx="0.75" ry="0.42" fill="#fff"/>
<ellipse cx="643.42" cy="408.05" rx="0.5" ry="0.42" fill="#fff"/><ellipse cx="648.17" cy="408.05" rx="0.5" ry="0.42" fill="#fff"/>
<ellipse cx="643.42" cy="409.8" rx="0.75" ry="0.42" fill="#fff"/><ellipse cx="648.17" cy="409.8" rx="0.75" ry="0.42" fill="#fff"/>
<ellipse cx="643.42" cy="411.55" rx="0.75" ry="0.42" fill="#fff"/><ellipse cx="648.17" cy="411.55" rx="0.75" ry="0.42" fill="#fff"/>
<ellipse cx="643.42" cy="413.3" rx="0.5" ry="0.42" fill="#fff"/><ellipse cx="648.17" cy="413.3" rx="0.5" ry="0.42" fill="#fff"/>
<ellipse cx="643.42" cy="415.05" rx="0.75" ry="0.42" fill="#fff"/><ellipse cx="648.17" cy="415.05" rx="0.75" ry="0.42" fill="#fff"/>
<ellipse cx="643.42" cy="416.8" rx="0.75" ry="0.42" fill="#fff"/><ellipse cx="648.17" cy="416.8" rx="0.75" ry="0.42" fill="#fff"/>
<line x1="628.2" y1="363.9" x2="645.8" y2="432.2" style="stroke-width:1.25px"/>
<line x1="628.2" y1="369.2" x2="645.8" y2="420.8" style="stroke-width:1.25px"/>
<line x1="628.2" y1="377" x2="645.8" y2="441.9" style="stroke-width:1.25px"/>
<line x1="628.2" y1="400.7" x2="645.8" y2="465" style="stroke-width:1.25px"/>
<line x1="628.2" y1="425.5" x2="645.8" y2="490.4" style="stroke-width:1.25px"/>
<line x1="628.2" y1="435.3" x2="645.8" y2="500.1" style="stroke-width:1.25px"/>
<line x1="628.2" y1="441" x2="645.8" y2="505.7" style="stroke-width:1.25px"/>
<line x1="628.2" y1="449" x2="645.8" y2="513.6" style="stroke-width:1.25px"/>
<line x1="628.2" y1="458.5" x2="645.8" y2="533.4" style="stroke-width:1.25px"/>
<line x1="628.2" y1="468" x2="645.8" y2="542.7" style="stroke-width:1.25px"/>
<line x1="628.2" y1="477.8" x2="645.8" y2="552.3" style="stroke-width:1.25px"/>
<text x="594.8" y="364.29" font-size="5.4" textLength="27.61" lengthAdjust="spacingAndGlyphs">scaffold00117</text>
<text x="594.8" y="369.89" font-size="5.4" textLength="27.94" lengthAdjust="spacingAndGlyphs">scaffold00176</text>
<text x="594.8" y="377.69" font-size="5.4" textLength="27.94" lengthAdjust="spacingAndGlyphs">scaffold00083</text>
<text x="594.8" y="400.99" font-size="5.4" textLength="27.94" lengthAdjust="spacingAndGlyphs">scaffold00017</text>
<text x="594.8" y="425.89" font-size="5.4" textLength="27.94" lengthAdjust="spacingAndGlyphs">scaffold00077</text>
<text x="594.8" y="435.69" font-size="5.4" textLength="27.94" lengthAdjust="spacingAndGlyphs">scaffold00156</text>
<text x="594.8" y="441.49" font-size="5.4" textLength="27.94" lengthAdjust="spacingAndGlyphs">scaffold00144</text>
<text x="594.8" y="449.29" font-size="5.4" textLength="27.94" lengthAdjust="spacingAndGlyphs">scaffold00097</text>
<text x="594.8" y="458.89" font-size="5.4" textLength="27.94" lengthAdjust="spacingAndGlyphs">scaffold00104</text>
<text x="594.8" y="468.39" font-size="5.4" textLength="27.94" lengthAdjust="spacingAndGlyphs">scaffold00120</text>
<text x="594.8" y="478.19" font-size="5.4" textLength="27.94" lengthAdjust="spacingAndGlyphs">scaffold00100</text>
<text x="666.6" y="361.59" font-size="5.4" text-anchor="middle" textLength="27.94" lengthAdjust="spacingAndGlyphs">scaffold00340</text>
<text x="666.6" y="378.59" font-size="5.4" text-anchor="middle" textLength="32.95" lengthAdjust="spacingAndGlyphs">scaffold00015_1</text>
<text x="666.6" y="397.49" font-size="5.4" text-anchor="middle" textLength="27.94" lengthAdjust="spacingAndGlyphs">scaffold00244</text>
<text x="666.6" y="401.59" font-size="5.4" text-anchor="middle" textLength="27.94" lengthAdjust="spacingAndGlyphs">scaffold00215</text>
<text x="666.6" y="406.79" font-size="5.4" text-anchor="middle" textLength="27.94" lengthAdjust="spacingAndGlyphs">scaffold00132</text>
<text x="666.6" y="414.19" font-size="5.4" text-anchor="middle" textLength="27.94" lengthAdjust="spacingAndGlyphs">scaffold00106</text>
<text x="666.6" y="421.19" font-size="5.4" text-anchor="middle" textLength="27.94" lengthAdjust="spacingAndGlyphs">scaffold00176</text>
<text x="666.6" y="424.19" font-size="5.4" text-anchor="middle" textLength="27.94" lengthAdjust="spacingAndGlyphs">scaffold00271</text>
<text x="666.6" y="426.09" font-size="5.4" text-anchor="middle" textLength="27.94" lengthAdjust="spacingAndGlyphs">scaffold00195</text>
<text x="666.6" y="428.19" font-size="5.4" text-anchor="middle" textLength="27.94" lengthAdjust="spacingAndGlyphs">scaffold00291</text>
<text x="666.6" y="433.29" font-size="5.4" text-anchor="middle" textLength="27.61" lengthAdjust="spacingAndGlyphs">scaffold00117</text>
<text x="666.6" y="442.89" font-size="5.4" text-anchor="middle" textLength="27.94" lengthAdjust="spacingAndGlyphs">scaffold00083</text>
<text x="666.6" y="465.89" font-size="5.4" text-anchor="middle" textLength="27.94" lengthAdjust="spacingAndGlyphs">scaffold00017</text>
<text x="666.6" y="490.79" font-size="5.4" text-anchor="middle" textLength="27.94" lengthAdjust="spacingAndGlyphs">scaffold00077</text>
<text x="666.6" y="500.99" font-size="5.4" text-anchor="middle" textLength="27.94" lengthAdjust="spacingAndGlyphs">scaffold00156</text>
<text x="666.6" y="506.59" font-size="5.4" text-anchor="middle" textLength="27.94" lengthAdjust="spacingAndGlyphs">scaffold00144</text>
<text x="666.6" y="514.39" font-size="5.4" text-anchor="middle" textLength="27.94" lengthAdjust="spacingAndGlyphs">scaffold00097</text>
<text x="666.6" y="524.59" font-size="5.4" text-anchor="middle" textLength="32.95" lengthAdjust="spacingAndGlyphs">scaffold00002_1</text>
<text x="666.6" y="534.29" font-size="5.4" text-anchor="middle" textLength="27.94" lengthAdjust="spacingAndGlyphs">scaffold00104</text>
<text x="666.6" y="543.49" font-size="5.4" text-anchor="middle" textLength="27.94" lengthAdjust="spacingAndGlyphs">scaffold00120</text>
<text x="666.6" y="552.89" font-size="5.4" text-anchor="middle" textLength="27.94" lengthAdjust="spacingAndGlyphs">scaffold00100</text>
<text x="666.6" y="558.49" font-size="5.4" text-anchor="middle" textLength="15.76" lengthAdjust="spacingAndGlyphs">C00675</text>
<text x="666.6" y="562.89" font-size="5.4" text-anchor="middle" textLength="27.94" lengthAdjust="spacingAndGlyphs">scaffold00126</text>
<text x="651.3" y="351.68" font-size="6.05" text-anchor="middle" fill="#111" class="t">Chr13</text>
<line x1="587.4" y1="361.3" x2="587.4" y2="415.6" style="stroke:#f4a2c5;stroke-width:2px"/>
<text x="578.2" y="385.6" font-size="5" text-anchor="middle" fill="#111" class="t">LG14</text>
<line x1="587.4" y1="420.8" x2="587.4" y2="480.8" style="stroke:#f4a2c5;stroke-width:2px"/>
<text x="578.2" y="444.5" font-size="5" text-anchor="middle" fill="#111" class="t">LG13</text>
</g>
</svg>
</body>
</html>
